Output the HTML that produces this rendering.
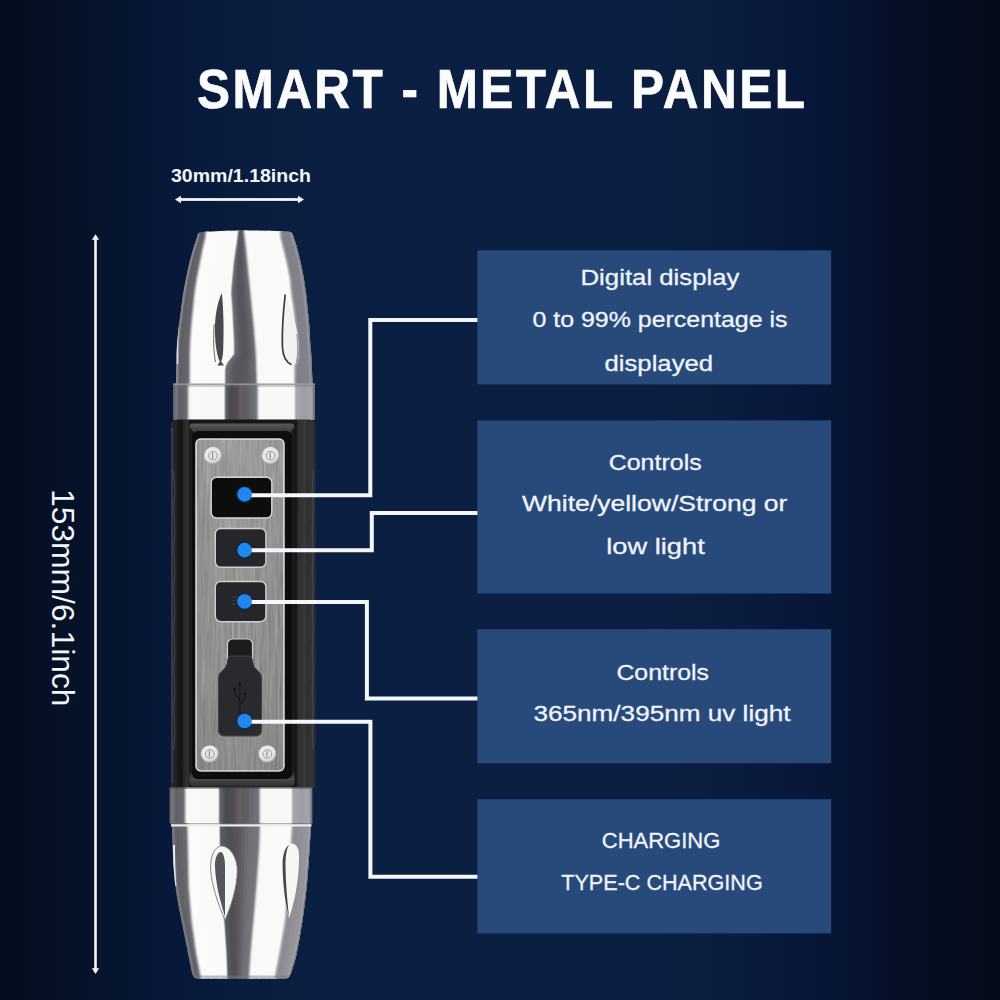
<!DOCTYPE html>
<html><head><meta charset="utf-8">
<style>
html,body{margin:0;padding:0;width:1000px;height:1000px;overflow:hidden;background:#0a1a3e;}
svg{display:block;position:absolute;left:0;top:0;}
text{font-family:"Liberation Sans",sans-serif;fill:#f2f5fa;}
</style></head><body>
<svg width="1000" height="1000" viewBox="0 0 1000 1000">
<defs>
<linearGradient id="bg" x1="0" y1="0" x2="1000" y2="0" gradientUnits="userSpaceOnUse">
<stop offset="0" stop-color="#040d1e"/>
<stop offset="0.03" stop-color="#050f22"/>
<stop offset="0.13" stop-color="#06152f"/>
<stop offset="0.17" stop-color="#07183a"/>
<stop offset="0.23" stop-color="#091c3c"/>
<stop offset="0.32" stop-color="#0b1f42"/>
<stop offset="0.65" stop-color="#0b1f42"/>
<stop offset="0.73" stop-color="#0a1d3e"/>
<stop offset="0.80" stop-color="#08173a"/>
<stop offset="0.86" stop-color="#061330"/>
<stop offset="0.90" stop-color="#050f24"/>
<stop offset="0.97" stop-color="#050d1e"/>
<stop offset="1" stop-color="#040b1a"/>
</linearGradient>
<linearGradient id="gL" x1="0" y1="0" x2="1" y2="0">
<stop offset="0" stop-color="#3c3c3c"/>
<stop offset="0.2" stop-color="#6a6a6a"/>
<stop offset="0.6" stop-color="#7c7c7c"/>
<stop offset="0.9" stop-color="#8e8e8e"/>
<stop offset="1" stop-color="#c8c8c8"/>
</linearGradient>
<linearGradient id="gS" x1="0" y1="0" x2="1" y2="0">
<stop offset="0" stop-color="#a0a0a0"/>
<stop offset="0.12" stop-color="#6c6c6c"/>
<stop offset="0.5" stop-color="#7a7474"/>
<stop offset="0.85" stop-color="#626262"/>
<stop offset="1" stop-color="#9a9a9a"/>
</linearGradient>
<linearGradient id="gS2" x1="0" y1="0" x2="1" y2="0">
<stop offset="0" stop-color="#9a9a9a"/>
<stop offset="0.1" stop-color="#555555"/>
<stop offset="0.5" stop-color="#7d7070"/>
<stop offset="0.85" stop-color="#646464"/>
<stop offset="1" stop-color="#a8a8a8"/>
</linearGradient>
<linearGradient id="gR" x1="0" y1="0" x2="1" y2="0">
<stop offset="0" stop-color="#d8d8d8"/>
<stop offset="0.25" stop-color="#a8a8a8"/>
<stop offset="0.7" stop-color="#8e8e8e"/>
<stop offset="0.9" stop-color="#a0a0a0"/>
<stop offset="1" stop-color="#5a5a5a"/>
</linearGradient>
<linearGradient id="panelV" x1="0" y1="0" x2="0" y2="1">
<stop offset="0" stop-color="#a9a9ab"/>
<stop offset="0.45" stop-color="#9b9b9d"/>
<stop offset="1" stop-color="#8c8c8e"/>
</linearGradient>
<linearGradient id="brushed" x1="0" y1="0" x2="1" y2="0">
<stop offset="0" stop-color="#7e7e7e"/>
<stop offset="0.35" stop-color="#9e9e9e"/>
<stop offset="0.65" stop-color="#969696"/>
<stop offset="1" stop-color="#808080"/>
</linearGradient>
<linearGradient id="rub" x1="171" y1="0" x2="315.5" y2="0" gradientUnits="userSpaceOnUse">
<stop offset="0" stop-color="#2a2c30"/>
<stop offset="0.03" stop-color="#232323"/>
<stop offset="0.06" stop-color="#151515"/>
<stop offset="0.08" stop-color="#1a1a1a"/>
<stop offset="0.10" stop-color="#2e2e2e"/>
<stop offset="0.12" stop-color="#303030"/>
<stop offset="0.13" stop-color="#141414"/>
<stop offset="0.87" stop-color="#141414"/>
<stop offset="0.875" stop-color="#2a2a2a"/>
<stop offset="0.93" stop-color="#3a3a3a"/>
<stop offset="0.94" stop-color="#2e2e2e"/>
<stop offset="0.98" stop-color="#333"/>
<stop offset="1" stop-color="#2a2c30"/>
</linearGradient>
<linearGradient id="chamT" x1="0" y1="0" x2="0" y2="1">
<stop offset="0" stop-color="#5a5a5a"/>
<stop offset="1" stop-color="#2a2a2a"/>
</linearGradient>
<linearGradient id="chamB" x1="0" y1="0" x2="0" y2="1">
<stop offset="0" stop-color="#1a1a1a"/>
<stop offset="0.55" stop-color="#4a4a4c"/>
<stop offset="1" stop-color="#2e2e30"/>
</linearGradient>
<filter id="brushF" x="0" y="0" width="1" height="1" color-interpolation-filters="sRGB">
<feTurbulence type="fractalNoise" baseFrequency="0.5 0.02" numOctaves="3" seed="7" result="n"/>
<feColorMatrix in="n" type="matrix" values="0.6 0.6 0.6 0 -0.4  0.6 0.6 0.6 0 -0.4  0.6 0.6 0.6 0 -0.4  0 0 0 0 1"/>
</filter>
<clipPath id="panelClip"><rect x="195.5" y="438.5" width="89" height="333" rx="5"/></clipPath>
<filter id="soft" x="-5%" y="-2%" width="110%" height="104%"><feGaussianBlur stdDeviation="0.45"/></filter>
<clipPath id="headClip"><path d="M197.2,236.4 C197.6,233.4 199.2,232.2 202,231.9 Q246,229.4 288.5,231.5 C291.2,231.7 293,233.4 293.4,236.4 C293.9,238.0 295.4,241.7 296.6,246.0 C297.8,250.3 299.4,256.7 300.6,262.0 C301.8,267.3 302.9,272.7 303.8,278.0 C304.7,283.3 305.5,288.7 306.2,294.0 C306.9,299.3 307.3,304.7 307.8,310.0 C308.3,315.3 309.0,320.7 309.4,326.0 C309.8,331.3 309.8,336.7 310.2,342.0 C310.6,347.3 311.1,351.0 311.5,358.0 C311.9,365.0 312.4,379.7 312.6,384.0 L176,384 C176.1,379.7 176.2,365.0 176.4,358.0 C176.6,351.0 176.8,347.3 177.2,342.0 C177.6,336.7 178.2,331.3 178.8,326.0 C179.4,320.7 180.2,315.3 180.9,310.0 C181.6,304.7 182.2,299.3 183.1,294.0 C183.9,288.7 184.9,283.3 186.0,278.0 C187.1,272.7 188.2,267.3 189.5,262.0 C190.8,256.7 192.7,250.3 194.0,246.0 C195.3,241.7 196.7,238.0 197.2,236.4 Z"/></clipPath>
<linearGradient id="gLh" x1="0" y1="0" x2="1" y2="0">
<stop offset="0" stop-color="#6a6a70"/>
<stop offset="0.42" stop-color="#8e8e94"/>
<stop offset="0.55" stop-color="#6c6c72"/>
<stop offset="0.85" stop-color="#76767c"/>
<stop offset="1" stop-color="#c4c4c6"/>
</linearGradient>
<linearGradient id="gRh" x1="0" y1="0" x2="1" y2="0">
<stop offset="0" stop-color="#c8c8ca"/>
<stop offset="0.2" stop-color="#8a8a90"/>
<stop offset="0.45" stop-color="#74747a"/>
<stop offset="0.62" stop-color="#a6a6ac"/>
<stop offset="0.75" stop-color="#6e6e76"/>
<stop offset="1" stop-color="#5a5a62"/>
</linearGradient>
<radialGradient id="scr" cx="0.45" cy="0.4" r="0.6">
<stop offset="0" stop-color="#f6f6f6"/>
<stop offset="0.75" stop-color="#e2e2e2"/>
<stop offset="1" stop-color="#9c9c9c"/>
</radialGradient>
</defs>

<rect x="0" y="0" width="1000" height="1000" fill="url(#bg)"/>

<text transform="scale(0.9,1)" x="218.9" y="108.3" font-size="55" font-weight="bold" textLength="675.5" lengthAdjust="spacing" style="fill:#fcfcfd;stroke:#fcfcfd;stroke-width:0.7">SMART - METAL PANEL</text>

<text x="171" y="181.8" font-size="18" font-weight="bold" textLength="140" lengthAdjust="spacingAndGlyphs">30mm/1.18inch</text>
<rect x="180" y="198.1" width="119" height="2.8" fill="#f2f4f8"/>
<polygon points="175,199.5 181,195.7 181,203.3" fill="#f2f4f8"/>
<polygon points="304,199.5 298,195.7 298,203.3" fill="#f2f4f8"/>

<rect x="94.2" y="239" width="2.6" height="730" fill="#f2f4f8"/>
<polygon points="95.5,234.2 91.8,239.8 99.2,239.8" fill="#f2f4f8"/>
<polygon points="95.5,974 91.8,968.3 99.2,968.3" fill="#f2f4f8"/>
<text transform="translate(51.8,489) rotate(90)" x="0" y="0" font-size="31.5" textLength="217.5" lengthAdjust="spacingAndGlyphs">153mm/6.1inch</text>

<g filter="url(#soft)">
<g clip-path="url(#headClip)">
<path d="M187.2,226.0 L187.2,230.0 L187.2,234.0 L186.7,238.0 L185.3,242.0 L184.0,246.0 L182.9,250.0 L181.8,254.0 L180.6,258.0 L179.5,262.0 L178.6,266.0 L177.8,270.0 L176.9,274.0 L176.0,278.0 L175.3,282.0 L174.6,286.0 L173.8,290.0 L173.1,294.0 L172.6,298.0 L172.0,302.0 L171.4,306.0 L170.9,310.0 L170.4,314.0 L169.9,318.0 L169.3,322.0 L168.8,326.0 L168.4,330.0 L168.0,334.0 L167.6,338.0 L167.2,342.0 L167.0,346.0 L166.8,350.0 L166.6,354.0 L166.4,358.0 L166.3,362.0 L166.3,366.0 L166.2,370.0 L166.2,374.0 L166.1,378.0 L166.1,382.0 L166.0,386.0 L170.6,386.0 L170.7,382.0 L170.7,378.0 L170.8,374.0 L170.9,370.0 L170.9,366.0 L171.0,362.0 L171.0,358.0 L171.2,354.0 L171.4,350.0 L171.6,346.0 L171.8,342.0 L172.2,338.0 L172.6,334.0 L173.0,330.0 L173.4,326.0 L174.0,322.0 L174.5,318.0 L175.0,314.0 L175.5,310.0 L176.1,306.0 L176.6,302.0 L177.2,298.0 L177.7,294.0 L178.5,290.0 L179.2,286.0 L179.9,282.0 L180.6,278.0 L181.5,274.0 L182.4,270.0 L183.3,266.0 L184.1,262.0 L185.3,258.0 L186.4,254.0 L187.5,250.0 L188.6,246.0 L190.0,242.0 L191.3,238.0 L191.8,234.0 L191.8,230.0 L191.8,226.0Z" fill="#7a7a80"/><path d="M190.5,226.0 L190.5,230.0 L190.5,234.0 L190.0,238.0 L188.7,242.0 L187.3,246.0 L186.2,250.0 L185.1,254.0 L184.0,258.0 L182.8,262.0 L182.0,266.0 L181.1,270.0 L180.2,274.0 L179.3,278.0 L178.6,282.0 L177.9,286.0 L177.2,290.0 L176.4,294.0 L175.9,298.0 L175.3,302.0 L174.8,306.0 L174.2,310.0 L173.7,314.0 L173.2,318.0 L172.7,322.0 L172.1,326.0 L171.7,330.0 L171.3,334.0 L170.9,338.0 L170.5,342.0 L170.3,346.0 L170.1,350.0 L169.9,354.0 L169.7,358.0 L169.7,362.0 L169.6,366.0 L169.6,370.0 L169.5,374.0 L169.4,378.0 L169.4,382.0 L169.3,386.0 L174.0,386.0 L174.0,382.0 L174.1,378.0 L174.1,374.0 L174.2,370.0 L174.3,366.0 L174.3,362.0 L174.4,358.0 L174.6,354.0 L174.8,350.0 L175.0,346.0 L175.2,342.0 L175.6,338.0 L176.0,334.0 L176.4,330.0 L176.8,326.0 L177.3,322.0 L177.8,318.0 L178.3,314.0 L178.9,310.0 L179.4,306.0 L180.0,302.0 L180.5,298.0 L181.1,294.0 L181.8,290.0 L182.5,286.0 L183.2,282.0 L184.0,278.0 L184.8,274.0 L185.7,270.0 L186.6,266.0 L187.5,262.0 L188.6,258.0 L189.7,254.0 L190.8,250.0 L192.0,246.0 L193.3,242.0 L194.6,238.0 L195.2,234.0 L195.2,230.0 L195.2,226.0Z" fill="#7b7b81"/><path d="M193.9,226.0 L193.9,230.0 L193.9,234.0 L193.3,238.0 L192.0,242.0 L190.7,246.0 L189.5,250.0 L188.4,254.0 L187.3,258.0 L186.2,262.0 L185.3,266.0 L184.4,270.0 L183.5,274.0 L182.7,278.0 L181.9,282.0 L181.2,286.0 L180.5,290.0 L179.8,294.0 L179.2,298.0 L178.7,302.0 L178.1,306.0 L177.6,310.0 L177.0,314.0 L176.5,318.0 L176.0,322.0 L175.5,326.0 L175.1,330.0 L174.7,334.0 L174.3,338.0 L173.9,342.0 L173.7,346.0 L173.5,350.0 L173.3,354.0 L173.1,358.0 L173.0,362.0 L173.0,366.0 L172.9,370.0 L172.8,374.0 L172.8,378.0 L172.7,382.0 L172.7,386.0 L177.3,386.0 L177.4,382.0 L177.4,378.0 L177.5,374.0 L177.5,370.0 L177.6,366.0 L177.6,362.0 L177.7,358.0 L177.9,354.0 L178.1,350.0 L178.3,346.0 L178.5,342.0 L178.9,338.0 L179.3,334.0 L179.7,330.0 L180.1,326.0 L180.6,322.0 L181.2,318.0 L181.7,314.0 L182.2,310.0 L182.8,306.0 L183.3,302.0 L183.9,298.0 L184.4,294.0 L185.1,290.0 L185.9,286.0 L186.6,282.0 L187.3,278.0 L188.2,274.0 L189.1,270.0 L189.9,266.0 L190.8,262.0 L191.9,258.0 L193.1,254.0 L194.2,250.0 L195.3,246.0 L196.6,242.0 L198.0,238.0 L198.5,234.0 L198.5,230.0 L198.5,226.0Z" fill="#7c7c82"/><path d="M197.2,226.0 L197.2,230.0 L197.2,234.0 L196.7,238.0 L195.3,242.0 L194.0,246.0 L192.9,250.0 L191.8,254.0 L190.6,258.0 L189.5,262.0 L188.6,266.0 L187.8,270.0 L186.9,274.0 L186.0,278.0 L185.3,282.0 L184.6,286.0 L183.8,290.0 L183.1,294.0 L182.6,298.0 L182.0,302.0 L181.4,306.0 L180.9,310.0 L180.4,314.0 L179.9,318.0 L179.3,322.0 L178.8,326.0 L178.4,330.0 L178.0,334.0 L177.6,338.0 L177.2,342.0 L177.0,346.0 L176.8,350.0 L176.6,354.0 L176.4,358.0 L176.3,362.0 L176.3,366.0 L176.2,370.0 L176.2,374.0 L176.1,378.0 L176.1,382.0 L176.0,386.0 L177.7,386.0 L177.8,382.0 L177.8,378.0 L177.9,374.0 L177.9,370.0 L178.0,366.0 L178.0,362.0 L178.1,358.0 L178.3,354.0 L178.5,350.0 L178.7,346.0 L178.9,342.0 L179.3,338.0 L179.7,334.0 L180.1,330.0 L180.5,326.0 L181.0,322.0 L181.6,318.0 L182.1,314.0 L182.6,310.0 L183.2,306.0 L183.7,302.0 L184.3,298.0 L184.8,294.0 L185.5,290.0 L186.3,286.0 L187.0,282.0 L187.7,278.0 L188.6,274.0 L189.5,270.0 L190.3,266.0 L191.2,262.0 L192.3,258.0 L193.5,254.0 L194.6,250.0 L195.7,246.0 L197.0,242.0 L198.4,238.0 L198.9,234.0 L198.9,230.0 L198.9,226.0Z" fill="#7f7f85"/><path d="M197.6,226.0 L197.6,230.0 L197.6,234.0 L197.1,238.0 L195.7,242.0 L194.4,246.0 L193.3,250.0 L192.2,254.0 L191.0,258.0 L189.9,262.0 L189.0,266.0 L188.2,270.0 L187.3,274.0 L186.4,278.0 L185.7,282.0 L185.0,286.0 L184.2,290.0 L183.5,294.0 L183.0,298.0 L182.4,302.0 L181.8,306.0 L181.3,310.0 L180.8,314.0 L180.3,318.0 L179.7,322.0 L179.2,326.0 L178.8,330.0 L178.4,334.0 L178.0,338.0 L177.6,342.0 L177.4,346.0 L177.2,350.0 L177.0,354.0 L176.8,358.0 L176.7,362.0 L176.7,366.0 L176.6,370.0 L176.6,374.0 L176.5,378.0 L176.5,382.0 L176.4,386.0 L178.1,386.0 L178.2,382.0 L178.2,378.0 L178.3,374.0 L178.3,370.0 L178.4,366.0 L178.4,362.0 L178.5,358.0 L178.7,354.0 L178.9,350.0 L179.1,346.0 L179.3,342.0 L179.7,338.0 L180.1,334.0 L180.5,330.0 L180.9,326.0 L181.4,322.0 L182.0,318.0 L182.5,314.0 L183.0,310.0 L183.5,306.0 L184.1,302.0 L184.7,298.0 L185.2,294.0 L185.9,290.0 L186.7,286.0 L187.4,282.0 L188.1,278.0 L189.0,274.0 L189.8,270.0 L190.7,266.0 L191.6,262.0 L192.7,258.0 L193.8,254.0 L195.0,250.0 L196.1,246.0 L197.4,242.0 L198.8,238.0 L199.3,234.0 L199.3,230.0 L199.3,226.0Z" fill="#84848a"/><path d="M198.0,226.0 L198.0,230.0 L198.0,234.0 L197.5,238.0 L196.1,242.0 L194.8,246.0 L193.7,250.0 L192.5,254.0 L191.4,258.0 L190.3,262.0 L189.4,266.0 L188.5,270.0 L187.7,274.0 L186.8,278.0 L186.1,282.0 L185.3,286.0 L184.6,290.0 L183.9,294.0 L183.3,298.0 L182.8,302.0 L182.2,306.0 L181.7,310.0 L181.2,314.0 L180.7,318.0 L180.1,322.0 L179.6,326.0 L179.2,330.0 L178.8,334.0 L178.4,338.0 L178.0,342.0 L177.8,346.0 L177.6,350.0 L177.4,354.0 L177.2,358.0 L177.1,362.0 L177.1,366.0 L177.0,370.0 L177.0,374.0 L176.9,378.0 L176.9,382.0 L176.8,386.0 L178.5,386.0 L178.6,382.0 L178.6,378.0 L178.7,374.0 L178.7,370.0 L178.8,366.0 L178.8,362.0 L178.9,358.0 L179.1,354.0 L179.3,350.0 L179.5,346.0 L179.7,342.0 L180.1,338.0 L180.5,334.0 L180.9,330.0 L181.3,326.0 L181.8,322.0 L182.4,318.0 L182.9,314.0 L183.4,310.0 L183.9,306.0 L184.5,302.0 L185.1,298.0 L185.6,294.0 L186.3,290.0 L187.1,286.0 L187.8,282.0 L188.5,278.0 L189.4,274.0 L190.2,270.0 L191.1,266.0 L192.0,262.0 L193.1,258.0 L194.2,254.0 L195.4,250.0 L196.5,246.0 L197.8,242.0 L199.2,238.0 L199.7,234.0 L199.7,230.0 L199.7,226.0Z" fill="#89898f"/><path d="M198.4,226.0 L198.4,230.0 L198.4,234.0 L197.9,238.0 L196.5,242.0 L195.2,246.0 L194.1,250.0 L192.9,254.0 L191.8,258.0 L190.7,262.0 L189.8,266.0 L188.9,270.0 L188.1,274.0 L187.2,278.0 L186.5,282.0 L185.8,286.0 L185.0,290.0 L184.3,294.0 L183.8,298.0 L183.2,302.0 L182.6,306.0 L182.1,310.0 L181.6,314.0 L181.1,318.0 L180.5,322.0 L180.0,326.0 L179.6,330.0 L179.2,334.0 L178.8,338.0 L178.4,342.0 L178.2,346.0 L178.0,350.0 L177.8,354.0 L177.6,358.0 L177.5,362.0 L177.5,366.0 L177.4,370.0 L177.4,374.0 L177.3,378.0 L177.3,382.0 L177.2,386.0 L179.1,386.0 L179.2,382.0 L179.2,378.0 L179.3,374.0 L179.3,370.0 L179.4,366.0 L179.4,362.0 L179.5,358.0 L179.7,354.0 L179.9,350.0 L180.1,346.0 L180.3,342.0 L180.7,338.0 L181.1,334.0 L181.5,330.0 L181.9,326.0 L182.4,322.0 L183.0,318.0 L183.5,314.0 L184.0,310.0 L184.5,306.0 L185.1,302.0 L185.7,298.0 L186.2,294.0 L186.9,290.0 L187.7,286.0 L188.4,282.0 L189.1,278.0 L190.0,274.0 L190.8,270.0 L191.7,266.0 L192.6,262.0 L193.7,258.0 L194.8,254.0 L196.0,250.0 L197.1,246.0 L198.4,242.0 L199.8,238.0 L200.3,234.0 L200.3,230.0 L200.3,226.0Z" fill="#84848a"/><path d="M199.0,226.0 L199.0,230.0 L199.0,234.0 L198.5,238.0 L197.1,242.0 L195.8,246.0 L194.7,250.0 L193.5,254.0 L192.4,258.0 L191.3,262.0 L190.4,266.0 L189.5,270.0 L188.7,274.0 L187.8,278.0 L187.1,282.0 L186.3,286.0 L185.6,290.0 L184.9,294.0 L184.3,298.0 L183.8,302.0 L183.2,306.0 L182.7,310.0 L182.2,314.0 L181.7,318.0 L181.1,322.0 L180.6,326.0 L180.2,330.0 L179.8,334.0 L179.4,338.0 L179.0,342.0 L178.8,346.0 L178.6,350.0 L178.4,354.0 L178.2,358.0 L178.1,362.0 L178.1,366.0 L178.0,370.0 L178.0,374.0 L177.9,378.0 L177.9,382.0 L177.8,386.0 L179.7,386.0 L179.8,382.0 L179.8,378.0 L179.9,374.0 L179.9,370.0 L180.0,366.0 L180.0,362.0 L180.1,358.0 L180.3,354.0 L180.5,350.0 L180.7,346.0 L180.9,342.0 L181.3,338.0 L181.7,334.0 L182.1,330.0 L182.5,326.0 L183.0,322.0 L183.6,318.0 L184.1,314.0 L184.6,310.0 L185.2,306.0 L185.7,302.0 L186.3,298.0 L186.8,294.0 L187.5,290.0 L188.3,286.0 L189.0,282.0 L189.7,278.0 L190.6,274.0 L191.5,270.0 L192.3,266.0 L193.2,262.0 L194.3,258.0 L195.5,254.0 L196.6,250.0 L197.7,246.0 L199.0,242.0 L200.4,238.0 L200.9,234.0 L200.9,230.0 L200.9,226.0Z" fill="#75757b"/><path d="M199.6,226.0 L199.6,230.0 L199.6,234.0 L199.1,238.0 L197.7,242.0 L196.4,246.0 L195.3,250.0 L194.2,254.0 L193.0,258.0 L191.9,262.0 L191.0,266.0 L190.2,270.0 L189.3,274.0 L188.4,278.0 L187.7,282.0 L187.0,286.0 L186.2,290.0 L185.5,294.0 L185.0,298.0 L184.4,302.0 L183.8,306.0 L183.3,310.0 L182.8,314.0 L182.3,318.0 L181.7,322.0 L181.2,326.0 L180.8,330.0 L180.4,334.0 L180.0,338.0 L179.6,342.0 L179.4,346.0 L179.2,350.0 L179.0,354.0 L178.8,358.0 L178.7,362.0 L178.7,366.0 L178.6,370.0 L178.6,374.0 L178.5,378.0 L178.5,382.0 L178.4,386.0 L180.3,386.0 L180.4,382.0 L180.4,378.0 L180.5,374.0 L180.5,370.0 L180.6,366.0 L180.6,362.0 L180.7,358.0 L180.9,354.0 L181.1,350.0 L181.3,346.0 L181.5,342.0 L181.9,338.0 L182.3,334.0 L182.7,330.0 L183.1,326.0 L183.6,322.0 L184.2,318.0 L184.7,314.0 L185.2,310.0 L185.8,306.0 L186.3,302.0 L186.9,298.0 L187.4,294.0 L188.1,290.0 L188.9,286.0 L189.6,282.0 L190.3,278.0 L191.2,274.0 L192.1,270.0 L192.9,266.0 L193.8,262.0 L194.9,258.0 L196.1,254.0 L197.2,250.0 L198.3,246.0 L199.6,242.0 L201.0,238.0 L201.5,234.0 L201.5,230.0 L201.5,226.0Z" fill="#66666c"/><path d="M200.2,226.0 L200.2,230.0 L200.2,234.0 L199.7,238.0 L198.3,242.0 L197.0,246.0 L195.9,250.0 L194.8,254.0 L193.6,258.0 L192.5,262.0 L191.6,266.0 L190.8,270.0 L189.9,274.0 L189.0,278.0 L188.3,282.0 L187.6,286.0 L186.8,290.0 L186.1,294.0 L185.6,298.0 L185.0,302.0 L184.4,306.0 L183.9,310.0 L183.4,314.0 L182.9,318.0 L182.3,322.0 L181.8,326.0 L181.4,330.0 L181.0,334.0 L180.6,338.0 L180.2,342.0 L180.0,346.0 L179.8,350.0 L179.6,354.0 L179.4,358.0 L179.3,362.0 L179.3,366.0 L179.2,370.0 L179.2,374.0 L179.1,378.0 L179.1,382.0 L179.0,386.0 L183.3,386.0 L183.3,382.0 L183.4,378.0 L183.4,374.0 L183.5,370.0 L183.5,366.0 L183.5,362.0 L183.6,358.0 L183.7,354.0 L183.9,350.0 L184.1,346.0 L184.3,342.0 L184.6,338.0 L185.0,334.0 L185.3,330.0 L185.7,326.0 L186.2,322.0 L186.7,318.0 L187.2,314.0 L187.6,310.0 L188.1,306.0 L188.6,302.0 L189.1,298.0 L189.6,294.0 L190.3,290.0 L191.0,286.0 L191.7,282.0 L192.4,278.0 L193.2,274.0 L194.1,270.0 L194.9,266.0 L195.8,262.0 L196.8,258.0 L197.8,254.0 L198.8,250.0 L199.8,246.0 L201.1,242.0 L202.3,238.0 L202.8,234.0 L202.8,230.0 L202.8,226.0Z" fill="#5f5f65"/><path d="M201.5,226.0 L201.5,230.0 L201.5,234.0 L201.0,238.0 L199.8,242.0 L198.5,246.0 L197.5,250.0 L196.5,254.0 L195.5,258.0 L194.5,262.0 L193.6,266.0 L192.8,270.0 L191.9,274.0 L191.1,278.0 L190.4,282.0 L189.7,286.0 L189.0,290.0 L188.3,294.0 L187.8,298.0 L187.3,302.0 L186.8,306.0 L186.3,310.0 L185.8,314.0 L185.4,318.0 L184.9,322.0 L184.4,326.0 L184.0,330.0 L183.7,334.0 L183.3,338.0 L183.0,342.0 L182.8,346.0 L182.6,350.0 L182.4,354.0 L182.3,358.0 L182.2,362.0 L182.2,366.0 L182.2,370.0 L182.1,374.0 L182.1,378.0 L182.0,382.0 L182.0,386.0 L186.3,386.0 L186.3,382.0 L186.3,378.0 L186.4,374.0 L186.4,370.0 L186.4,366.0 L186.4,362.0 L186.4,358.0 L186.6,354.0 L186.7,350.0 L186.9,346.0 L187.0,342.0 L187.4,338.0 L187.7,334.0 L188.0,330.0 L188.3,326.0 L188.7,322.0 L189.2,318.0 L189.6,314.0 L190.1,310.0 L190.5,306.0 L191.0,302.0 L191.4,298.0 L191.9,294.0 L192.5,290.0 L193.2,286.0 L193.8,282.0 L194.4,278.0 L195.3,274.0 L196.1,270.0 L196.9,266.0 L197.7,262.0 L198.6,258.0 L199.6,254.0 L200.5,250.0 L201.4,246.0 L202.5,242.0 L203.6,238.0 L204.0,234.0 L204.0,230.0 L204.0,226.0Z" fill="#626268"/><path d="M202.7,226.0 L202.7,230.0 L202.7,234.0 L202.3,238.0 L201.2,242.0 L200.1,246.0 L199.2,250.0 L198.2,254.0 L197.3,258.0 L196.4,262.0 L195.6,266.0 L194.8,270.0 L194.0,274.0 L193.1,278.0 L192.5,282.0 L191.8,286.0 L191.2,290.0 L190.6,294.0 L190.1,298.0 L189.7,302.0 L189.2,306.0 L188.8,310.0 L188.3,314.0 L187.9,318.0 L187.4,322.0 L187.0,326.0 L186.7,330.0 L186.4,334.0 L186.1,338.0 L185.7,342.0 L185.6,346.0 L185.4,350.0 L185.3,354.0 L185.1,358.0 L185.1,362.0 L185.1,366.0 L185.1,370.0 L185.1,374.0 L185.0,378.0 L185.0,382.0 L185.0,386.0 L189.3,386.0 L189.3,382.0 L189.3,378.0 L189.3,374.0 L189.3,370.0 L189.3,366.0 L189.3,362.0 L189.3,358.0 L189.4,354.0 L189.6,350.0 L189.7,346.0 L189.8,342.0 L190.1,338.0 L190.4,334.0 L190.6,330.0 L190.9,326.0 L191.3,322.0 L191.7,318.0 L192.1,314.0 L192.5,310.0 L192.9,306.0 L193.3,302.0 L193.7,298.0 L194.1,294.0 L194.7,290.0 L195.3,286.0 L195.9,282.0 L196.5,278.0 L197.3,274.0 L198.1,270.0 L198.9,266.0 L199.7,262.0 L200.5,258.0 L201.3,254.0 L202.1,250.0 L202.9,246.0 L203.9,242.0 L204.9,238.0 L205.3,234.0 L205.3,230.0 L205.3,226.0Z" fill="#65656b"/><path d="M204.0,226.0 L204.0,230.0 L204.0,234.0 L203.6,238.0 L202.6,242.0 L201.6,246.0 L200.8,250.0 L200.0,254.0 L199.2,258.0 L198.4,262.0 L197.6,266.0 L196.8,270.0 L196.0,274.0 L195.2,278.0 L194.6,282.0 L194.0,286.0 L193.4,290.0 L192.8,294.0 L192.4,298.0 L192.0,302.0 L191.6,306.0 L191.2,310.0 L190.8,314.0 L190.4,318.0 L190.0,322.0 L189.6,326.0 L189.3,330.0 L189.1,334.0 L188.8,338.0 L188.5,342.0 L188.4,346.0 L188.2,350.0 L188.1,354.0 L188.0,358.0 L188.0,362.0 L188.0,366.0 L188.0,370.0 L188.0,374.0 L188.0,378.0 L188.0,382.0 L188.0,386.0 L190.0,386.0 L190.0,382.0 L190.0,378.0 L190.0,374.0 L190.0,370.0 L190.0,366.0 L190.0,362.0 L190.0,358.0 L190.1,354.0 L190.2,350.0 L190.3,346.0 L190.5,342.0 L190.7,338.0 L191.0,334.0 L191.3,330.0 L191.6,326.0 L192.0,322.0 L192.4,318.0 L192.8,314.0 L193.2,310.0 L193.6,306.0 L194.0,302.0 L194.4,298.0 L194.8,294.0 L195.4,290.0 L196.0,286.0 L196.6,282.0 L197.2,278.0 L198.0,274.0 L198.8,270.0 L199.6,266.0 L200.4,262.0 L201.2,258.0 L202.0,254.0 L202.8,250.0 L203.6,246.0 L204.6,242.0 L205.6,238.0 L206.0,234.0 L206.0,230.0 L206.0,226.0Z" fill="#76767b"/><path d="M204.7,226.0 L204.7,230.0 L204.7,234.0 L204.3,238.0 L203.3,242.0 L202.3,246.0 L201.5,250.0 L200.7,254.0 L199.9,258.0 L199.1,262.0 L198.3,266.0 L197.5,270.0 L196.7,274.0 L195.9,278.0 L195.3,282.0 L194.7,286.0 L194.1,290.0 L193.5,294.0 L193.1,298.0 L192.7,302.0 L192.3,306.0 L191.9,310.0 L191.5,314.0 L191.1,318.0 L190.7,322.0 L190.3,326.0 L190.0,330.0 L189.7,334.0 L189.4,338.0 L189.2,342.0 L189.0,346.0 L188.9,350.0 L188.8,354.0 L188.7,358.0 L188.7,362.0 L188.7,366.0 L188.7,370.0 L188.7,374.0 L188.7,378.0 L188.7,382.0 L188.7,386.0 L190.6,386.0 L190.6,382.0 L190.6,378.0 L190.6,374.0 L190.6,370.0 L190.6,366.0 L190.6,362.0 L190.6,358.0 L190.8,354.0 L190.9,350.0 L191.0,346.0 L191.1,342.0 L191.4,338.0 L191.7,334.0 L192.0,330.0 L192.2,326.0 L192.6,322.0 L193.0,318.0 L193.4,314.0 L193.8,310.0 L194.2,306.0 L194.6,302.0 L195.0,298.0 L195.4,294.0 L196.0,290.0 L196.6,286.0 L197.2,282.0 L197.8,278.0 L198.6,274.0 L199.4,270.0 L200.2,266.0 L201.0,262.0 L201.8,258.0 L202.6,254.0 L203.4,250.0 L204.2,246.0 L205.2,242.0 L206.2,238.0 L206.6,234.0 L206.6,230.0 L206.6,226.0Z" fill="#95959a"/><path d="M205.3,226.0 L205.3,230.0 L205.3,234.0 L204.9,238.0 L203.9,242.0 L202.9,246.0 L202.1,250.0 L201.3,254.0 L200.5,258.0 L199.7,262.0 L198.9,266.0 L198.1,270.0 L197.3,274.0 L196.5,278.0 L195.9,282.0 L195.3,286.0 L194.7,290.0 L194.1,294.0 L193.7,298.0 L193.3,302.0 L192.9,306.0 L192.5,310.0 L192.1,314.0 L191.7,318.0 L191.3,322.0 L190.9,326.0 L190.7,330.0 L190.4,334.0 L190.1,338.0 L189.8,342.0 L189.7,346.0 L189.6,350.0 L189.5,354.0 L189.3,358.0 L189.3,362.0 L189.3,366.0 L189.3,370.0 L189.3,374.0 L189.3,378.0 L189.3,382.0 L189.3,386.0 L191.3,386.0 L191.3,382.0 L191.3,378.0 L191.3,374.0 L191.3,370.0 L191.3,366.0 L191.3,362.0 L191.3,358.0 L191.4,354.0 L191.6,350.0 L191.7,346.0 L191.8,342.0 L192.1,338.0 L192.4,334.0 L192.6,330.0 L192.9,326.0 L193.3,322.0 L193.7,318.0 L194.1,314.0 L194.5,310.0 L194.9,306.0 L195.3,302.0 L195.7,298.0 L196.1,294.0 L196.7,290.0 L197.3,286.0 L197.9,282.0 L198.5,278.0 L199.3,274.0 L200.1,270.0 L200.9,266.0 L201.7,262.0 L202.5,258.0 L203.3,254.0 L204.1,250.0 L204.9,246.0 L205.9,242.0 L206.9,238.0 L207.3,234.0 L207.3,230.0 L207.3,226.0Z" fill="#b4b4b9"/><path d="M206.0,226.0 L206.0,230.0 L206.0,234.0 L205.6,238.0 L204.6,242.0 L203.6,246.0 L202.8,250.0 L202.0,254.0 L201.2,258.0 L200.4,262.0 L199.6,266.0 L198.8,270.0 L198.0,274.0 L197.2,278.0 L196.6,282.0 L196.0,286.0 L195.4,290.0 L194.8,294.0 L194.4,298.0 L194.0,302.0 L193.6,306.0 L193.2,310.0 L192.8,314.0 L192.4,318.0 L192.0,322.0 L191.6,326.0 L191.3,330.0 L191.1,334.0 L190.8,338.0 L190.5,342.0 L190.4,346.0 L190.2,350.0 L190.1,354.0 L190.0,358.0 L190.0,362.0 L190.0,366.0 L190.0,370.0 L190.0,374.0 L190.0,378.0 L190.0,382.0 L190.0,386.0 L191.8,386.0 L191.8,382.0 L191.8,378.0 L191.8,374.0 L191.8,370.0 L191.8,366.0 L191.8,362.0 L191.8,358.0 L191.9,354.0 L192.1,350.0 L192.2,346.0 L192.3,342.0 L192.6,338.0 L192.9,334.0 L193.1,330.0 L193.4,326.0 L193.8,322.0 L194.2,318.0 L194.6,314.0 L195.0,310.0 L195.4,306.0 L195.8,302.0 L196.2,298.0 L196.6,294.0 L197.2,290.0 L197.8,286.0 L198.4,282.0 L199.0,278.0 L199.8,274.0 L200.6,270.0 L201.4,266.0 L202.2,262.0 L203.0,258.0 L203.8,254.0 L204.6,250.0 L205.4,246.0 L206.4,242.0 L207.4,238.0 L207.8,234.0 L207.8,230.0 L207.8,226.0Z" fill="#cdcdd0"/><path d="M206.5,226.0 L206.5,230.0 L206.5,234.0 L206.1,238.0 L205.1,242.0 L204.1,246.0 L203.3,250.0 L202.5,254.0 L201.7,258.0 L200.9,262.0 L200.1,266.0 L199.3,270.0 L198.5,274.0 L197.7,278.0 L197.1,282.0 L196.5,286.0 L195.9,290.0 L195.3,294.0 L194.9,298.0 L194.5,302.0 L194.1,306.0 L193.7,310.0 L193.3,314.0 L192.9,318.0 L192.5,322.0 L192.1,326.0 L191.8,330.0 L191.6,334.0 L191.3,338.0 L191.0,342.0 L190.9,346.0 L190.8,350.0 L190.6,354.0 L190.5,358.0 L190.5,362.0 L190.5,366.0 L190.5,370.0 L190.5,374.0 L190.5,378.0 L190.5,382.0 L190.5,386.0 L192.3,386.0 L192.3,382.0 L192.3,378.0 L192.3,374.0 L192.3,370.0 L192.3,366.0 L192.3,362.0 L192.3,358.0 L192.4,354.0 L192.6,350.0 L192.7,346.0 L192.8,342.0 L193.1,338.0 L193.4,334.0 L193.6,330.0 L193.9,326.0 L194.3,322.0 L194.7,318.0 L195.1,314.0 L195.5,310.0 L195.9,306.0 L196.3,302.0 L196.7,298.0 L197.1,294.0 L197.7,290.0 L198.3,286.0 L198.9,282.0 L199.5,278.0 L200.3,274.0 L201.1,270.0 L201.9,266.0 L202.7,262.0 L203.5,258.0 L204.3,254.0 L205.1,250.0 L205.9,246.0 L206.9,242.0 L207.9,238.0 L208.3,234.0 L208.3,230.0 L208.3,226.0Z" fill="#e0e0e2"/><path d="M207.0,226.0 L207.0,230.0 L207.0,234.0 L206.6,238.0 L205.6,242.0 L204.6,246.0 L203.8,250.0 L203.0,254.0 L202.2,258.0 L201.4,262.0 L200.6,266.0 L199.8,270.0 L199.0,274.0 L198.2,278.0 L197.6,282.0 L197.0,286.0 L196.4,290.0 L195.8,294.0 L195.4,298.0 L195.0,302.0 L194.6,306.0 L194.2,310.0 L193.8,314.0 L193.4,318.0 L193.0,322.0 L192.6,326.0 L192.3,330.0 L192.1,334.0 L191.8,338.0 L191.5,342.0 L191.4,346.0 L191.2,350.0 L191.1,354.0 L191.0,358.0 L191.0,362.0 L191.0,366.0 L191.0,370.0 L191.0,374.0 L191.0,378.0 L191.0,382.0 L191.0,386.0 L192.8,386.0 L192.8,382.0 L192.8,378.0 L192.8,374.0 L192.8,370.0 L192.8,366.0 L192.8,362.0 L192.8,358.0 L192.9,354.0 L193.1,350.0 L193.2,346.0 L193.3,342.0 L193.6,338.0 L193.9,334.0 L194.1,330.0 L194.4,326.0 L194.8,322.0 L195.2,318.0 L195.6,314.0 L196.0,310.0 L196.4,306.0 L196.8,302.0 L197.2,298.0 L197.6,294.0 L198.2,290.0 L198.8,286.0 L199.4,282.0 L200.0,278.0 L200.8,274.0 L201.6,270.0 L202.4,266.0 L203.2,262.0 L204.0,258.0 L204.8,254.0 L205.6,250.0 L206.4,246.0 L207.4,242.0 L208.4,238.0 L208.8,234.0 L208.8,230.0 L208.8,226.0Z" fill="#f2f2f2"/><path d="M207.5,226.0 L207.5,230.0 L207.5,234.0 L207.1,238.0 L206.1,242.0 L205.1,246.0 L204.3,250.0 L203.5,254.0 L202.7,258.0 L201.9,262.0 L201.1,266.0 L200.3,270.0 L199.5,274.0 L198.7,278.0 L198.1,282.0 L197.5,286.0 L196.9,290.0 L196.3,294.0 L195.9,298.0 L195.5,302.0 L195.1,306.0 L194.7,310.0 L194.3,314.0 L193.9,318.0 L193.5,322.0 L193.1,326.0 L192.8,330.0 L192.6,334.0 L192.3,338.0 L192.0,342.0 L191.9,346.0 L191.8,350.0 L191.6,354.0 L191.5,358.0 L191.5,362.0 L191.5,366.0 L191.5,370.0 L191.5,374.0 L191.5,378.0 L191.5,382.0 L191.5,386.0 L203.7,386.0 L203.7,382.0 L203.7,378.0 L203.7,374.0 L203.7,370.0 L204.0,366.0 L204.7,362.0 L205.7,358.0 L206.8,354.0 L206.9,350.0 L207.0,346.0 L207.0,342.0 L207.2,338.0 L207.3,334.0 L207.4,330.0 L207.5,326.0 L207.7,322.0 L207.9,318.0 L208.1,314.0 L208.3,310.0 L208.5,306.0 L208.6,302.0 L208.8,298.0 L209.0,294.0 L209.4,290.0 L209.9,286.0 L210.4,282.0 L210.9,278.0 L211.6,274.0 L212.3,270.0 L212.9,266.0 L213.6,262.0 L214.3,258.0 L215.0,254.0 L215.7,250.0 L216.5,246.0 L217.3,242.0 L218.2,238.0 L218.6,234.0 L218.7,230.0 L218.7,226.0Z" fill="#fbfbfb"/><path d="M217.4,226.0 L217.4,230.0 L217.3,234.0 L216.9,238.0 L216.0,242.0 L215.2,246.0 L214.4,250.0 L213.7,254.0 L213.0,258.0 L212.3,262.0 L211.6,266.0 L211.0,270.0 L210.3,274.0 L209.6,278.0 L209.1,282.0 L208.6,286.0 L208.1,290.0 L207.7,294.0 L207.5,298.0 L207.3,302.0 L207.2,306.0 L207.0,310.0 L206.8,314.0 L206.6,318.0 L206.4,322.0 L206.2,326.0 L206.1,330.0 L206.0,334.0 L205.9,338.0 L205.7,342.0 L205.7,346.0 L205.6,350.0 L205.5,354.0 L204.4,358.0 L203.4,362.0 L202.7,366.0 L202.4,370.0 L202.4,374.0 L202.4,378.0 L202.4,382.0 L202.4,386.0 L214.7,386.0 L214.7,382.0 L214.7,378.0 L214.7,374.0 L214.7,370.0 L215.1,366.0 L216.5,362.0 L218.7,358.0 L220.6,354.0 L220.7,350.0 L220.7,346.0 L220.8,342.0 L220.7,338.0 L220.7,334.0 L220.7,330.0 L220.6,326.0 L220.6,322.0 L220.6,318.0 L220.6,314.0 L220.6,310.0 L220.6,306.0 L220.5,302.0 L220.4,298.0 L220.3,294.0 L220.6,290.0 L221.0,286.0 L221.4,282.0 L221.9,278.0 L222.4,274.0 L222.9,270.0 L223.4,266.0 L224.0,262.0 L224.6,258.0 L225.2,254.0 L225.9,250.0 L226.6,246.0 L227.3,242.0 L227.9,238.0 L228.4,234.0 L228.7,230.0 L228.7,226.0Z" fill="#fafafa"/><path d="M227.4,226.0 L227.4,230.0 L227.1,234.0 L226.6,238.0 L226.0,242.0 L225.3,246.0 L224.6,250.0 L223.9,254.0 L223.3,258.0 L222.7,262.0 L222.1,266.0 L221.6,270.0 L221.1,274.0 L220.6,278.0 L220.1,282.0 L219.7,286.0 L219.3,290.0 L219.0,294.0 L219.1,298.0 L219.2,302.0 L219.3,306.0 L219.3,310.0 L219.3,314.0 L219.3,318.0 L219.3,322.0 L219.3,326.0 L219.4,330.0 L219.4,334.0 L219.4,338.0 L219.5,342.0 L219.4,346.0 L219.4,350.0 L219.3,354.0 L217.4,358.0 L215.2,362.0 L213.8,366.0 L213.4,370.0 L213.4,374.0 L213.4,378.0 L213.4,382.0 L213.4,386.0 L225.6,386.0 L225.6,382.0 L225.6,378.0 L225.6,374.0 L225.6,370.0 L226.3,366.0 L228.4,362.0 L231.6,358.0 L234.5,354.0 L234.5,350.0 L234.5,346.0 L234.5,342.0 L234.3,338.0 L234.1,334.0 L233.9,330.0 L233.7,326.0 L233.5,322.0 L233.3,318.0 L233.1,314.0 L232.9,310.0 L232.7,306.0 L232.3,302.0 L232.0,298.0 L231.7,294.0 L231.8,290.0 L232.1,286.0 L232.5,282.0 L232.8,278.0 L233.2,274.0 L233.6,270.0 L233.9,266.0 L234.3,262.0 L234.9,258.0 L235.4,254.0 L236.0,250.0 L236.6,246.0 L237.2,242.0 L237.7,238.0 L238.2,234.0 L238.6,230.0 L238.6,226.0Z" fill="#f9f9f9"/><path d="M237.3,226.0 L237.3,230.0 L236.9,234.0 L236.4,238.0 L235.9,242.0 L235.3,246.0 L234.7,250.0 L234.1,254.0 L233.6,258.0 L233.0,262.0 L232.6,266.0 L232.3,270.0 L231.9,274.0 L231.5,278.0 L231.2,282.0 L230.8,286.0 L230.5,290.0 L230.4,294.0 L230.7,298.0 L231.0,302.0 L231.4,306.0 L231.6,310.0 L231.8,314.0 L232.0,318.0 L232.2,322.0 L232.4,326.0 L232.6,330.0 L232.8,334.0 L233.0,338.0 L233.2,342.0 L233.2,346.0 L233.2,350.0 L233.2,354.0 L230.3,358.0 L227.1,362.0 L225.0,366.0 L224.3,370.0 L224.3,374.0 L224.3,378.0 L224.3,382.0 L224.3,386.0 L226.2,386.0 L226.2,382.0 L226.2,378.0 L226.2,374.0 L226.2,370.0 L226.9,366.0 L229.0,362.0 L232.2,358.0 L235.1,354.0 L235.1,350.0 L235.1,346.0 L235.1,342.0 L234.9,338.0 L234.7,334.0 L234.5,330.0 L234.3,326.0 L234.1,322.0 L233.9,318.0 L233.7,314.0 L233.5,310.0 L233.3,306.0 L232.9,302.0 L232.6,298.0 L232.3,294.0 L232.4,290.0 L232.7,286.0 L233.1,282.0 L233.4,278.0 L233.8,274.0 L234.2,270.0 L234.5,266.0 L234.9,262.0 L235.5,258.0 L236.0,254.0 L236.6,250.0 L237.2,246.0 L237.8,242.0 L238.3,238.0 L238.8,234.0 L239.2,230.0 L239.2,226.0Z" fill="#e2e2e3"/><path d="M237.9,226.0 L237.9,230.0 L237.5,234.0 L237.0,238.0 L236.5,242.0 L235.9,246.0 L235.3,250.0 L234.7,254.0 L234.2,258.0 L233.6,262.0 L233.2,266.0 L232.9,270.0 L232.5,274.0 L232.1,278.0 L231.8,282.0 L231.4,286.0 L231.1,290.0 L231.0,294.0 L231.3,298.0 L231.6,302.0 L232.0,306.0 L232.2,310.0 L232.4,314.0 L232.6,318.0 L232.8,322.0 L233.0,326.0 L233.2,330.0 L233.4,334.0 L233.6,338.0 L233.8,342.0 L233.8,346.0 L233.8,350.0 L233.8,354.0 L230.9,358.0 L227.7,362.0 L225.6,366.0 L224.9,370.0 L224.9,374.0 L224.9,378.0 L224.9,382.0 L224.9,386.0 L226.8,386.0 L226.8,382.0 L226.8,378.0 L226.8,374.0 L226.8,370.0 L227.5,366.0 L229.6,362.0 L232.8,358.0 L235.7,354.0 L235.7,350.0 L235.7,346.0 L235.7,342.0 L235.5,338.0 L235.3,334.0 L235.1,330.0 L234.9,326.0 L234.7,322.0 L234.5,318.0 L234.3,314.0 L234.1,310.0 L233.9,306.0 L233.5,302.0 L233.2,298.0 L232.9,294.0 L233.0,290.0 L233.3,286.0 L233.7,282.0 L234.0,278.0 L234.4,274.0 L234.8,270.0 L235.1,266.0 L235.5,262.0 L236.1,258.0 L236.6,254.0 L237.2,250.0 L237.8,246.0 L238.4,242.0 L238.9,238.0 L239.4,234.0 L239.8,230.0 L239.8,226.0Z" fill="#b4b4b6"/><path d="M238.5,226.0 L238.5,230.0 L238.1,234.0 L237.6,238.0 L237.1,242.0 L236.5,246.0 L235.9,250.0 L235.3,254.0 L234.8,258.0 L234.2,262.0 L233.8,266.0 L233.5,270.0 L233.1,274.0 L232.7,278.0 L232.4,282.0 L232.0,286.0 L231.7,290.0 L231.6,294.0 L231.9,298.0 L232.2,302.0 L232.6,306.0 L232.8,310.0 L233.0,314.0 L233.2,318.0 L233.4,322.0 L233.6,326.0 L233.8,330.0 L234.0,334.0 L234.2,338.0 L234.4,342.0 L234.4,346.0 L234.4,350.0 L234.4,354.0 L231.5,358.0 L228.3,362.0 L226.2,366.0 L225.5,370.0 L225.5,374.0 L225.5,378.0 L225.5,382.0 L225.5,386.0 L227.4,386.0 L227.4,382.0 L227.4,378.0 L227.4,374.0 L227.4,370.0 L228.1,366.0 L230.2,362.0 L233.4,358.0 L236.3,354.0 L236.3,350.0 L236.3,346.0 L236.3,342.0 L236.1,338.0 L235.9,334.0 L235.7,330.0 L235.5,326.0 L235.3,322.0 L235.1,318.0 L234.9,314.0 L234.7,310.0 L234.5,306.0 L234.1,302.0 L233.8,298.0 L233.5,294.0 L233.6,290.0 L233.9,286.0 L234.3,282.0 L234.6,278.0 L235.0,274.0 L235.4,270.0 L235.7,266.0 L236.1,262.0 L236.7,258.0 L237.2,254.0 L237.8,250.0 L238.4,246.0 L239.0,242.0 L239.5,238.0 L240.0,234.0 L240.4,230.0 L240.4,226.0Z" fill="#85858a"/><path d="M239.1,226.0 L239.1,230.0 L238.7,234.0 L238.2,238.0 L237.7,242.0 L237.1,246.0 L236.5,250.0 L235.9,254.0 L235.4,258.0 L234.8,262.0 L234.4,266.0 L234.1,270.0 L233.7,274.0 L233.3,278.0 L233.0,282.0 L232.6,286.0 L232.3,290.0 L232.2,294.0 L232.5,298.0 L232.8,302.0 L233.2,306.0 L233.4,310.0 L233.6,314.0 L233.8,318.0 L234.0,322.0 L234.2,326.0 L234.4,330.0 L234.6,334.0 L234.8,338.0 L235.0,342.0 L235.0,346.0 L235.0,350.0 L235.0,354.0 L232.1,358.0 L228.9,362.0 L226.8,366.0 L226.1,370.0 L226.1,374.0 L226.1,378.0 L226.1,382.0 L226.1,386.0 L230.3,386.0 L230.3,382.0 L230.3,378.0 L230.3,374.0 L230.2,370.0 L230.9,366.0 L232.7,362.0 L235.6,358.0 L238.2,354.0 L238.2,350.0 L238.1,346.0 L238.1,342.0 L237.9,338.0 L237.7,334.0 L237.5,330.0 L237.3,326.0 L237.1,322.0 L236.9,318.0 L236.6,314.0 L236.4,310.0 L236.1,306.0 L235.8,302.0 L235.5,298.0 L235.1,294.0 L235.2,290.0 L235.5,286.0 L235.7,282.0 L236.0,278.0 L236.3,274.0 L236.6,270.0 L236.9,266.0 L237.2,262.0 L237.6,258.0 L238.1,254.0 L238.6,250.0 L239.1,246.0 L239.6,242.0 L240.0,238.0 L240.4,234.0 L240.7,230.0 L240.7,226.0Z" fill="#6a6a70"/><path d="M239.4,226.0 L239.4,230.0 L239.1,234.0 L238.7,238.0 L238.3,242.0 L237.8,246.0 L237.3,250.0 L236.8,254.0 L236.3,258.0 L235.9,262.0 L235.6,266.0 L235.3,270.0 L235.0,274.0 L234.7,278.0 L234.4,282.0 L234.2,286.0 L233.9,290.0 L233.8,294.0 L234.2,298.0 L234.5,302.0 L234.8,306.0 L235.1,310.0 L235.3,314.0 L235.6,318.0 L235.8,322.0 L236.0,326.0 L236.2,330.0 L236.4,334.0 L236.6,338.0 L236.8,342.0 L236.8,346.0 L236.9,350.0 L236.9,354.0 L234.3,358.0 L231.4,362.0 L229.6,366.0 L228.9,370.0 L229.0,374.0 L229.0,378.0 L229.0,382.0 L229.0,386.0 L233.2,386.0 L233.2,382.0 L233.1,378.0 L233.1,374.0 L233.1,370.0 L233.6,366.0 L235.3,362.0 L237.8,358.0 L240.1,354.0 L240.0,350.0 L240.0,346.0 L239.9,342.0 L239.7,338.0 L239.5,334.0 L239.3,330.0 L239.1,326.0 L238.8,322.0 L238.6,318.0 L238.3,314.0 L238.1,310.0 L237.8,306.0 L237.5,302.0 L237.1,298.0 L236.8,294.0 L236.8,290.0 L237.0,286.0 L237.2,282.0 L237.3,278.0 L237.6,274.0 L237.8,270.0 L238.0,266.0 L238.3,262.0 L238.6,258.0 L239.0,254.0 L239.4,250.0 L239.8,246.0 L240.1,242.0 L240.5,238.0 L240.8,234.0 L241.0,230.0 L241.0,226.0Z" fill="#626268"/><path d="M239.7,226.0 L239.7,230.0 L239.5,234.0 L239.2,238.0 L238.8,242.0 L238.5,246.0 L238.1,250.0 L237.7,254.0 L237.3,258.0 L237.0,262.0 L236.7,266.0 L236.5,270.0 L236.3,274.0 L236.0,278.0 L235.9,282.0 L235.7,286.0 L235.5,290.0 L235.5,294.0 L235.8,298.0 L236.2,302.0 L236.5,306.0 L236.8,310.0 L237.0,314.0 L237.3,318.0 L237.5,322.0 L237.8,326.0 L238.0,330.0 L238.2,334.0 L238.4,338.0 L238.6,342.0 L238.7,346.0 L238.7,350.0 L238.8,354.0 L236.5,358.0 L234.0,362.0 L232.3,366.0 L231.8,370.0 L231.8,374.0 L231.8,378.0 L231.9,382.0 L231.9,386.0 L236.1,386.0 L236.0,382.0 L236.0,378.0 L236.0,374.0 L235.9,370.0 L236.4,366.0 L237.8,362.0 L240.1,358.0 L242.0,354.0 L241.9,350.0 L241.8,346.0 L241.8,342.0 L241.5,338.0 L241.3,334.0 L241.1,330.0 L240.8,326.0 L240.6,322.0 L240.3,318.0 L240.1,314.0 L239.8,310.0 L239.5,306.0 L239.1,302.0 L238.8,298.0 L238.4,294.0 L238.4,290.0 L238.5,286.0 L238.6,282.0 L238.7,278.0 L238.9,274.0 L239.0,270.0 L239.2,266.0 L239.3,262.0 L239.6,258.0 L239.9,254.0 L240.2,250.0 L240.5,246.0 L240.7,242.0 L240.9,238.0 L241.2,234.0 L241.3,230.0 L241.3,226.0Z" fill="#5a5a60"/><path d="M240.0,226.0 L240.0,230.0 L239.9,234.0 L239.6,238.0 L239.4,242.0 L239.2,246.0 L238.9,250.0 L238.6,254.0 L238.3,258.0 L238.0,262.0 L237.9,266.0 L237.7,270.0 L237.6,274.0 L237.4,278.0 L237.3,282.0 L237.2,286.0 L237.1,290.0 L237.1,294.0 L237.5,298.0 L237.8,302.0 L238.2,306.0 L238.5,310.0 L238.8,314.0 L239.0,318.0 L239.3,322.0 L239.5,326.0 L239.8,330.0 L240.0,334.0 L240.2,338.0 L240.5,342.0 L240.5,346.0 L240.6,350.0 L240.7,354.0 L238.8,358.0 L236.5,362.0 L235.1,366.0 L234.6,370.0 L234.7,374.0 L234.7,378.0 L234.7,382.0 L234.8,386.0 L239.2,386.0 L239.2,382.0 L239.1,378.0 L239.1,374.0 L239.1,370.0 L239.4,366.0 L240.7,362.0 L242.5,358.0 L244.2,354.0 L244.1,350.0 L243.9,346.0 L243.8,342.0 L243.6,338.0 L243.4,334.0 L243.1,330.0 L242.9,326.0 L242.6,322.0 L242.3,318.0 L242.0,314.0 L241.7,310.0 L241.4,306.0 L241.0,302.0 L240.7,298.0 L240.3,294.0 L240.3,290.0 L240.3,286.0 L240.3,282.0 L240.4,278.0 L240.4,274.0 L240.5,270.0 L240.6,266.0 L240.7,262.0 L240.8,258.0 L241.0,254.0 L241.2,250.0 L241.4,246.0 L241.6,242.0 L241.7,238.0 L241.8,234.0 L241.9,230.0 L241.9,226.0Z" fill="#56565c"/><path d="M240.6,226.0 L240.6,230.0 L240.5,234.0 L240.4,238.0 L240.3,242.0 L240.1,246.0 L239.9,250.0 L239.7,254.0 L239.5,258.0 L239.4,262.0 L239.3,266.0 L239.2,270.0 L239.1,274.0 L239.1,278.0 L239.0,282.0 L239.0,286.0 L239.0,290.0 L239.0,294.0 L239.4,298.0 L239.7,302.0 L240.1,306.0 L240.4,310.0 L240.7,314.0 L241.0,318.0 L241.3,322.0 L241.6,326.0 L241.8,330.0 L242.1,334.0 L242.3,338.0 L242.5,342.0 L242.6,346.0 L242.8,350.0 L242.9,354.0 L241.2,358.0 L239.4,362.0 L238.1,366.0 L237.8,370.0 L237.8,374.0 L237.8,378.0 L237.9,382.0 L237.9,386.0 L242.4,386.0 L242.3,382.0 L242.3,378.0 L242.2,374.0 L242.2,370.0 L242.5,366.0 L243.5,362.0 L245.0,358.0 L246.3,354.0 L246.2,350.0 L246.1,346.0 L245.9,342.0 L245.7,338.0 L245.4,334.0 L245.2,330.0 L244.9,326.0 L244.6,322.0 L244.3,318.0 L244.0,314.0 L243.7,310.0 L243.3,306.0 L243.0,302.0 L242.6,298.0 L242.3,294.0 L242.1,290.0 L242.1,286.0 L242.1,282.0 L242.0,278.0 L242.0,274.0 L242.0,270.0 L242.0,266.0 L242.0,262.0 L242.1,258.0 L242.2,254.0 L242.3,250.0 L242.4,246.0 L242.4,242.0 L242.4,238.0 L242.4,234.0 L242.5,230.0 L242.5,226.0Z" fill="#56565c"/><path d="M241.2,226.0 L241.2,230.0 L241.1,234.0 L241.1,238.0 L241.1,242.0 L241.1,246.0 L241.0,250.0 L240.9,254.0 L240.8,258.0 L240.7,262.0 L240.7,266.0 L240.7,270.0 L240.7,274.0 L240.7,278.0 L240.8,282.0 L240.8,286.0 L240.8,290.0 L241.0,294.0 L241.3,298.0 L241.7,302.0 L242.0,306.0 L242.4,310.0 L242.7,314.0 L243.0,318.0 L243.3,322.0 L243.6,326.0 L243.9,330.0 L244.1,334.0 L244.4,338.0 L244.6,342.0 L244.8,346.0 L244.9,350.0 L245.0,354.0 L243.7,358.0 L242.2,362.0 L241.2,366.0 L240.9,370.0 L240.9,374.0 L241.0,378.0 L241.0,382.0 L241.1,386.0 L245.6,386.0 L245.5,382.0 L245.4,378.0 L245.4,374.0 L245.3,370.0 L245.5,366.0 L246.3,362.0 L247.5,358.0 L248.5,354.0 L248.3,350.0 L248.2,346.0 L248.0,342.0 L247.7,338.0 L247.5,334.0 L247.2,330.0 L246.9,326.0 L246.6,322.0 L246.3,318.0 L246.0,314.0 L245.6,310.0 L245.3,306.0 L244.9,302.0 L244.5,298.0 L244.2,294.0 L244.0,290.0 L243.9,286.0 L243.8,282.0 L243.7,278.0 L243.6,274.0 L243.5,270.0 L243.4,266.0 L243.3,262.0 L243.3,258.0 L243.3,254.0 L243.3,250.0 L243.3,246.0 L243.3,242.0 L243.2,238.0 L243.1,234.0 L243.0,230.0 L243.0,226.0Z" fill="#56565b"/><path d="M241.7,226.0 L241.7,230.0 L241.8,234.0 L241.9,238.0 L242.0,242.0 L242.0,246.0 L242.0,250.0 L242.0,254.0 L242.0,258.0 L242.0,262.0 L242.1,266.0 L242.2,270.0 L242.3,274.0 L242.4,278.0 L242.5,282.0 L242.6,286.0 L242.7,290.0 L242.9,294.0 L243.2,298.0 L243.6,302.0 L244.0,306.0 L244.3,310.0 L244.7,314.0 L245.0,318.0 L245.3,322.0 L245.6,326.0 L245.9,330.0 L246.2,334.0 L246.4,338.0 L246.7,342.0 L246.9,346.0 L247.0,350.0 L247.2,354.0 L246.2,358.0 L245.0,362.0 L244.2,366.0 L244.0,370.0 L244.1,374.0 L244.1,378.0 L244.2,382.0 L244.3,386.0 L249.3,386.0 L249.2,382.0 L249.1,378.0 L249.0,374.0 L248.9,370.0 L249.0,366.0 L249.5,362.0 L250.3,358.0 L250.9,354.0 L250.7,350.0 L250.5,346.0 L250.3,342.0 L250.0,338.0 L249.7,334.0 L249.4,330.0 L249.1,326.0 L248.8,322.0 L248.4,318.0 L248.1,314.0 L247.7,310.0 L247.3,306.0 L247.0,302.0 L246.6,298.0 L246.2,294.0 L246.0,290.0 L245.8,286.0 L245.6,282.0 L245.4,278.0 L245.2,274.0 L245.0,270.0 L244.8,266.0 L244.6,262.0 L244.5,258.0 L244.3,254.0 L244.2,250.0 L244.1,246.0 L243.9,242.0 L243.7,238.0 L243.4,234.0 L243.3,230.0 L243.3,226.0Z" fill="#5a5a5f"/><path d="M242.0,226.0 L242.0,230.0 L242.1,234.0 L242.4,238.0 L242.6,242.0 L242.8,246.0 L242.9,250.0 L243.0,254.0 L243.2,258.0 L243.3,262.0 L243.5,266.0 L243.7,270.0 L243.9,274.0 L244.1,278.0 L244.3,282.0 L244.5,286.0 L244.7,290.0 L244.9,294.0 L245.3,298.0 L245.7,302.0 L246.0,306.0 L246.4,310.0 L246.8,314.0 L247.1,318.0 L247.5,322.0 L247.8,326.0 L248.1,330.0 L248.4,334.0 L248.7,338.0 L249.0,342.0 L249.2,346.0 L249.4,350.0 L249.6,354.0 L249.0,358.0 L248.2,362.0 L247.7,366.0 L247.6,370.0 L247.7,374.0 L247.8,378.0 L247.9,382.0 L248.0,386.0 L253.0,386.0 L252.9,382.0 L252.8,378.0 L252.7,374.0 L252.6,370.0 L252.6,366.0 L252.8,362.0 L253.1,358.0 L253.3,354.0 L253.0,350.0 L252.8,346.0 L252.6,342.0 L252.3,338.0 L252.0,334.0 L251.7,330.0 L251.4,326.0 L251.0,322.0 L250.6,318.0 L250.2,314.0 L249.8,310.0 L249.4,306.0 L249.0,302.0 L248.7,298.0 L248.3,294.0 L247.9,290.0 L247.6,286.0 L247.3,282.0 L247.0,278.0 L246.8,274.0 L246.5,270.0 L246.2,266.0 L245.9,262.0 L245.6,258.0 L245.3,254.0 L245.1,250.0 L244.8,246.0 L244.5,242.0 L244.1,238.0 L243.8,234.0 L243.5,230.0 L243.5,226.0Z" fill="#616166"/><path d="M242.2,226.0 L242.2,230.0 L242.5,234.0 L242.8,238.0 L243.2,242.0 L243.5,246.0 L243.8,250.0 L244.0,254.0 L244.3,258.0 L244.6,262.0 L244.9,266.0 L245.2,270.0 L245.5,274.0 L245.7,278.0 L246.0,282.0 L246.3,286.0 L246.6,290.0 L247.0,294.0 L247.4,298.0 L247.7,302.0 L248.1,306.0 L248.5,310.0 L248.9,314.0 L249.3,318.0 L249.7,322.0 L250.1,326.0 L250.4,330.0 L250.7,334.0 L251.0,338.0 L251.3,342.0 L251.5,346.0 L251.7,350.0 L252.0,354.0 L251.8,358.0 L251.5,362.0 L251.3,366.0 L251.3,370.0 L251.4,374.0 L251.5,378.0 L251.6,382.0 L251.7,386.0 L256.7,386.0 L256.6,382.0 L256.5,378.0 L256.4,374.0 L256.2,370.0 L256.1,366.0 L256.0,362.0 L255.9,358.0 L255.7,354.0 L255.4,350.0 L255.1,346.0 L254.8,342.0 L254.5,338.0 L254.2,334.0 L253.9,330.0 L253.6,326.0 L253.2,322.0 L252.7,318.0 L252.3,314.0 L251.9,310.0 L251.5,306.0 L251.1,302.0 L250.7,298.0 L250.3,294.0 L249.9,290.0 L249.5,286.0 L249.1,282.0 L248.7,278.0 L248.3,274.0 L247.9,270.0 L247.6,266.0 L247.2,262.0 L246.8,258.0 L246.4,254.0 L246.0,250.0 L245.6,246.0 L245.1,242.0 L244.6,238.0 L244.1,234.0 L243.8,230.0 L243.8,226.0Z" fill="#68686e"/><path d="M242.5,226.0 L242.5,230.0 L242.8,234.0 L243.3,238.0 L243.8,242.0 L244.3,246.0 L244.7,250.0 L245.1,254.0 L245.5,258.0 L245.9,262.0 L246.3,266.0 L246.6,270.0 L247.0,274.0 L247.4,278.0 L247.8,282.0 L248.2,286.0 L248.6,290.0 L249.0,294.0 L249.4,298.0 L249.8,302.0 L250.2,306.0 L250.6,310.0 L251.0,314.0 L251.4,318.0 L251.9,322.0 L252.3,326.0 L252.6,330.0 L252.9,334.0 L253.2,338.0 L253.5,342.0 L253.8,346.0 L254.1,350.0 L254.4,354.0 L254.6,358.0 L254.7,362.0 L254.8,366.0 L254.9,370.0 L255.1,374.0 L255.2,378.0 L255.3,382.0 L255.4,386.0 L257.4,386.0 L257.3,382.0 L257.1,378.0 L257.0,374.0 L256.9,370.0 L256.8,366.0 L256.7,362.0 L256.6,358.0 L256.3,354.0 L256.1,350.0 L255.8,346.0 L255.5,342.0 L255.2,338.0 L254.9,334.0 L254.6,330.0 L254.2,326.0 L253.8,322.0 L253.4,318.0 L253.0,314.0 L252.6,310.0 L252.2,306.0 L251.8,302.0 L251.4,298.0 L251.0,294.0 L250.6,290.0 L250.2,286.0 L249.8,282.0 L249.4,278.0 L249.0,274.0 L248.6,270.0 L248.2,266.0 L247.8,262.0 L247.4,258.0 L247.0,254.0 L246.6,250.0 L246.2,246.0 L245.8,242.0 L245.3,238.0 L244.8,234.0 L244.5,230.0 L244.5,226.0Z" fill="#7d7d82"/><path d="M243.2,226.0 L243.2,230.0 L243.5,234.0 L244.0,238.0 L244.5,242.0 L244.9,246.0 L245.3,250.0 L245.7,254.0 L246.1,258.0 L246.5,262.0 L246.9,266.0 L247.3,270.0 L247.7,274.0 L248.1,278.0 L248.5,282.0 L248.9,286.0 L249.3,290.0 L249.7,294.0 L250.1,298.0 L250.5,302.0 L250.9,306.0 L251.3,310.0 L251.7,314.0 L252.1,318.0 L252.5,322.0 L252.9,326.0 L253.3,330.0 L253.6,334.0 L253.9,338.0 L254.2,342.0 L254.5,346.0 L254.8,350.0 L255.0,354.0 L255.3,358.0 L255.4,362.0 L255.5,366.0 L255.6,370.0 L255.7,374.0 L255.8,378.0 L256.0,382.0 L256.1,386.0 L258.0,386.0 L257.9,382.0 L257.8,378.0 L257.7,374.0 L257.6,370.0 L257.5,366.0 L257.4,362.0 L257.2,358.0 L257.0,354.0 L256.7,350.0 L256.4,346.0 L256.2,342.0 L255.9,338.0 L255.5,334.0 L255.2,330.0 L254.9,326.0 L254.5,322.0 L254.1,318.0 L253.7,314.0 L253.2,310.0 L252.8,306.0 L252.4,302.0 L252.0,298.0 L251.7,294.0 L251.3,290.0 L250.9,286.0 L250.5,282.0 L250.1,278.0 L249.7,274.0 L249.3,270.0 L248.9,266.0 L248.5,262.0 L248.1,258.0 L247.7,254.0 L247.3,250.0 L246.9,246.0 L246.5,242.0 L246.0,238.0 L245.5,234.0 L245.1,230.0 L245.1,226.0Z" fill="#9f9fa3"/><path d="M243.8,226.0 L243.8,230.0 L244.2,234.0 L244.7,238.0 L245.2,242.0 L245.6,246.0 L246.0,250.0 L246.4,254.0 L246.8,258.0 L247.2,262.0 L247.6,266.0 L248.0,270.0 L248.4,274.0 L248.8,278.0 L249.2,282.0 L249.6,286.0 L250.0,290.0 L250.4,294.0 L250.7,298.0 L251.1,302.0 L251.5,306.0 L251.9,310.0 L252.4,314.0 L252.8,318.0 L253.2,322.0 L253.6,326.0 L253.9,330.0 L254.2,334.0 L254.6,338.0 L254.9,342.0 L255.1,346.0 L255.4,350.0 L255.7,354.0 L255.9,358.0 L256.1,362.0 L256.2,366.0 L256.3,370.0 L256.4,374.0 L256.5,378.0 L256.6,382.0 L256.7,386.0 L258.7,386.0 L258.6,382.0 L258.5,378.0 L258.4,374.0 L258.2,370.0 L258.1,366.0 L258.0,362.0 L257.9,358.0 L257.7,354.0 L257.4,350.0 L257.1,346.0 L256.8,342.0 L256.5,338.0 L256.2,334.0 L255.9,330.0 L255.6,326.0 L255.2,322.0 L254.7,318.0 L254.3,314.0 L253.9,310.0 L253.5,306.0 L253.1,302.0 L252.7,298.0 L252.3,294.0 L251.9,290.0 L251.5,286.0 L251.1,282.0 L250.7,278.0 L250.3,274.0 L249.9,270.0 L249.6,266.0 L249.2,262.0 L248.8,258.0 L248.4,254.0 L248.0,250.0 L247.6,246.0 L247.1,242.0 L246.6,238.0 L246.1,234.0 L245.8,230.0 L245.8,226.0Z" fill="#c1c1c4"/><path d="M244.5,226.0 L244.5,230.0 L244.8,234.0 L245.3,238.0 L245.8,242.0 L246.3,246.0 L246.7,250.0 L247.1,254.0 L247.5,258.0 L247.9,262.0 L248.3,266.0 L248.6,270.0 L249.0,274.0 L249.4,278.0 L249.8,282.0 L250.2,286.0 L250.6,290.0 L251.0,294.0 L251.4,298.0 L251.8,302.0 L252.2,306.0 L252.6,310.0 L253.0,314.0 L253.4,318.0 L253.9,322.0 L254.3,326.0 L254.6,330.0 L254.9,334.0 L255.2,338.0 L255.5,342.0 L255.8,346.0 L256.1,350.0 L256.4,354.0 L256.6,358.0 L256.7,362.0 L256.8,366.0 L256.9,370.0 L257.1,374.0 L257.2,378.0 L257.3,382.0 L257.4,386.0 L259.2,386.0 L259.1,382.0 L259.0,378.0 L258.9,374.0 L258.7,370.0 L258.6,366.0 L258.5,362.0 L258.4,358.0 L258.2,354.0 L257.9,350.0 L257.6,346.0 L257.3,342.0 L257.0,338.0 L256.7,334.0 L256.4,330.0 L256.1,326.0 L255.7,322.0 L255.2,318.0 L254.8,314.0 L254.4,310.0 L254.0,306.0 L253.6,302.0 L253.2,298.0 L252.8,294.0 L252.4,290.0 L252.0,286.0 L251.6,282.0 L251.2,278.0 L250.8,274.0 L250.4,270.0 L250.1,266.0 L249.7,262.0 L249.3,258.0 L248.9,254.0 L248.5,250.0 L248.1,246.0 L247.6,242.0 L247.1,238.0 L246.6,234.0 L246.3,230.0 L246.3,226.0Z" fill="#d8d8da"/><path d="M245.0,226.0 L245.0,230.0 L245.3,234.0 L245.8,238.0 L246.3,242.0 L246.8,246.0 L247.2,250.0 L247.6,254.0 L248.0,258.0 L248.4,262.0 L248.8,266.0 L249.1,270.0 L249.5,274.0 L249.9,278.0 L250.3,282.0 L250.7,286.0 L251.1,290.0 L251.5,294.0 L251.9,298.0 L252.3,302.0 L252.7,306.0 L253.1,310.0 L253.5,314.0 L253.9,318.0 L254.4,322.0 L254.8,326.0 L255.1,330.0 L255.4,334.0 L255.7,338.0 L256.0,342.0 L256.3,346.0 L256.6,350.0 L256.9,354.0 L257.1,358.0 L257.2,362.0 L257.3,366.0 L257.4,370.0 L257.6,374.0 L257.7,378.0 L257.8,382.0 L257.9,386.0 L259.7,386.0 L259.6,382.0 L259.5,378.0 L259.4,374.0 L259.2,370.0 L259.1,366.0 L259.0,362.0 L258.9,358.0 L258.7,354.0 L258.4,350.0 L258.1,346.0 L257.8,342.0 L257.5,338.0 L257.2,334.0 L256.9,330.0 L256.6,326.0 L256.2,322.0 L255.7,318.0 L255.3,314.0 L254.9,310.0 L254.5,306.0 L254.1,302.0 L253.7,298.0 L253.3,294.0 L252.9,290.0 L252.5,286.0 L252.1,282.0 L251.7,278.0 L251.3,274.0 L250.9,270.0 L250.6,266.0 L250.2,262.0 L249.8,258.0 L249.4,254.0 L249.0,250.0 L248.6,246.0 L248.1,242.0 L247.6,238.0 L247.1,234.0 L246.8,230.0 L246.8,226.0Z" fill="#e6e6e6"/><path d="M245.5,226.0 L245.5,230.0 L245.8,234.0 L246.3,238.0 L246.8,242.0 L247.3,246.0 L247.7,250.0 L248.1,254.0 L248.5,258.0 L248.9,262.0 L249.3,266.0 L249.6,270.0 L250.0,274.0 L250.4,278.0 L250.8,282.0 L251.2,286.0 L251.6,290.0 L252.0,294.0 L252.4,298.0 L252.8,302.0 L253.2,306.0 L253.6,310.0 L254.0,314.0 L254.4,318.0 L254.9,322.0 L255.3,326.0 L255.6,330.0 L255.9,334.0 L256.2,338.0 L256.5,342.0 L256.8,346.0 L257.1,350.0 L257.4,354.0 L257.6,358.0 L257.7,362.0 L257.8,366.0 L257.9,370.0 L258.1,374.0 L258.2,378.0 L258.3,382.0 L258.4,386.0 L260.2,386.0 L260.1,382.0 L260.0,378.0 L259.9,374.0 L259.7,370.0 L259.6,366.0 L259.5,362.0 L259.4,358.0 L259.2,354.0 L258.9,350.0 L258.6,346.0 L258.3,342.0 L258.0,338.0 L257.7,334.0 L257.4,330.0 L257.1,326.0 L256.7,322.0 L256.2,318.0 L255.8,314.0 L255.4,310.0 L255.0,306.0 L254.6,302.0 L254.2,298.0 L253.8,294.0 L253.4,290.0 L253.0,286.0 L252.6,282.0 L252.2,278.0 L251.8,274.0 L251.4,270.0 L251.1,266.0 L250.7,262.0 L250.3,258.0 L249.9,254.0 L249.5,250.0 L249.1,246.0 L248.6,242.0 L248.1,238.0 L247.6,234.0 L247.3,230.0 L247.3,226.0Z" fill="#f2f2f3"/><path d="M246.0,226.0 L246.0,230.0 L246.3,234.0 L246.8,238.0 L247.3,242.0 L247.8,246.0 L248.2,250.0 L248.6,254.0 L249.0,258.0 L249.4,262.0 L249.8,266.0 L250.1,270.0 L250.5,274.0 L250.9,278.0 L251.3,282.0 L251.7,286.0 L252.1,290.0 L252.5,294.0 L252.9,298.0 L253.3,302.0 L253.7,306.0 L254.1,310.0 L254.5,314.0 L254.9,318.0 L255.4,322.0 L255.8,326.0 L256.1,330.0 L256.4,334.0 L256.7,338.0 L257.0,342.0 L257.3,346.0 L257.6,350.0 L257.9,354.0 L258.1,358.0 L258.2,362.0 L258.3,366.0 L258.4,370.0 L258.6,374.0 L258.7,378.0 L258.8,382.0 L258.9,386.0 L271.6,386.0 L271.6,382.0 L271.5,378.0 L271.4,374.0 L271.3,370.0 L271.3,366.0 L271.7,362.0 L272.2,358.0 L271.9,354.0 L271.7,350.0 L271.4,346.0 L271.2,342.0 L270.9,338.0 L270.5,334.0 L270.2,330.0 L269.8,326.0 L269.4,322.0 L269.0,318.0 L268.6,314.0 L268.2,310.0 L267.7,306.0 L267.2,302.0 L266.8,298.0 L266.3,294.0 L265.9,290.0 L265.5,286.0 L265.1,282.0 L264.7,278.0 L264.2,274.0 L263.7,270.0 L263.1,266.0 L262.6,262.0 L262.0,258.0 L261.4,254.0 L260.8,250.0 L260.2,246.0 L259.6,242.0 L258.9,238.0 L258.5,234.0 L258.2,230.0 L258.2,226.0Z" fill="#f9f9f9"/><path d="M256.9,226.0 L256.9,230.0 L257.2,234.0 L257.6,238.0 L258.3,242.0 L258.9,246.0 L259.5,250.0 L260.1,254.0 L260.7,258.0 L261.3,262.0 L261.8,266.0 L262.4,270.0 L262.9,274.0 L263.4,278.0 L263.8,282.0 L264.2,286.0 L264.6,290.0 L265.0,294.0 L265.5,298.0 L265.9,302.0 L266.4,306.0 L266.9,310.0 L267.3,314.0 L267.7,318.0 L268.1,322.0 L268.5,326.0 L268.9,330.0 L269.2,334.0 L269.6,338.0 L269.9,342.0 L270.1,346.0 L270.4,350.0 L270.6,354.0 L270.9,358.0 L270.4,362.0 L270.0,366.0 L270.0,370.0 L270.1,374.0 L270.2,378.0 L270.3,382.0 L270.3,386.0 L283.1,386.0 L283.0,382.0 L283.0,378.0 L283.0,374.0 L282.9,370.0 L282.9,366.0 L283.9,362.0 L284.9,358.0 L284.7,354.0 L284.5,350.0 L284.3,346.0 L284.0,342.0 L283.7,338.0 L283.3,334.0 L282.9,330.0 L282.6,326.0 L282.2,322.0 L281.7,318.0 L281.3,314.0 L280.9,310.0 L280.4,306.0 L279.9,302.0 L279.3,298.0 L278.8,294.0 L278.4,290.0 L278.0,286.0 L277.6,282.0 L277.2,278.0 L276.5,274.0 L275.9,270.0 L275.2,266.0 L274.6,262.0 L273.8,258.0 L273.0,254.0 L272.2,250.0 L271.4,246.0 L270.5,242.0 L269.7,238.0 L269.3,234.0 L269.2,230.0 L269.2,226.0Z" fill="#fafafa"/><path d="M267.9,226.0 L267.9,230.0 L268.0,234.0 L268.4,238.0 L269.2,242.0 L270.1,246.0 L270.9,250.0 L271.7,254.0 L272.5,258.0 L273.3,262.0 L273.9,266.0 L274.6,270.0 L275.2,274.0 L275.9,278.0 L276.3,282.0 L276.7,286.0 L277.1,290.0 L277.5,294.0 L278.0,298.0 L278.6,302.0 L279.1,306.0 L279.6,310.0 L280.0,314.0 L280.4,318.0 L280.9,322.0 L281.3,326.0 L281.6,330.0 L282.0,334.0 L282.4,338.0 L282.7,342.0 L283.0,346.0 L283.2,350.0 L283.4,354.0 L283.6,358.0 L282.6,362.0 L281.6,366.0 L281.6,370.0 L281.7,374.0 L281.7,378.0 L281.7,382.0 L281.8,386.0 L294.5,386.0 L294.5,382.0 L294.5,378.0 L294.5,374.0 L294.5,370.0 L294.5,366.0 L296.1,362.0 L297.7,358.0 L297.5,354.0 L297.3,350.0 L297.1,346.0 L296.9,342.0 L296.5,338.0 L296.1,334.0 L295.7,330.0 L295.3,326.0 L294.9,322.0 L294.5,318.0 L294.1,314.0 L293.7,310.0 L293.1,306.0 L292.5,302.0 L291.9,298.0 L291.3,294.0 L290.9,290.0 L290.5,286.0 L290.1,282.0 L289.7,278.0 L288.9,274.0 L288.1,270.0 L287.3,266.0 L286.5,262.0 L285.5,258.0 L284.5,254.0 L283.5,250.0 L282.5,246.0 L281.5,242.0 L280.5,238.0 L280.1,234.0 L280.1,230.0 L280.1,226.0Z" fill="#fafafa"/><path d="M278.8,226.0 L278.8,230.0 L278.8,234.0 L279.2,238.0 L280.2,242.0 L281.2,246.0 L282.2,250.0 L283.2,254.0 L284.2,258.0 L285.2,262.0 L286.0,266.0 L286.8,270.0 L287.6,274.0 L288.4,278.0 L288.8,282.0 L289.2,286.0 L289.6,290.0 L290.0,294.0 L290.6,298.0 L291.2,302.0 L291.8,306.0 L292.4,310.0 L292.8,314.0 L293.2,318.0 L293.6,322.0 L294.0,326.0 L294.4,330.0 L294.8,334.0 L295.2,338.0 L295.6,342.0 L295.8,346.0 L296.0,350.0 L296.2,354.0 L296.4,358.0 L294.8,362.0 L293.2,366.0 L293.2,370.0 L293.2,374.0 L293.2,378.0 L293.2,382.0 L293.2,386.0 L295.2,386.0 L295.2,382.0 L295.2,378.0 L295.2,374.0 L295.2,370.0 L295.2,366.0 L296.8,362.0 L298.4,358.0 L298.2,354.0 L298.0,350.0 L297.8,346.0 L297.6,342.0 L297.2,338.0 L296.8,334.0 L296.4,330.0 L296.0,326.0 L295.6,322.0 L295.2,318.0 L294.8,314.0 L294.4,310.0 L293.8,306.0 L293.2,302.0 L292.6,298.0 L292.0,294.0 L291.6,290.0 L291.2,286.0 L290.8,282.0 L290.4,278.0 L289.6,274.0 L288.8,270.0 L288.0,266.0 L287.2,262.0 L286.2,258.0 L285.2,254.0 L284.2,250.0 L283.2,246.0 L282.2,242.0 L281.2,238.0 L280.8,234.0 L280.8,230.0 L280.8,226.0Z" fill="#ececed"/><path d="M279.5,226.0 L279.5,230.0 L279.5,234.0 L279.9,238.0 L280.9,242.0 L281.9,246.0 L282.9,250.0 L283.9,254.0 L284.9,258.0 L285.9,262.0 L286.7,266.0 L287.5,270.0 L288.3,274.0 L289.1,278.0 L289.5,282.0 L289.9,286.0 L290.3,290.0 L290.7,294.0 L291.3,298.0 L291.9,302.0 L292.5,306.0 L293.1,310.0 L293.5,314.0 L293.9,318.0 L294.3,322.0 L294.7,326.0 L295.1,330.0 L295.5,334.0 L295.9,338.0 L296.3,342.0 L296.5,346.0 L296.7,350.0 L296.9,354.0 L297.1,358.0 L295.5,362.0 L293.9,366.0 L293.9,370.0 L293.9,374.0 L293.9,378.0 L293.9,382.0 L293.9,386.0 L295.8,386.0 L295.8,382.0 L295.8,378.0 L295.8,374.0 L295.8,370.0 L295.8,366.0 L297.4,362.0 L299.0,358.0 L298.8,354.0 L298.6,350.0 L298.4,346.0 L298.2,342.0 L297.8,338.0 L297.4,334.0 L297.0,330.0 L296.6,326.0 L296.2,322.0 L295.8,318.0 L295.4,314.0 L295.0,310.0 L294.4,306.0 L293.8,302.0 L293.2,298.0 L292.6,294.0 L292.2,290.0 L291.8,286.0 L291.4,282.0 L291.0,278.0 L290.2,274.0 L289.4,270.0 L288.6,266.0 L287.8,262.0 L286.8,258.0 L285.8,254.0 L284.8,250.0 L283.8,246.0 L282.8,242.0 L281.8,238.0 L281.4,234.0 L281.4,230.0 L281.4,226.0Z" fill="#d0d0d2"/><path d="M280.1,226.0 L280.1,230.0 L280.1,234.0 L280.5,238.0 L281.5,242.0 L282.5,246.0 L283.5,250.0 L284.5,254.0 L285.5,258.0 L286.5,262.0 L287.3,266.0 L288.1,270.0 L288.9,274.0 L289.7,278.0 L290.1,282.0 L290.5,286.0 L290.9,290.0 L291.3,294.0 L291.9,298.0 L292.5,302.0 L293.1,306.0 L293.7,310.0 L294.1,314.0 L294.5,318.0 L294.9,322.0 L295.3,326.0 L295.7,330.0 L296.1,334.0 L296.5,338.0 L296.9,342.0 L297.1,346.0 L297.3,350.0 L297.5,354.0 L297.7,358.0 L296.1,362.0 L294.5,366.0 L294.5,370.0 L294.5,374.0 L294.5,378.0 L294.5,382.0 L294.5,386.0 L296.5,386.0 L296.5,382.0 L296.5,378.0 L296.5,374.0 L296.5,370.0 L296.5,366.0 L298.1,362.0 L299.7,358.0 L299.5,354.0 L299.3,350.0 L299.1,346.0 L298.9,342.0 L298.5,338.0 L298.1,334.0 L297.7,330.0 L297.3,326.0 L296.9,322.0 L296.5,318.0 L296.1,314.0 L295.7,310.0 L295.1,306.0 L294.5,302.0 L293.9,298.0 L293.3,294.0 L292.9,290.0 L292.5,286.0 L292.1,282.0 L291.7,278.0 L290.9,274.0 L290.1,270.0 L289.3,266.0 L288.5,262.0 L287.5,258.0 L286.5,254.0 L285.5,250.0 L284.5,246.0 L283.5,242.0 L282.5,238.0 L282.1,234.0 L282.1,230.0 L282.1,226.0Z" fill="#b4b4b7"/><path d="M280.8,226.0 L280.8,230.0 L280.8,234.0 L281.2,238.0 L282.2,242.0 L283.2,246.0 L284.2,250.0 L285.2,254.0 L286.2,258.0 L287.2,262.0 L288.0,266.0 L288.8,270.0 L289.6,274.0 L290.4,278.0 L290.8,282.0 L291.2,286.0 L291.6,290.0 L292.0,294.0 L292.6,298.0 L293.2,302.0 L293.8,306.0 L294.4,310.0 L294.8,314.0 L295.2,318.0 L295.6,322.0 L296.0,326.0 L296.4,330.0 L296.8,334.0 L297.2,338.0 L297.6,342.0 L297.8,346.0 L298.0,350.0 L298.2,354.0 L298.4,358.0 L296.8,362.0 L295.2,366.0 L295.2,370.0 L295.2,374.0 L295.2,378.0 L295.2,382.0 L295.2,386.0 L297.2,386.0 L297.2,382.0 L297.2,378.0 L297.2,374.0 L297.2,370.0 L297.2,366.0 L298.8,362.0 L300.4,358.0 L300.2,354.0 L300.0,350.0 L299.8,346.0 L299.6,342.0 L299.2,338.0 L298.8,334.0 L298.4,330.0 L298.0,326.0 L297.6,322.0 L297.2,318.0 L296.8,314.0 L296.4,310.0 L295.8,306.0 L295.2,302.0 L294.6,298.0 L294.0,294.0 L293.6,290.0 L293.2,286.0 L292.8,282.0 L292.4,278.0 L291.6,274.0 L290.8,270.0 L290.0,266.0 L289.2,262.0 L288.2,258.0 L287.2,254.0 L286.2,250.0 L285.2,246.0 L284.2,242.0 L283.2,238.0 L282.8,234.0 L282.8,230.0 L282.8,226.0Z" fill="#a0a0a4"/><path d="M281.5,226.0 L281.5,230.0 L281.5,234.0 L281.9,238.0 L282.9,242.0 L283.9,246.0 L284.9,250.0 L285.9,254.0 L286.9,258.0 L287.9,262.0 L288.7,266.0 L289.5,270.0 L290.3,274.0 L291.1,278.0 L291.5,282.0 L291.9,286.0 L292.3,290.0 L292.7,294.0 L293.3,298.0 L293.9,302.0 L294.5,306.0 L295.1,310.0 L295.5,314.0 L295.9,318.0 L296.3,322.0 L296.7,326.0 L297.1,330.0 L297.5,334.0 L297.9,338.0 L298.3,342.0 L298.5,346.0 L298.7,350.0 L298.9,354.0 L299.1,358.0 L297.5,362.0 L295.9,366.0 L295.9,370.0 L295.9,374.0 L295.9,378.0 L295.9,382.0 L295.9,386.0 L297.8,386.0 L297.8,382.0 L297.8,378.0 L297.8,374.0 L297.8,370.0 L297.8,366.0 L299.4,362.0 L301.0,358.0 L300.8,354.0 L300.6,350.0 L300.4,346.0 L300.2,342.0 L299.8,338.0 L299.4,334.0 L299.0,330.0 L298.6,326.0 L298.2,322.0 L297.8,318.0 L297.4,314.0 L297.0,310.0 L296.4,306.0 L295.8,302.0 L295.2,298.0 L294.6,294.0 L294.2,290.0 L293.8,286.0 L293.4,282.0 L293.0,278.0 L292.2,274.0 L291.4,270.0 L290.6,266.0 L289.8,262.0 L288.8,258.0 L287.8,254.0 L286.8,250.0 L285.8,246.0 L284.8,242.0 L283.8,238.0 L283.4,234.0 L283.4,230.0 L283.4,226.0Z" fill="#939398"/><path d="M282.1,226.0 L282.1,230.0 L282.1,234.0 L282.5,238.0 L283.5,242.0 L284.5,246.0 L285.5,250.0 L286.5,254.0 L287.5,258.0 L288.5,262.0 L289.3,266.0 L290.1,270.0 L290.9,274.0 L291.7,278.0 L292.1,282.0 L292.5,286.0 L292.9,290.0 L293.3,294.0 L293.9,298.0 L294.5,302.0 L295.1,306.0 L295.7,310.0 L296.1,314.0 L296.5,318.0 L296.9,322.0 L297.3,326.0 L297.7,330.0 L298.1,334.0 L298.5,338.0 L298.9,342.0 L299.1,346.0 L299.3,350.0 L299.5,354.0 L299.7,358.0 L298.1,362.0 L296.5,366.0 L296.5,370.0 L296.5,374.0 L296.5,378.0 L296.5,382.0 L296.5,386.0 L298.5,386.0 L298.5,382.0 L298.5,378.0 L298.5,374.0 L298.5,370.0 L298.5,366.0 L300.1,362.0 L301.7,358.0 L301.5,354.0 L301.3,350.0 L301.1,346.0 L300.9,342.0 L300.5,338.0 L300.1,334.0 L299.7,330.0 L299.3,326.0 L298.9,322.0 L298.5,318.0 L298.1,314.0 L297.7,310.0 L297.1,306.0 L296.5,302.0 L295.9,298.0 L295.3,294.0 L294.9,290.0 L294.5,286.0 L294.1,282.0 L293.7,278.0 L292.9,274.0 L292.1,270.0 L291.3,266.0 L290.5,262.0 L289.5,258.0 L288.5,254.0 L287.5,250.0 L286.5,246.0 L285.5,242.0 L284.5,238.0 L284.1,234.0 L284.1,230.0 L284.1,226.0Z" fill="#86868c"/><path d="M282.8,226.0 L282.8,230.0 L282.8,234.0 L283.2,238.0 L284.2,242.0 L285.2,246.0 L286.2,250.0 L287.2,254.0 L288.2,258.0 L289.2,262.0 L290.0,266.0 L290.8,270.0 L291.6,274.0 L292.4,278.0 L292.8,282.0 L293.2,286.0 L293.6,290.0 L294.0,294.0 L294.6,298.0 L295.2,302.0 L295.8,306.0 L296.4,310.0 L296.8,314.0 L297.2,318.0 L297.6,322.0 L298.0,326.0 L298.4,330.0 L298.8,334.0 L299.2,338.0 L299.6,342.0 L299.8,346.0 L300.0,350.0 L300.2,354.0 L300.4,358.0 L298.8,362.0 L297.2,366.0 L297.2,370.0 L297.2,374.0 L297.2,378.0 L297.2,382.0 L297.2,386.0 L302.5,386.0 L302.4,382.0 L302.4,378.0 L302.3,374.0 L302.3,370.0 L302.2,366.0 L303.2,362.0 L304.2,358.0 L304.0,354.0 L303.8,350.0 L303.5,346.0 L303.3,342.0 L302.9,338.0 L302.6,334.0 L302.3,330.0 L301.9,326.0 L301.5,322.0 L301.1,318.0 L300.7,314.0 L300.3,310.0 L299.8,306.0 L299.3,302.0 L298.7,298.0 L298.2,294.0 L297.7,290.0 L297.3,286.0 L296.8,282.0 L296.3,278.0 L295.5,274.0 L294.7,270.0 L293.9,266.0 L293.1,262.0 L292.1,258.0 L291.1,254.0 L290.1,250.0 L289.1,246.0 L288.0,242.0 L286.9,238.0 L286.5,234.0 L286.5,230.0 L286.5,226.0Z" fill="#808086"/><path d="M285.2,226.0 L285.2,230.0 L285.2,234.0 L285.6,238.0 L286.7,242.0 L287.8,246.0 L288.8,250.0 L289.8,254.0 L290.8,258.0 L291.8,262.0 L292.6,266.0 L293.4,270.0 L294.2,274.0 L295.0,278.0 L295.5,282.0 L296.0,286.0 L296.4,290.0 L296.9,294.0 L297.4,298.0 L298.0,302.0 L298.5,306.0 L299.0,310.0 L299.4,314.0 L299.8,318.0 L300.2,322.0 L300.6,326.0 L301.0,330.0 L301.3,334.0 L301.6,338.0 L302.0,342.0 L302.2,346.0 L302.4,350.0 L302.7,354.0 L302.9,358.0 L301.9,362.0 L300.9,366.0 L301.0,370.0 L301.0,374.0 L301.1,378.0 L301.1,382.0 L301.2,386.0 L306.4,386.0 L306.3,382.0 L306.2,378.0 L306.1,374.0 L306.0,370.0 L305.9,366.0 L306.3,362.0 L306.8,358.0 L306.5,354.0 L306.2,350.0 L305.9,346.0 L305.6,342.0 L305.4,338.0 L305.1,334.0 L304.8,330.0 L304.6,326.0 L304.2,322.0 L303.8,318.0 L303.4,314.0 L303.0,310.0 L302.5,306.0 L302.0,302.0 L301.6,298.0 L301.1,294.0 L300.6,290.0 L300.0,286.0 L299.5,282.0 L299.0,278.0 L298.2,274.0 L297.4,270.0 L296.6,266.0 L295.8,262.0 L294.8,258.0 L293.8,254.0 L292.8,250.0 L291.8,246.0 L290.5,242.0 L289.3,238.0 L288.8,234.0 L288.8,230.0 L288.8,226.0Z" fill="#818187"/><path d="M287.5,226.0 L287.5,230.0 L287.5,234.0 L288.0,238.0 L289.2,242.0 L290.5,246.0 L291.5,250.0 L292.5,254.0 L293.5,258.0 L294.5,262.0 L295.3,266.0 L296.1,270.0 L296.9,274.0 L297.7,278.0 L298.2,282.0 L298.7,286.0 L299.3,290.0 L299.8,294.0 L300.3,298.0 L300.7,302.0 L301.2,306.0 L301.7,310.0 L302.1,314.0 L302.5,318.0 L302.9,322.0 L303.3,326.0 L303.5,330.0 L303.8,334.0 L304.1,338.0 L304.3,342.0 L304.6,346.0 L304.9,350.0 L305.2,354.0 L305.5,358.0 L305.0,362.0 L304.6,366.0 L304.7,370.0 L304.8,374.0 L304.9,378.0 L305.0,382.0 L305.1,386.0 L310.4,386.0 L310.2,382.0 L310.1,378.0 L309.9,374.0 L309.8,370.0 L309.6,366.0 L309.5,362.0 L309.3,358.0 L309.0,354.0 L308.7,350.0 L308.3,346.0 L308.0,342.0 L307.8,338.0 L307.6,334.0 L307.4,330.0 L307.2,326.0 L306.8,322.0 L306.4,318.0 L306.0,314.0 L305.6,310.0 L305.2,306.0 L304.8,302.0 L304.4,298.0 L304.0,294.0 L303.4,290.0 L302.8,286.0 L302.2,282.0 L301.6,278.0 L300.8,274.0 L300.0,270.0 L299.2,266.0 L298.4,262.0 L297.4,258.0 L296.4,254.0 L295.4,250.0 L294.4,246.0 L293.1,242.0 L291.7,238.0 L291.2,234.0 L291.2,230.0 L291.2,226.0Z" fill="#828288"/><path d="M289.9,226.0 L289.9,230.0 L289.9,234.0 L290.4,238.0 L291.8,242.0 L293.1,246.0 L294.1,250.0 L295.1,254.0 L296.1,258.0 L297.1,262.0 L297.9,266.0 L298.7,270.0 L299.5,274.0 L300.3,278.0 L300.9,282.0 L301.5,286.0 L302.1,290.0 L302.7,294.0 L303.1,298.0 L303.5,302.0 L303.9,306.0 L304.3,310.0 L304.7,314.0 L305.1,318.0 L305.5,322.0 L305.9,326.0 L306.1,330.0 L306.3,334.0 L306.5,338.0 L306.7,342.0 L307.0,346.0 L307.4,350.0 L307.7,354.0 L308.0,358.0 L308.2,362.0 L308.3,366.0 L308.5,370.0 L308.6,374.0 L308.8,378.0 L308.9,382.0 L309.1,386.0 L311.0,386.0 L310.8,382.0 L310.7,378.0 L310.5,374.0 L310.3,370.0 L310.2,366.0 L310.0,362.0 L309.9,358.0 L309.5,354.0 L309.2,350.0 L308.9,346.0 L308.6,342.0 L308.4,338.0 L308.2,334.0 L308.0,330.0 L307.8,326.0 L307.4,322.0 L307.0,318.0 L306.6,314.0 L306.2,310.0 L305.8,306.0 L305.4,302.0 L305.0,298.0 L304.6,294.0 L304.0,290.0 L303.4,286.0 L302.8,282.0 L302.2,278.0 L301.4,274.0 L300.6,270.0 L299.8,266.0 L299.0,262.0 L298.0,258.0 L297.0,254.0 L296.0,250.0 L295.0,246.0 L293.6,242.0 L292.3,238.0 L291.8,234.0 L291.8,230.0 L291.8,226.0Z" fill="#86868c"/><path d="M290.5,226.0 L290.5,230.0 L290.5,234.0 L291.0,238.0 L292.3,242.0 L293.7,246.0 L294.7,250.0 L295.7,254.0 L296.7,258.0 L297.7,262.0 L298.5,266.0 L299.3,270.0 L300.1,274.0 L300.9,278.0 L301.5,282.0 L302.1,286.0 L302.7,290.0 L303.3,294.0 L303.7,298.0 L304.1,302.0 L304.5,306.0 L304.9,310.0 L305.3,314.0 L305.7,318.0 L306.1,322.0 L306.5,326.0 L306.7,330.0 L306.9,334.0 L307.1,338.0 L307.3,342.0 L307.6,346.0 L307.9,350.0 L308.2,354.0 L308.6,358.0 L308.7,362.0 L308.9,366.0 L309.0,370.0 L309.2,374.0 L309.4,378.0 L309.5,382.0 L309.7,386.0 L311.5,386.0 L311.4,382.0 L311.2,378.0 L311.1,374.0 L310.9,370.0 L310.7,366.0 L310.6,362.0 L310.4,358.0 L310.1,354.0 L309.8,350.0 L309.5,346.0 L309.1,342.0 L308.9,338.0 L308.7,334.0 L308.5,330.0 L308.3,326.0 L307.9,322.0 L307.5,318.0 L307.1,314.0 L306.7,310.0 L306.3,306.0 L305.9,302.0 L305.5,298.0 L305.1,294.0 L304.5,290.0 L303.9,286.0 L303.3,282.0 L302.7,278.0 L301.9,274.0 L301.1,270.0 L300.3,266.0 L299.5,262.0 L298.5,258.0 L297.5,254.0 L296.5,250.0 L295.5,246.0 L294.2,242.0 L292.9,238.0 L292.3,234.0 L292.3,230.0 L292.3,226.0Z" fill="#8f8f95"/><path d="M291.0,226.0 L291.0,230.0 L291.0,234.0 L291.6,238.0 L292.9,242.0 L294.2,246.0 L295.2,250.0 L296.2,254.0 L297.2,258.0 L298.2,262.0 L299.0,266.0 L299.8,270.0 L300.6,274.0 L301.4,278.0 L302.0,282.0 L302.6,286.0 L303.2,290.0 L303.8,294.0 L304.2,298.0 L304.6,302.0 L305.0,306.0 L305.4,310.0 L305.8,314.0 L306.2,318.0 L306.6,322.0 L307.0,326.0 L307.2,330.0 L307.4,334.0 L307.6,338.0 L307.8,342.0 L308.2,346.0 L308.5,350.0 L308.8,354.0 L309.1,358.0 L309.3,362.0 L309.4,366.0 L309.6,370.0 L309.8,374.0 L309.9,378.0 L310.1,382.0 L310.2,386.0 L312.1,386.0 L311.9,382.0 L311.8,378.0 L311.6,374.0 L311.5,370.0 L311.3,366.0 L311.2,362.0 L311.0,358.0 L310.7,354.0 L310.4,350.0 L310.0,346.0 L309.7,342.0 L309.5,338.0 L309.3,334.0 L309.1,330.0 L308.9,326.0 L308.5,322.0 L308.1,318.0 L307.7,314.0 L307.3,310.0 L306.9,306.0 L306.5,302.0 L306.1,298.0 L305.7,294.0 L305.1,290.0 L304.5,286.0 L303.9,282.0 L303.3,278.0 L302.5,274.0 L301.7,270.0 L300.9,266.0 L300.1,262.0 L299.1,258.0 L298.1,254.0 L297.1,250.0 L296.1,246.0 L294.8,242.0 L293.4,238.0 L292.9,234.0 L292.9,230.0 L292.9,226.0Z" fill="#98989e"/><path d="M291.6,226.0 L291.6,230.0 L291.6,234.0 L292.1,238.0 L293.5,242.0 L294.8,246.0 L295.8,250.0 L296.8,254.0 L297.8,258.0 L298.8,262.0 L299.6,266.0 L300.4,270.0 L301.2,274.0 L302.0,278.0 L302.6,282.0 L303.2,286.0 L303.8,290.0 L304.4,294.0 L304.8,298.0 L305.2,302.0 L305.6,306.0 L306.0,310.0 L306.4,314.0 L306.8,318.0 L307.2,322.0 L307.6,326.0 L307.8,330.0 L308.0,334.0 L308.2,338.0 L308.4,342.0 L308.7,346.0 L309.1,350.0 L309.4,354.0 L309.7,358.0 L309.9,362.0 L310.0,366.0 L310.2,370.0 L310.3,374.0 L310.5,378.0 L310.6,382.0 L310.8,386.0 L312.6,386.0 L312.4,382.0 L312.3,378.0 L312.1,374.0 L312.0,370.0 L311.8,366.0 L311.7,362.0 L311.5,358.0 L311.2,354.0 L310.9,350.0 L310.5,346.0 L310.2,342.0 L310.0,338.0 L309.8,334.0 L309.6,330.0 L309.4,326.0 L309.0,322.0 L308.6,318.0 L308.2,314.0 L307.8,310.0 L307.4,306.0 L307.0,302.0 L306.6,298.0 L306.2,294.0 L305.6,290.0 L305.0,286.0 L304.4,282.0 L303.8,278.0 L303.0,274.0 L302.2,270.0 L301.4,266.0 L300.6,262.0 L299.6,258.0 L298.6,254.0 L297.6,250.0 L296.6,246.0 L295.3,242.0 L293.9,238.0 L293.4,234.0 L293.4,230.0 L293.4,226.0Z" fill="#96969c"/><path d="M292.1,226.0 L292.1,230.0 L292.1,234.0 L292.6,238.0 L294.0,242.0 L295.3,246.0 L296.3,250.0 L297.3,254.0 L298.3,258.0 L299.3,262.0 L300.1,266.0 L300.9,270.0 L301.7,274.0 L302.5,278.0 L303.1,282.0 L303.7,286.0 L304.3,290.0 L304.9,294.0 L305.3,298.0 L305.7,302.0 L306.1,306.0 L306.5,310.0 L306.9,314.0 L307.3,318.0 L307.7,322.0 L308.1,326.0 L308.3,330.0 L308.5,334.0 L308.7,338.0 L308.9,342.0 L309.2,346.0 L309.6,350.0 L309.9,354.0 L310.2,358.0 L310.4,362.0 L310.5,366.0 L310.7,370.0 L310.8,374.0 L311.0,378.0 L311.1,382.0 L311.3,386.0 L313.1,386.0 L312.9,382.0 L312.8,378.0 L312.6,374.0 L312.5,370.0 L312.3,366.0 L312.2,362.0 L312.0,358.0 L311.7,354.0 L311.4,350.0 L311.0,346.0 L310.7,342.0 L310.5,338.0 L310.3,334.0 L310.1,330.0 L309.9,326.0 L309.5,322.0 L309.1,318.0 L308.7,314.0 L308.3,310.0 L307.9,306.0 L307.5,302.0 L307.1,298.0 L306.7,294.0 L306.1,290.0 L305.5,286.0 L304.9,282.0 L304.3,278.0 L303.5,274.0 L302.7,270.0 L301.9,266.0 L301.1,262.0 L300.1,258.0 L299.1,254.0 L298.1,250.0 L297.1,246.0 L295.8,242.0 L294.4,238.0 L293.9,234.0 L293.9,230.0 L293.9,226.0Z" fill="#89898f"/><path d="M292.6,226.0 L292.6,230.0 L292.6,234.0 L293.1,238.0 L294.5,242.0 L295.8,246.0 L296.8,250.0 L297.8,254.0 L298.8,258.0 L299.8,262.0 L300.6,266.0 L301.4,270.0 L302.2,274.0 L303.0,278.0 L303.6,282.0 L304.2,286.0 L304.8,290.0 L305.4,294.0 L305.8,298.0 L306.2,302.0 L306.6,306.0 L307.0,310.0 L307.4,314.0 L307.8,318.0 L308.2,322.0 L308.6,326.0 L308.8,330.0 L309.0,334.0 L309.2,338.0 L309.4,342.0 L309.7,346.0 L310.1,350.0 L310.4,354.0 L310.7,358.0 L310.9,362.0 L311.0,366.0 L311.2,370.0 L311.3,374.0 L311.5,378.0 L311.6,382.0 L311.8,386.0 L313.6,386.0 L313.4,382.0 L313.3,378.0 L313.1,374.0 L313.0,370.0 L312.8,366.0 L312.7,362.0 L312.5,358.0 L312.2,354.0 L311.9,350.0 L311.5,346.0 L311.2,342.0 L311.0,338.0 L310.8,334.0 L310.6,330.0 L310.4,326.0 L310.0,322.0 L309.6,318.0 L309.2,314.0 L308.8,310.0 L308.4,306.0 L308.0,302.0 L307.6,298.0 L307.2,294.0 L306.6,290.0 L306.0,286.0 L305.4,282.0 L304.8,278.0 L304.0,274.0 L303.2,270.0 L302.4,266.0 L301.6,262.0 L300.6,258.0 L299.6,254.0 L298.6,250.0 L297.6,246.0 L296.3,242.0 L294.9,238.0 L294.4,234.0 L294.4,230.0 L294.4,226.0Z" fill="#7c7c82"/><path d="M293.1,226.0 L293.1,230.0 L293.1,234.0 L293.6,238.0 L295.0,242.0 L296.3,246.0 L297.3,250.0 L298.3,254.0 L299.3,258.0 L300.3,262.0 L301.1,266.0 L301.9,270.0 L302.7,274.0 L303.5,278.0 L304.1,282.0 L304.7,286.0 L305.3,290.0 L305.9,294.0 L306.3,298.0 L306.7,302.0 L307.1,306.0 L307.5,310.0 L307.9,314.0 L308.3,318.0 L308.7,322.0 L309.1,326.0 L309.3,330.0 L309.5,334.0 L309.7,338.0 L309.9,342.0 L310.2,346.0 L310.6,350.0 L310.9,354.0 L311.2,358.0 L311.4,362.0 L311.5,366.0 L311.7,370.0 L311.8,374.0 L312.0,378.0 L312.1,382.0 L312.3,386.0 L317.0,386.0 L316.9,382.0 L316.7,378.0 L316.6,374.0 L316.4,370.0 L316.2,366.0 L316.1,362.0 L315.9,358.0 L315.6,354.0 L315.3,350.0 L315.0,346.0 L314.6,342.0 L314.4,338.0 L314.2,334.0 L314.0,330.0 L313.8,326.0 L313.4,322.0 L313.0,318.0 L312.6,314.0 L312.2,310.0 L311.8,306.0 L311.4,302.0 L311.0,298.0 L310.6,294.0 L310.0,290.0 L309.4,286.0 L308.8,282.0 L308.2,278.0 L307.4,274.0 L306.6,270.0 L305.8,266.0 L305.0,262.0 L304.0,258.0 L303.0,254.0 L302.0,250.0 L301.0,246.0 L299.7,242.0 L298.4,238.0 L297.8,234.0 L297.8,230.0 L297.8,226.0Z" fill="#74747a"/><path d="M296.5,226.0 L296.5,230.0 L296.5,234.0 L297.1,238.0 L298.4,242.0 L299.7,246.0 L300.7,250.0 L301.7,254.0 L302.7,258.0 L303.7,262.0 L304.5,266.0 L305.3,270.0 L306.1,274.0 L306.9,278.0 L307.5,282.0 L308.1,286.0 L308.7,290.0 L309.3,294.0 L309.7,298.0 L310.1,302.0 L310.5,306.0 L310.9,310.0 L311.3,314.0 L311.7,318.0 L312.1,322.0 L312.5,326.0 L312.7,330.0 L312.9,334.0 L313.1,338.0 L313.3,342.0 L313.7,346.0 L314.0,350.0 L314.3,354.0 L314.6,358.0 L314.8,362.0 L314.9,366.0 L315.1,370.0 L315.3,374.0 L315.4,378.0 L315.6,382.0 L315.7,386.0 L320.5,386.0 L320.3,382.0 L320.2,378.0 L320.0,374.0 L319.8,370.0 L319.7,366.0 L319.5,362.0 L319.4,358.0 L319.0,354.0 L318.7,350.0 L318.4,346.0 L318.1,342.0 L317.9,338.0 L317.7,334.0 L317.5,330.0 L317.3,326.0 L316.9,322.0 L316.5,318.0 L316.1,314.0 L315.7,310.0 L315.3,306.0 L314.9,302.0 L314.5,298.0 L314.1,294.0 L313.5,290.0 L312.9,286.0 L312.3,282.0 L311.7,278.0 L310.9,274.0 L310.1,270.0 L309.3,266.0 L308.5,262.0 L307.5,258.0 L306.5,254.0 L305.5,250.0 L304.5,246.0 L303.1,242.0 L301.8,238.0 L301.3,234.0 L301.3,230.0 L301.3,226.0Z" fill="#707076"/><path d="M300.0,226.0 L300.0,230.0 L300.0,234.0 L300.5,238.0 L301.8,242.0 L303.2,246.0 L304.2,250.0 L305.2,254.0 L306.2,258.0 L307.2,262.0 L308.0,266.0 L308.8,270.0 L309.6,274.0 L310.4,278.0 L311.0,282.0 L311.6,286.0 L312.2,290.0 L312.8,294.0 L313.2,298.0 L313.6,302.0 L314.0,306.0 L314.4,310.0 L314.8,314.0 L315.2,318.0 L315.6,322.0 L316.0,326.0 L316.2,330.0 L316.4,334.0 L316.6,338.0 L316.8,342.0 L317.1,346.0 L317.4,350.0 L317.7,354.0 L318.1,358.0 L318.2,362.0 L318.4,366.0 L318.5,370.0 L318.7,374.0 L318.9,378.0 L319.0,382.0 L319.2,386.0 L323.9,386.0 L323.7,382.0 L323.6,378.0 L323.4,374.0 L323.3,370.0 L323.1,366.0 L323.0,362.0 L322.8,358.0 L322.5,354.0 L322.2,350.0 L321.8,346.0 L321.5,342.0 L321.3,338.0 L321.1,334.0 L320.9,330.0 L320.7,326.0 L320.3,322.0 L319.9,318.0 L319.5,314.0 L319.1,310.0 L318.7,306.0 L318.3,302.0 L317.9,298.0 L317.5,294.0 L316.9,290.0 L316.3,286.0 L315.7,282.0 L315.1,278.0 L314.3,274.0 L313.5,270.0 L312.7,266.0 L311.9,262.0 L310.9,258.0 L309.9,254.0 L308.9,250.0 L307.9,246.0 L306.6,242.0 L305.2,238.0 L304.7,234.0 L304.7,230.0 L304.7,226.0Z" fill="#6c6c72"/>
<path d="M176.6,322 C176.2,335 176.2,350 176.6,364 L178.4,364 C178,350 178.2,335 178.8,322 Z" fill="#e8e8ec" opacity="0.85"/>
</g>
<path d="M221.8,293 C223.5,306 224,330 223.2,350 C222.8,357 222,360 221.2,361.5 L224,365.5 L217.5,365.5 L219.8,361.5 C216.5,355 214.5,340 215,325 C215.6,311 218.5,300 221.8,293 Z" fill="#48484e"/>
<path d="M214.2,324 C213.2,338 213.6,352 215.5,362" stroke="#55555b" stroke-width="0.9" fill="none"/>
<path d="M285.2,294.5 C290,304 296.5,322 298.3,340 C299,352 297.5,361 293.5,364.8 C288,364 283,358 282.4,347 C282,334 283,314 285.2,294.5 Z" fill="#f2f2f4"/>
<path d="M296.8,334 C298.2,346 298,356 296.5,361" stroke="#8a8a90" stroke-width="1" fill="none"/>
<path d="M285.2,294.5 C283,314 282,334 282.4,347 C283,357 286.5,362.5 291.5,364.6" stroke="#3a3a40" stroke-width="1.7" fill="none"/>
<clipPath id="c1clip"><rect x="173.3" y="383.5" width="141.4" height="36.5"/></clipPath>
<g clip-path="url(#c1clip)"><path d="M172.3,383.5 L172.3,420.0 L174.1,420.0 L174.1,383.5Z" fill="#5f5f65"/><path d="M172.8,383.5 L172.8,420.0 L174.6,420.0 L174.6,383.5Z" fill="#616167"/><path d="M173.3,383.5 L173.3,420.0 L175.1,420.0 L175.1,383.5Z" fill="#636369"/><path d="M173.8,383.5 L173.8,420.0 L175.9,420.0 L175.9,383.5Z" fill="#68686e"/><path d="M174.6,383.5 L174.6,420.0 L176.8,420.0 L176.8,383.5Z" fill="#6f6f75"/><path d="M175.5,383.5 L175.5,420.0 L177.6,420.0 L177.6,383.5Z" fill="#76767c"/><path d="M176.3,383.5 L176.3,420.0 L178.6,420.0 L178.6,383.5Z" fill="#75757b"/><path d="M177.3,383.5 L177.3,420.0 L179.6,420.0 L179.6,383.5Z" fill="#6c6c72"/><path d="M178.3,383.5 L178.3,420.0 L180.6,420.0 L180.6,383.5Z" fill="#636369"/><path d="M179.3,383.5 L179.3,420.0 L183.0,420.0 L183.0,383.5Z" fill="#606066"/><path d="M181.7,383.5 L181.7,420.0 L185.4,420.0 L185.4,383.5Z" fill="#64646a"/><path d="M184.1,383.5 L184.1,420.0 L187.8,420.0 L187.8,383.5Z" fill="#68686e"/><path d="M186.5,383.5 L186.5,420.0 L188.5,420.0 L188.5,383.5Z" fill="#79797f"/><path d="M187.2,383.5 L187.2,420.0 L189.1,420.0 L189.1,383.5Z" fill="#98989d"/><path d="M187.8,383.5 L187.8,420.0 L189.8,420.0 L189.8,383.5Z" fill="#b7b7bb"/><path d="M188.5,383.5 L188.5,420.0 L190.3,420.0 L190.3,383.5Z" fill="#cfcfd2"/><path d="M189.0,383.5 L189.0,420.0 L190.8,420.0 L190.8,383.5Z" fill="#e0e0e2"/><path d="M189.5,383.5 L189.5,420.0 L191.3,420.0 L191.3,383.5Z" fill="#f1f1f2"/><path d="M190.0,383.5 L190.0,420.0 L202.6,420.0 L202.6,383.5Z" fill="#f9f9f9"/><path d="M201.3,383.5 L201.3,420.0 L214.0,420.0 L214.0,383.5Z" fill="#f8f8f8"/><path d="M212.7,383.5 L212.7,420.0 L225.3,420.0 L225.3,383.5Z" fill="#f7f7f7"/><path d="M224.0,383.5 L224.0,420.0 L225.9,420.0 L225.9,383.5Z" fill="#dededf"/><path d="M224.6,383.5 L224.6,420.0 L226.5,420.0 L226.5,383.5Z" fill="#aeaeb1"/><path d="M225.2,383.5 L225.2,420.0 L227.1,420.0 L227.1,383.5Z" fill="#7e7e83"/><path d="M225.8,383.5 L225.8,420.0 L228.5,420.0 L228.5,383.5Z" fill="#616167"/><path d="M227.2,383.5 L227.2,420.0 L229.8,420.0 L229.8,383.5Z" fill="#58585e"/><path d="M228.5,383.5 L228.5,420.0 L231.2,420.0 L231.2,383.5Z" fill="#4f4f55"/><path d="M229.9,383.5 L229.9,420.0 L233.4,420.0 L233.4,383.5Z" fill="#4b4a50"/><path d="M232.1,383.5 L232.1,420.0 L235.6,420.0 L235.6,383.5Z" fill="#4c4b51"/><path d="M234.3,383.5 L234.3,420.0 L237.7,420.0 L237.7,383.5Z" fill="#4d4c52"/><path d="M236.4,383.5 L236.4,420.0 L239.4,420.0 L239.4,383.5Z" fill="#534f54"/><path d="M238.1,383.5 L238.1,420.0 L241.0,420.0 L241.0,383.5Z" fill="#5d5558"/><path d="M239.7,383.5 L239.7,420.0 L242.7,420.0 L242.7,383.5Z" fill="#675b5c"/><path d="M241.3,383.5 L241.3,420.0 L244.0,420.0 L244.0,383.5Z" fill="#695d5e"/><path d="M242.7,383.5 L242.7,420.0 L245.3,420.0 L245.3,383.5Z" fill="#635c5f"/><path d="M244.0,383.5 L244.0,420.0 L246.6,420.0 L246.6,383.5Z" fill="#5d5b60"/><path d="M245.3,383.5 L245.3,420.0 L250.2,420.0 L250.2,383.5Z" fill="#5e5e65"/><path d="M248.9,383.5 L248.9,420.0 L253.9,420.0 L253.9,383.5Z" fill="#67676e"/><path d="M252.6,383.5 L252.6,420.0 L257.5,420.0 L257.5,383.5Z" fill="#707077"/><path d="M256.2,383.5 L256.2,420.0 L258.2,420.0 L258.2,383.5Z" fill="#83838b"/><path d="M256.9,383.5 L256.9,420.0 L258.8,420.0 L258.8,383.5Z" fill="#a2a2a8"/><path d="M257.5,383.5 L257.5,420.0 L259.5,420.0 L259.5,383.5Z" fill="#c1c1c5"/><path d="M258.2,383.5 L258.2,420.0 L260.0,420.0 L260.0,383.5Z" fill="#d7d7da"/><path d="M258.7,383.5 L258.7,420.0 L260.5,420.0 L260.5,383.5Z" fill="#e4e4e6"/><path d="M259.2,383.5 L259.2,420.0 L261.0,420.0 L261.0,383.5Z" fill="#f1f1f2"/><path d="M259.7,383.5 L259.7,420.0 L295.3,420.0 L295.3,383.5Z" fill="#f8f8f8"/><path d="M294.0,383.5 L294.0,420.0 L296.0,420.0 L296.0,383.5Z" fill="#ebebec"/><path d="M294.7,383.5 L294.7,420.0 L296.6,420.0 L296.6,383.5Z" fill="#d0d0d3"/><path d="M295.3,383.5 L295.3,420.0 L297.3,420.0 L297.3,383.5Z" fill="#b5b5ba"/><path d="M296.0,383.5 L296.0,420.0 L299.9,420.0 L299.9,383.5Z" fill="#a6a6ac"/><path d="M298.6,383.5 L298.6,420.0 L302.5,420.0 L302.5,383.5Z" fill="#a2a2a8"/><path d="M301.2,383.5 L301.2,420.0 L305.2,420.0 L305.2,383.5Z" fill="#9e9ea4"/><path d="M303.9,383.5 L303.9,420.0 L307.8,420.0 L307.8,383.5Z" fill="#9d9da3"/><path d="M306.5,383.5 L306.5,420.0 L310.4,420.0 L310.4,383.5Z" fill="#a0a0a6"/><path d="M309.1,383.5 L309.1,420.0 L313.0,420.0 L313.0,383.5Z" fill="#a3a3a9"/><path d="M311.7,383.5 L311.7,420.0 L313.8,420.0 L313.8,383.5Z" fill="#9b9ba1"/><path d="M312.5,383.5 L312.5,420.0 L314.7,420.0 L314.7,383.5Z" fill="#89898f"/><path d="M313.4,383.5 L313.4,420.0 L315.5,420.0 L315.5,383.5Z" fill="#77777d"/><path d="M314.2,383.5 L314.2,420.0 L318.0,420.0 L318.0,383.5Z" fill="#6e6e74"/></g>
<rect x="173.3" y="383.5" width="141.4" height="1.4" fill="#9a9aa0"/>
<rect x="173.3" y="384.9" width="141.4" height="2" fill="#777" opacity="0.35"/>
<path d="M171,427 Q171,420 177,419.5 L310,419.5 Q315.5,420 315.5,427 L315.5,787.3 L171,787.3 Z" fill="url(#rub)"/>
<rect x="171" y="428" width="1.8" height="355" fill="#3a4456" opacity="0.8"/>
<path d="M173.5,470 Q176,490 173.8,510 Q176,530 173.8,550 Q176,570 173.8,590 Q176,610 173.8,630 Q176,650 173.8,670 Q176,690 173.8,710 Q176,730 173.8,750" stroke="#4a4f58" stroke-width="0.8" fill="none"/>
<path d="M313.5,470 Q311,490 313.2,510 Q311,530 313.2,550 Q311,570 313.2,590 Q311,610 313.2,630 Q311,650 313.2,670 Q311,690 313.2,710 Q311,730 313.2,750" stroke="#4a4f58" stroke-width="0.8" fill="none"/>
<rect x="189.5" y="423.5" width="105" height="362" rx="7" fill="#1e1e1e"/>
<path d="M193,423.5 L291,423.5 Q294.5,423.5 294.5,427 L288,436 L197,436 L189.5,427 Q189.5,423.5 193,423.5 Z" fill="url(#chamT)"/>
<path d="M189.5,774 L196,770 L288,770 L294.5,774 L294.5,782 Q294.5,786.5 290,786.5 L194,786.5 Q189.5,786.5 189.5,782 Z" fill="url(#chamB)"/>
<rect x="192" y="431" width="100" height="348" rx="6" fill="#0c0c0c"/>
<rect x="195.5" y="438.5" width="89" height="333" rx="5" fill="url(#panelV)"/>
<rect x="195.5" y="438.5" width="89" height="333" rx="5" fill="url(#brushed)" opacity="0.3"/>
<rect x="195.5" y="438.5" width="89" height="333" rx="5" fill="#888" filter="url(#brushF)" opacity="0.2" clip-path="url(#panelClip)"/>
<rect x="196.1" y="439.1" width="87.8" height="331.8" rx="4.6" fill="none" stroke="#e2e2e2" stroke-width="1.3"/>
<circle cx="213" cy="455.6" r="8.8" fill="url(#scr)"/><circle cx="213" cy="455.6" r="4.4" fill="#e4e4e4" stroke="#9c9c9c" stroke-width="1"/><path d="M212.6,452.40000000000003 L212.6,458.8" stroke="#8a8a8a" stroke-width="1.1"/><circle cx="270.6" cy="455.6" r="8.8" fill="url(#scr)"/><circle cx="270.6" cy="455.6" r="4.4" fill="#e4e4e4" stroke="#9c9c9c" stroke-width="1"/><path d="M270.20000000000005,452.40000000000003 L270.20000000000005,458.8" stroke="#8a8a8a" stroke-width="1.1"/><circle cx="209.8" cy="754" r="8.8" fill="url(#scr)"/><circle cx="209.8" cy="754" r="4.4" fill="#e4e4e4" stroke="#9c9c9c" stroke-width="1"/><path d="M209.4,750.8 L209.4,757.2" stroke="#8a8a8a" stroke-width="1.1"/><circle cx="267.4" cy="754" r="8.8" fill="url(#scr)"/><circle cx="267.4" cy="754" r="4.4" fill="#e4e4e4" stroke="#9c9c9c" stroke-width="1"/><path d="M267.0,750.8 L267.0,757.2" stroke="#8a8a8a" stroke-width="1.1"/>
<rect x="211.2" y="477.2" width="60.6" height="40.8" rx="5.5" fill="#0e0e10" stroke="#d6d6d6" stroke-width="1.4"/>
<rect x="215.3" y="528.5" width="50.6" height="38.8" rx="5.5" fill="#28282a" stroke="#cfcfcf" stroke-width="1.4"/>
<rect x="215.3" y="581.5" width="50.6" height="40.2" rx="5.5" fill="#28282a" stroke="#cfcfcf" stroke-width="1.4"/>
<path d="M232,597 L240,597 M232,600.5 L240,600.5 M232,604 L240,604" stroke="#3a3a3e" stroke-width="1"/>
<rect x="227.5" y="639" width="25" height="24" rx="5" fill="#1e1e1e" stroke="#cccccc" stroke-width="1.2"/>
<path d="M231,656 L249,656 Q251.5,656 252,659 L253,664 Q254,668 258,671 Q261.5,673.5 261.5,678 L261.5,730 Q261.5,736 255.5,736 L224.5,736 Q218.5,736 218.5,730 L218.5,678 Q218.5,673.5 222,671 Q226,668 227,664 L228,659 Q228.5,656 231,656 Z" fill="#2c2c2e" stroke="#404042" stroke-width="1"/>
<path d="M239.8,683 L239.8,714 M239.8,699 Q234.5,695 234.5,690 M239.8,704 Q245,700 245,695" stroke="#141416" stroke-width="1.1" fill="none"/>
<path d="M237.8,685 L239.8,681 L241.8,685 Z" fill="#141416"/>
<circle cx="234.5" cy="689" r="1.3" fill="#141416"/><rect x="243.8" y="693" width="2.4" height="2.4" fill="#141416"/>
<clipPath id="c2clip"><rect x="169.7" y="787" width="142.5" height="36.5"/></clipPath>
<g clip-path="url(#c2clip)"><path d="M168.7,787.0 L168.7,823.5 L170.5,823.5 L170.5,787.0Z" fill="#5f5f65"/><path d="M169.2,787.0 L169.2,823.5 L171.0,823.5 L171.0,787.0Z" fill="#616167"/><path d="M169.7,787.0 L169.7,823.5 L171.5,823.5 L171.5,787.0Z" fill="#636369"/><path d="M170.2,787.0 L170.2,823.5 L172.3,823.5 L172.3,787.0Z" fill="#68686e"/><path d="M171.0,787.0 L171.0,823.5 L173.2,823.5 L173.2,787.0Z" fill="#6f6f75"/><path d="M171.9,787.0 L171.9,823.5 L174.0,823.5 L174.0,787.0Z" fill="#76767c"/><path d="M172.7,787.0 L172.7,823.5 L175.0,823.5 L175.0,787.0Z" fill="#75757b"/><path d="M173.7,787.0 L173.7,823.5 L176.0,823.5 L176.0,787.0Z" fill="#6c6c72"/><path d="M174.7,787.0 L174.7,823.5 L177.0,823.5 L177.0,787.0Z" fill="#636369"/><path d="M175.7,787.0 L175.7,823.5 L179.6,823.5 L179.6,787.0Z" fill="#606066"/><path d="M178.3,787.0 L178.3,823.5 L182.2,823.5 L182.2,787.0Z" fill="#64646a"/><path d="M180.9,787.0 L180.9,823.5 L184.8,823.5 L184.8,787.0Z" fill="#68686e"/><path d="M183.5,787.0 L183.5,823.5 L185.5,823.5 L185.5,787.0Z" fill="#79797f"/><path d="M184.2,787.0 L184.2,823.5 L186.1,823.5 L186.1,787.0Z" fill="#98989d"/><path d="M184.8,787.0 L184.8,823.5 L186.8,823.5 L186.8,787.0Z" fill="#b7b7bb"/><path d="M185.5,787.0 L185.5,823.5 L187.3,823.5 L187.3,787.0Z" fill="#cfcfd2"/><path d="M186.0,787.0 L186.0,823.5 L187.8,823.5 L187.8,787.0Z" fill="#e0e0e2"/><path d="M186.5,787.0 L186.5,823.5 L188.3,823.5 L188.3,787.0Z" fill="#f1f1f2"/><path d="M187.0,787.0 L187.0,823.5 L198.7,823.5 L198.7,787.0Z" fill="#f9f9f9"/><path d="M197.4,787.0 L197.4,823.5 L209.1,823.5 L209.1,787.0Z" fill="#f8f8f8"/><path d="M207.8,787.0 L207.8,823.5 L219.5,823.5 L219.5,787.0Z" fill="#f7f7f7"/><path d="M218.2,787.0 L218.2,823.5 L220.1,823.5 L220.1,787.0Z" fill="#dededf"/><path d="M218.8,787.0 L218.8,823.5 L220.7,823.5 L220.7,787.0Z" fill="#aeaeb1"/><path d="M219.4,787.0 L219.4,823.5 L221.3,823.5 L221.3,787.0Z" fill="#7e7e83"/><path d="M220.0,787.0 L220.0,823.5 L223.1,823.5 L223.1,787.0Z" fill="#616167"/><path d="M221.8,787.0 L221.8,823.5 L224.8,823.5 L224.8,787.0Z" fill="#58585e"/><path d="M223.5,787.0 L223.5,823.5 L226.6,823.5 L226.6,787.0Z" fill="#4f4f55"/><path d="M225.3,787.0 L225.3,823.5 L229.3,823.5 L229.3,787.0Z" fill="#4b4a50"/><path d="M228.0,787.0 L228.0,823.5 L232.0,823.5 L232.0,787.0Z" fill="#4c4b51"/><path d="M230.7,787.0 L230.7,823.5 L234.7,823.5 L234.7,787.0Z" fill="#4d4c52"/><path d="M233.4,787.0 L233.4,823.5 L236.7,823.5 L236.7,787.0Z" fill="#534f54"/><path d="M235.4,787.0 L235.4,823.5 L238.7,823.5 L238.7,787.0Z" fill="#5d5558"/><path d="M237.4,787.0 L237.4,823.5 L240.8,823.5 L240.8,787.0Z" fill="#675b5c"/><path d="M239.4,787.0 L239.4,823.5 L242.4,823.5 L242.4,787.0Z" fill="#695d5e"/><path d="M241.1,787.0 L241.1,823.5 L244.0,823.5 L244.0,787.0Z" fill="#635c5f"/><path d="M242.7,787.0 L242.7,823.5 L245.6,823.5 L245.6,787.0Z" fill="#5d5b60"/><path d="M244.3,787.0 L244.3,823.5 L250.2,823.5 L250.2,787.0Z" fill="#5e5e65"/><path d="M248.9,787.0 L248.9,823.5 L254.9,823.5 L254.9,787.0Z" fill="#67676e"/><path d="M253.6,787.0 L253.6,823.5 L259.5,823.5 L259.5,787.0Z" fill="#707077"/><path d="M258.2,787.0 L258.2,823.5 L260.2,823.5 L260.2,787.0Z" fill="#83838b"/><path d="M258.9,787.0 L258.9,823.5 L260.8,823.5 L260.8,787.0Z" fill="#a2a2a8"/><path d="M259.5,787.0 L259.5,823.5 L261.5,823.5 L261.5,787.0Z" fill="#c1c1c5"/><path d="M260.2,787.0 L260.2,823.5 L262.0,823.5 L262.0,787.0Z" fill="#d7d7da"/><path d="M260.7,787.0 L260.7,823.5 L262.5,823.5 L262.5,787.0Z" fill="#e4e4e6"/><path d="M261.2,787.0 L261.2,823.5 L263.0,823.5 L263.0,787.0Z" fill="#f1f1f2"/><path d="M261.7,787.0 L261.7,823.5 L292.3,823.5 L292.3,787.0Z" fill="#f8f8f8"/><path d="M291.0,787.0 L291.0,823.5 L293.0,823.5 L293.0,787.0Z" fill="#ebebec"/><path d="M291.7,787.0 L291.7,823.5 L293.6,823.5 L293.6,787.0Z" fill="#d0d0d3"/><path d="M292.3,787.0 L292.3,823.5 L294.3,823.5 L294.3,787.0Z" fill="#b5b5ba"/><path d="M293.0,787.0 L293.0,823.5 L297.0,823.5 L297.0,787.0Z" fill="#a6a6ac"/><path d="M295.7,787.0 L295.7,823.5 L299.7,823.5 L299.7,787.0Z" fill="#a2a2a8"/><path d="M298.4,787.0 L298.4,823.5 L302.4,823.5 L302.4,787.0Z" fill="#9e9ea4"/><path d="M301.1,787.0 L301.1,823.5 L305.1,823.5 L305.1,787.0Z" fill="#9d9da3"/><path d="M303.8,787.0 L303.8,823.5 L307.8,823.5 L307.8,787.0Z" fill="#a0a0a6"/><path d="M306.5,787.0 L306.5,823.5 L310.5,823.5 L310.5,787.0Z" fill="#a3a3a9"/><path d="M309.2,787.0 L309.2,823.5 L311.3,823.5 L311.3,787.0Z" fill="#9b9ba1"/><path d="M310.0,787.0 L310.0,823.5 L312.2,823.5 L312.2,787.0Z" fill="#89898f"/><path d="M310.9,787.0 L310.9,823.5 L313.0,823.5 L313.0,787.0Z" fill="#77777d"/><path d="M311.7,787.0 L311.7,823.5 L315.5,823.5 L315.5,787.0Z" fill="#6e6e74"/></g>
<rect x="170" y="787" width="141.6" height="1.6" fill="#3a3a3a" opacity="0.7"/>
<clipPath id="tailClip"><path d="M172,823 L311,823 L311,826.5 C310.7,830.8 310.1,842.1 309.4,852.0 C308.7,861.9 307.9,874.7 306.8,886.0 C305.7,897.3 304.3,908.7 302.6,920.0 C300.9,931.3 298.5,945.3 296.6,954.0 C294.8,962.7 292.4,969.0 291.5,972.0 Q289.5,978.7 285,978.7 L198,978.7 Q193,978.5 191.5,971 C190.9,968.2 189.2,959.7 188.1,954.0 C187.0,948.3 185.8,942.7 184.7,937.0 C183.6,931.3 182.4,925.7 181.3,920.0 C180.2,914.3 178.9,908.7 177.9,903.0 C176.9,897.3 176.1,891.7 175.4,886.0 C174.7,880.3 174.2,876.1 173.7,869.0 C173.2,861.9 172.8,850.6 172.5,843.5 C172.2,836.4 172.1,829.3 172.0,826.5 Z"/></clipPath>
<g clip-path="url(#tailClip)">
<path d="M162.0,820.0 L162.0,825.4 L162.1,830.8 L162.3,836.2 L162.4,841.6 L162.7,847.0 L162.9,852.4 L163.2,857.8 L163.4,863.2 L163.7,868.6 L164.2,874.0 L164.7,879.4 L165.3,884.8 L166.0,890.2 L166.8,895.6 L167.6,901.0 L168.6,906.4 L169.7,911.8 L170.7,917.2 L171.8,922.6 L172.9,928.0 L174.0,933.4 L175.1,938.8 L176.1,944.2 L177.2,949.6 L178.3,955.0 L179.4,960.4 L180.5,965.8 L181.5,971.2 L182.4,976.6 L183.2,982.0 L187.8,982.0 L187.0,976.6 L186.2,971.2 L185.1,965.8 L184.0,960.4 L182.9,955.0 L181.9,949.6 L180.8,944.2 L179.7,938.8 L178.6,933.4 L177.5,928.0 L176.5,922.6 L175.4,917.2 L174.3,911.8 L173.2,906.4 L172.2,901.0 L171.4,895.6 L170.7,890.2 L169.9,884.8 L169.4,879.4 L168.8,874.0 L168.3,868.6 L168.1,863.2 L167.8,857.8 L167.6,852.4 L167.3,847.0 L167.1,841.6 L166.9,836.2 L166.8,830.8 L166.6,825.4 L166.6,820.0Z" fill="#6b6b71"/><path d="M165.3,820.0 L165.3,825.4 L165.5,830.8 L165.6,836.2 L165.8,841.6 L166.0,847.0 L166.3,852.4 L166.5,857.8 L166.8,863.2 L167.0,868.6 L167.5,874.0 L168.1,879.4 L168.6,884.8 L169.4,890.2 L170.1,895.6 L170.9,901.0 L171.9,906.4 L173.0,911.8 L174.1,917.2 L175.2,922.6 L176.2,928.0 L177.3,933.4 L178.4,938.8 L179.5,944.2 L180.6,949.6 L181.6,955.0 L182.7,960.4 L183.8,965.8 L184.9,971.2 L185.7,976.6 L186.5,982.0 L191.2,982.0 L190.3,976.6 L189.5,971.2 L188.4,965.8 L187.3,960.4 L186.3,955.0 L185.2,949.6 L184.1,944.2 L183.0,938.8 L181.9,933.4 L180.9,928.0 L179.8,922.6 L178.7,917.2 L177.6,911.8 L176.5,906.4 L175.6,901.0 L174.8,895.6 L174.0,890.2 L173.2,884.8 L172.7,879.4 L172.2,874.0 L171.6,868.6 L171.4,863.2 L171.1,857.8 L170.9,852.4 L170.6,847.0 L170.4,841.6 L170.3,836.2 L170.1,830.8 L170.0,825.4 L170.0,820.0Z" fill="#6c6c72"/><path d="M168.7,820.0 L168.7,825.4 L168.8,830.8 L169.0,836.2 L169.1,841.6 L169.3,847.0 L169.6,852.4 L169.8,857.8 L170.1,863.2 L170.3,868.6 L170.9,874.0 L171.4,879.4 L171.9,884.8 L172.7,890.2 L173.5,895.6 L174.3,901.0 L175.2,906.4 L176.3,911.8 L177.4,917.2 L178.5,922.6 L179.6,928.0 L180.6,933.4 L181.7,938.8 L182.8,944.2 L183.9,949.6 L185.0,955.0 L186.0,960.4 L187.1,965.8 L188.2,971.2 L189.0,976.6 L189.9,982.0 L194.5,982.0 L193.7,976.6 L192.8,971.2 L191.8,965.8 L190.7,960.4 L189.6,955.0 L188.5,949.6 L187.4,944.2 L186.4,938.8 L185.3,933.4 L184.2,928.0 L183.1,922.6 L182.0,917.2 L181.0,911.8 L179.9,906.4 L178.9,901.0 L178.1,895.6 L177.3,890.2 L176.6,884.8 L176.0,879.4 L175.5,874.0 L175.0,868.6 L174.7,863.2 L174.5,857.8 L174.2,852.4 L174.0,847.0 L173.7,841.6 L173.6,836.2 L173.4,830.8 L173.3,825.4 L173.3,820.0Z" fill="#6d6d73"/><path d="M172.0,820.0 L172.0,825.4 L172.1,830.8 L172.3,836.2 L172.4,841.6 L172.7,847.0 L172.9,852.4 L173.2,857.8 L173.4,863.2 L173.7,868.6 L174.2,874.0 L174.7,879.4 L175.3,884.8 L176.0,890.2 L176.8,895.6 L177.6,901.0 L178.6,906.4 L179.7,911.8 L180.7,917.2 L181.8,922.6 L182.9,928.0 L184.0,933.4 L185.1,938.8 L186.1,944.2 L187.2,949.6 L188.3,955.0 L189.4,960.4 L190.5,965.8 L191.5,971.2 L192.4,976.6 L193.2,982.0 L195.0,982.0 L194.2,976.6 L193.3,971.2 L192.3,965.8 L191.2,960.4 L190.1,955.0 L189.0,949.6 L187.9,944.2 L186.9,938.8 L185.8,933.4 L184.7,928.0 L183.6,922.6 L182.5,917.2 L181.5,911.8 L180.4,906.4 L179.4,901.0 L178.6,895.6 L177.8,890.2 L177.1,884.8 L176.5,879.4 L176.0,874.0 L175.5,868.6 L175.2,863.2 L175.0,857.8 L174.7,852.4 L174.5,847.0 L174.2,841.6 L174.1,836.2 L173.9,830.8 L173.8,825.4 L173.8,820.0Z" fill="#707076"/><path d="M172.5,820.0 L172.5,825.4 L172.6,830.8 L172.8,836.2 L172.9,841.6 L173.2,847.0 L173.4,852.4 L173.7,857.8 L173.9,863.2 L174.2,868.6 L174.7,874.0 L175.2,879.4 L175.8,884.8 L176.5,890.2 L177.3,895.6 L178.1,901.0 L179.1,906.4 L180.2,911.8 L181.2,917.2 L182.3,922.6 L183.4,928.0 L184.5,933.4 L185.6,938.8 L186.6,944.2 L187.7,949.6 L188.8,955.0 L189.9,960.4 L191.0,965.8 L192.0,971.2 L192.9,976.6 L193.7,982.0 L195.5,982.0 L194.7,976.6 L193.8,971.2 L192.8,965.8 L191.7,960.4 L190.6,955.0 L189.5,949.6 L188.4,944.2 L187.4,938.8 L186.3,933.4 L185.2,928.0 L184.1,922.6 L183.0,917.2 L182.0,911.8 L180.9,906.4 L179.9,901.0 L179.1,895.6 L178.3,890.2 L177.6,884.8 L177.0,879.4 L176.5,874.0 L176.0,868.6 L175.7,863.2 L175.5,857.8 L175.2,852.4 L175.0,847.0 L174.7,841.6 L174.6,836.2 L174.4,830.8 L174.3,825.4 L174.3,820.0Z" fill="#75757b"/><path d="M173.0,820.0 L173.0,825.4 L173.1,830.8 L173.3,836.2 L173.4,841.6 L173.7,847.0 L173.9,852.4 L174.2,857.8 L174.4,863.2 L174.7,868.6 L175.2,874.0 L175.7,879.4 L176.3,884.8 L177.0,890.2 L177.8,895.6 L178.6,901.0 L179.6,906.4 L180.7,911.8 L181.7,917.2 L182.8,922.6 L183.9,928.0 L185.0,933.4 L186.1,938.8 L187.1,944.2 L188.2,949.6 L189.3,955.0 L190.4,960.4 L191.5,965.8 L192.5,971.2 L193.4,976.6 L194.2,982.0 L196.0,982.0 L195.2,976.6 L194.3,971.2 L193.3,965.8 L192.2,960.4 L191.1,955.0 L190.0,949.6 L188.9,944.2 L187.9,938.8 L186.8,933.4 L185.7,928.0 L184.6,922.6 L183.5,917.2 L182.5,911.8 L181.4,906.4 L180.4,901.0 L179.6,895.6 L178.8,890.2 L178.1,884.8 L177.5,879.4 L177.0,874.0 L176.5,868.6 L176.2,863.2 L176.0,857.8 L175.7,852.4 L175.5,847.0 L175.2,841.6 L175.1,836.2 L174.9,830.8 L174.8,825.4 L174.8,820.0Z" fill="#7a7a80"/><path d="M173.5,820.0 L173.5,825.4 L173.6,830.8 L173.8,836.2 L173.9,841.6 L174.2,847.0 L174.4,852.4 L174.7,857.8 L174.9,863.2 L175.2,868.6 L175.7,874.0 L176.2,879.4 L176.8,884.8 L177.5,890.2 L178.3,895.6 L179.1,901.0 L180.1,906.4 L181.2,911.8 L182.2,917.2 L183.3,922.6 L184.4,928.0 L185.5,933.4 L186.6,938.8 L187.6,944.2 L188.7,949.6 L189.8,955.0 L190.9,960.4 L192.0,965.8 L193.0,971.2 L193.9,976.6 L194.7,982.0 L196.7,982.0 L195.8,976.6 L195.0,971.2 L193.9,965.8 L192.8,960.4 L191.8,955.0 L190.7,949.6 L189.6,944.2 L188.5,938.8 L187.4,933.4 L186.4,928.0 L185.3,922.6 L184.2,917.2 L183.1,911.8 L182.0,906.4 L181.1,901.0 L180.3,895.6 L179.5,890.2 L178.7,884.8 L178.2,879.4 L177.7,874.0 L177.1,868.6 L176.9,863.2 L176.6,857.8 L176.4,852.4 L176.1,847.0 L175.9,841.6 L175.8,836.2 L175.6,830.8 L175.5,825.4 L175.5,820.0Z" fill="#77777d"/><path d="M174.2,820.0 L174.2,825.4 L174.3,830.8 L174.5,836.2 L174.6,841.6 L174.8,847.0 L175.1,852.4 L175.3,857.8 L175.6,863.2 L175.8,868.6 L176.4,874.0 L176.9,879.4 L177.4,884.8 L178.2,890.2 L179.0,895.6 L179.8,901.0 L180.7,906.4 L181.8,911.8 L182.9,917.2 L184.0,922.6 L185.1,928.0 L186.1,933.4 L187.2,938.8 L188.3,944.2 L189.4,949.6 L190.5,955.0 L191.5,960.4 L192.6,965.8 L193.7,971.2 L194.5,976.6 L195.4,982.0 L197.3,982.0 L196.5,976.6 L195.7,971.2 L194.6,965.8 L193.5,960.4 L192.4,955.0 L191.4,949.6 L190.3,944.2 L189.2,938.8 L188.1,933.4 L187.0,928.0 L186.0,922.6 L184.9,917.2 L183.8,911.8 L182.7,906.4 L181.7,901.0 L180.9,895.6 L180.2,890.2 L179.4,884.8 L178.9,879.4 L178.3,874.0 L177.8,868.6 L177.6,863.2 L177.3,857.8 L177.1,852.4 L176.8,847.0 L176.6,841.6 L176.4,836.2 L176.3,830.8 L176.1,825.4 L176.1,820.0Z" fill="#6d6d73"/><path d="M174.8,820.0 L174.8,825.4 L175.0,830.8 L175.1,836.2 L175.3,841.6 L175.5,847.0 L175.8,852.4 L176.0,857.8 L176.3,863.2 L176.5,868.6 L177.0,874.0 L177.6,879.4 L178.1,884.8 L178.9,890.2 L179.6,895.6 L180.4,901.0 L181.4,906.4 L182.5,911.8 L183.6,917.2 L184.7,922.6 L185.7,928.0 L186.8,933.4 L187.9,938.8 L189.0,944.2 L190.1,949.6 L191.1,955.0 L192.2,960.4 L193.3,965.8 L194.4,971.2 L195.2,976.6 L196.0,982.0 L198.0,982.0 L197.2,976.6 L196.3,971.2 L195.3,965.8 L194.2,960.4 L193.1,955.0 L192.0,949.6 L190.9,944.2 L189.9,938.8 L188.8,933.4 L187.7,928.0 L186.6,922.6 L185.5,917.2 L184.5,911.8 L183.4,906.4 L182.4,901.0 L181.6,895.6 L180.8,890.2 L180.1,884.8 L179.5,879.4 L179.0,874.0 L178.5,868.6 L178.2,863.2 L178.0,857.8 L177.7,852.4 L177.5,847.0 L177.2,841.6 L177.1,836.2 L176.9,830.8 L176.8,825.4 L176.8,820.0Z" fill="#636369"/><path d="M175.5,820.0 L175.5,825.4 L175.6,830.8 L175.8,836.2 L175.9,841.6 L176.2,847.0 L176.4,852.4 L176.7,857.8 L176.9,863.2 L177.2,868.6 L177.7,874.0 L178.2,879.4 L178.8,884.8 L179.5,890.2 L180.3,895.6 L181.1,901.0 L182.1,906.4 L183.2,911.8 L184.2,917.2 L185.3,922.6 L186.4,928.0 L187.5,933.4 L188.6,938.8 L189.6,944.2 L190.7,949.6 L191.8,955.0 L192.9,960.4 L194.0,965.8 L195.0,971.2 L195.9,976.6 L196.7,982.0 L198.9,982.0 L198.2,976.6 L197.3,971.2 L196.2,965.8 L195.2,960.4 L194.1,955.0 L193.1,949.6 L192.1,944.2 L191.2,938.8 L190.2,933.4 L189.2,928.0 L188.2,922.6 L187.3,917.2 L186.4,911.8 L185.6,906.4 L184.8,901.0 L184.1,895.6 L183.4,890.2 L182.8,884.8 L182.4,879.4 L182.0,874.0 L181.7,868.6 L181.5,863.2 L181.2,857.8 L181.0,852.4 L180.8,847.0 L180.6,841.6 L180.5,836.2 L180.4,830.8 L180.2,825.4 L180.2,820.0Z" fill="#606066"/><path d="M178.9,820.0 L178.9,825.4 L179.1,830.8 L179.2,836.2 L179.3,841.6 L179.5,847.0 L179.7,852.4 L179.9,857.8 L180.2,863.2 L180.4,868.6 L180.7,874.0 L181.1,879.4 L181.5,884.8 L182.1,890.2 L182.8,895.6 L183.5,901.0 L184.3,906.4 L185.1,911.8 L186.0,917.2 L186.9,922.6 L187.9,928.0 L188.9,933.4 L189.9,938.8 L190.8,944.2 L191.8,949.6 L192.8,955.0 L193.9,960.4 L194.9,965.8 L196.0,971.2 L196.9,976.6 L197.6,982.0 L199.9,982.0 L199.2,976.6 L198.3,971.2 L197.2,965.8 L196.2,960.4 L195.1,955.0 L194.2,949.6 L193.3,944.2 L192.5,938.8 L191.6,933.4 L190.7,928.0 L189.9,922.6 L189.1,917.2 L188.4,911.8 L187.8,906.4 L187.2,901.0 L186.6,895.6 L186.0,890.2 L185.5,884.8 L185.3,879.4 L185.1,874.0 L184.8,868.6 L184.7,863.2 L184.5,857.8 L184.4,852.4 L184.2,847.0 L184.1,841.6 L183.9,836.2 L183.8,830.8 L183.7,825.4 L183.7,820.0Z" fill="#64646a"/><path d="M182.4,820.0 L182.4,825.4 L182.5,830.8 L182.6,836.2 L182.8,841.6 L182.9,847.0 L183.1,852.4 L183.2,857.8 L183.4,863.2 L183.5,868.6 L183.8,874.0 L184.0,879.4 L184.2,884.8 L184.7,890.2 L185.3,895.6 L185.9,901.0 L186.5,906.4 L187.1,911.8 L187.8,917.2 L188.6,922.6 L189.4,928.0 L190.3,933.4 L191.2,938.8 L192.0,944.2 L192.9,949.6 L193.8,955.0 L194.9,960.4 L195.9,965.8 L197.0,971.2 L197.9,976.6 L198.6,982.0 L200.8,982.0 L200.3,976.6 L199.3,971.2 L198.2,965.8 L197.2,960.4 L196.1,955.0 L195.3,949.6 L194.5,944.2 L193.8,938.8 L193.0,933.4 L192.2,928.0 L191.5,922.6 L190.9,917.2 L190.4,911.8 L190.0,906.4 L189.5,901.0 L189.1,895.6 L188.6,890.2 L188.3,884.8 L188.2,879.4 L188.1,874.0 L188.0,868.6 L187.9,863.2 L187.8,857.8 L187.7,852.4 L187.6,847.0 L187.5,841.6 L187.3,836.2 L187.2,830.8 L187.1,825.4 L187.1,820.0Z" fill="#68686e"/><path d="M185.8,820.0 L185.8,825.4 L185.9,830.8 L186.0,836.2 L186.2,841.6 L186.3,847.0 L186.4,852.4 L186.5,857.8 L186.6,863.2 L186.7,868.6 L186.8,874.0 L186.9,879.4 L187.0,884.8 L187.3,890.2 L187.8,895.6 L188.2,901.0 L188.7,906.4 L189.1,911.8 L189.6,917.2 L190.2,922.6 L190.9,928.0 L191.7,933.4 L192.5,938.8 L193.2,944.2 L194.0,949.6 L194.8,955.0 L195.9,960.4 L196.9,965.8 L198.0,971.2 L199.0,976.6 L199.5,982.0 L201.5,982.0 L200.9,976.6 L199.9,971.2 L198.9,965.8 L197.8,960.4 L196.8,955.0 L195.9,949.6 L195.2,944.2 L194.4,938.8 L193.7,933.4 L192.9,928.0 L192.1,922.6 L191.5,917.2 L191.1,911.8 L190.6,906.4 L190.2,901.0 L189.8,895.6 L189.3,890.2 L188.9,884.8 L188.9,879.4 L188.8,874.0 L188.7,868.6 L188.6,863.2 L188.5,857.8 L188.4,852.4 L188.2,847.0 L188.1,841.6 L188.0,836.2 L187.9,830.8 L187.8,825.4 L187.8,820.0Z" fill="#79797f"/><path d="M186.5,820.0 L186.5,825.4 L186.6,830.8 L186.7,836.2 L186.8,841.6 L186.9,847.0 L187.1,852.4 L187.2,857.8 L187.3,863.2 L187.4,868.6 L187.5,874.0 L187.6,879.4 L187.6,884.8 L188.0,890.2 L188.5,895.6 L188.9,901.0 L189.3,906.4 L189.8,911.8 L190.2,917.2 L190.8,922.6 L191.6,928.0 L192.4,933.4 L193.1,938.8 L193.9,944.2 L194.6,949.6 L195.5,955.0 L196.5,960.4 L197.6,965.8 L198.6,971.2 L199.6,976.6 L200.2,982.0 L202.1,982.0 L201.6,976.6 L200.6,971.2 L199.5,965.8 L198.5,960.4 L197.4,955.0 L196.6,949.6 L195.8,944.2 L195.1,938.8 L194.3,933.4 L193.6,928.0 L192.8,922.6 L192.2,917.2 L191.8,911.8 L191.3,906.4 L190.9,901.0 L190.4,895.6 L190.0,890.2 L189.6,884.8 L189.5,879.4 L189.4,874.0 L189.3,868.6 L189.2,863.2 L189.1,857.8 L189.0,852.4 L188.9,847.0 L188.8,841.6 L188.7,836.2 L188.5,830.8 L188.4,825.4 L188.4,820.0Z" fill="#98989d"/><path d="M187.1,820.0 L187.1,825.4 L187.2,830.8 L187.4,836.2 L187.5,841.6 L187.6,847.0 L187.7,852.4 L187.8,857.8 L187.9,863.2 L188.0,868.6 L188.1,874.0 L188.2,879.4 L188.3,884.8 L188.7,890.2 L189.1,895.6 L189.6,901.0 L190.0,906.4 L190.5,911.8 L190.9,917.2 L191.5,922.6 L192.3,928.0 L193.0,933.4 L193.8,938.8 L194.5,944.2 L195.3,949.6 L196.1,955.0 L197.2,960.4 L198.2,965.8 L199.3,971.2 L200.3,976.6 L200.8,982.0 L202.8,982.0 L202.3,976.6 L201.3,971.2 L200.2,965.8 L199.2,960.4 L198.1,955.0 L197.3,949.6 L196.5,944.2 L195.8,938.8 L195.0,933.4 L194.2,928.0 L193.5,922.6 L192.9,917.2 L192.4,911.8 L192.0,906.4 L191.5,901.0 L191.1,895.6 L190.6,890.2 L190.3,884.8 L190.2,879.4 L190.1,874.0 L190.0,868.6 L189.9,863.2 L189.8,857.8 L189.7,852.4 L189.6,847.0 L189.5,841.6 L189.3,836.2 L189.2,830.8 L189.1,825.4 L189.1,820.0Z" fill="#b7b7bb"/><path d="M187.8,820.0 L187.8,825.4 L187.9,830.8 L188.0,836.2 L188.2,841.6 L188.3,847.0 L188.4,852.4 L188.5,857.8 L188.6,863.2 L188.7,868.6 L188.8,874.0 L188.9,879.4 L189.0,884.8 L189.3,890.2 L189.8,895.6 L190.2,901.0 L190.7,906.4 L191.1,911.8 L191.6,917.2 L192.2,922.6 L192.9,928.0 L193.7,933.4 L194.5,938.8 L195.2,944.2 L196.0,949.6 L196.8,955.0 L197.9,960.4 L198.9,965.8 L200.0,971.2 L201.0,976.6 L201.5,982.0 L203.3,982.0 L202.8,976.6 L201.8,971.2 L200.7,965.8 L199.7,960.4 L198.6,955.0 L197.8,949.6 L197.0,944.2 L196.3,938.8 L195.5,933.4 L194.7,928.0 L194.0,922.6 L193.4,917.2 L192.9,911.8 L192.5,906.4 L192.0,901.0 L191.6,895.6 L191.1,890.2 L190.8,884.8 L190.7,879.4 L190.6,874.0 L190.5,868.6 L190.4,863.2 L190.3,857.8 L190.2,852.4 L190.1,847.0 L190.0,841.6 L189.8,836.2 L189.7,830.8 L189.6,825.4 L189.6,820.0Z" fill="#cfcfd2"/><path d="M188.3,820.0 L188.3,825.4 L188.4,830.8 L188.5,836.2 L188.7,841.6 L188.8,847.0 L188.9,852.4 L189.0,857.8 L189.1,863.2 L189.2,868.6 L189.3,874.0 L189.4,879.4 L189.5,884.8 L189.8,890.2 L190.3,895.6 L190.7,901.0 L191.2,906.4 L191.6,911.8 L192.1,917.2 L192.7,922.6 L193.4,928.0 L194.2,933.4 L195.0,938.8 L195.7,944.2 L196.5,949.6 L197.3,955.0 L198.4,960.4 L199.4,965.8 L200.5,971.2 L201.5,976.6 L202.0,982.0 L203.8,982.0 L203.3,976.6 L202.3,971.2 L201.2,965.8 L200.2,960.4 L199.1,955.0 L198.3,949.6 L197.5,944.2 L196.8,938.8 L196.0,933.4 L195.2,928.0 L194.5,922.6 L193.9,917.2 L193.4,911.8 L193.0,906.4 L192.5,901.0 L192.1,895.6 L191.6,890.2 L191.3,884.8 L191.2,879.4 L191.1,874.0 L191.0,868.6 L190.9,863.2 L190.8,857.8 L190.7,852.4 L190.6,847.0 L190.5,841.6 L190.3,836.2 L190.2,830.8 L190.1,825.4 L190.1,820.0Z" fill="#e0e0e2"/><path d="M188.8,820.0 L188.8,825.4 L188.9,830.8 L189.0,836.2 L189.2,841.6 L189.3,847.0 L189.4,852.4 L189.5,857.8 L189.6,863.2 L189.7,868.6 L189.8,874.0 L189.9,879.4 L190.0,884.8 L190.3,890.2 L190.8,895.6 L191.2,901.0 L191.7,906.4 L192.1,911.8 L192.6,917.2 L193.2,922.6 L193.9,928.0 L194.7,933.4 L195.5,938.8 L196.2,944.2 L197.0,949.6 L197.8,955.0 L198.9,960.4 L199.9,965.8 L201.0,971.2 L202.0,976.6 L202.5,982.0 L204.3,982.0 L203.8,976.6 L202.8,971.2 L201.7,965.8 L200.7,960.4 L199.6,955.0 L198.8,949.6 L198.0,944.2 L197.3,938.8 L196.5,933.4 L195.7,928.0 L195.0,922.6 L194.4,917.2 L193.9,911.8 L193.5,906.4 L193.0,901.0 L192.6,895.6 L192.1,890.2 L191.8,884.8 L191.7,879.4 L191.6,874.0 L191.5,868.6 L191.4,863.2 L191.3,857.8 L191.2,852.4 L191.1,847.0 L191.0,841.6 L190.8,836.2 L190.7,830.8 L190.6,825.4 L190.6,820.0Z" fill="#f2f2f3"/><path d="M189.3,820.0 L189.3,825.4 L189.4,830.8 L189.5,836.2 L189.7,841.6 L189.8,847.0 L189.9,852.4 L190.0,857.8 L190.1,863.2 L190.2,868.6 L190.3,874.0 L190.4,879.4 L190.5,884.8 L190.8,890.2 L191.3,895.6 L191.7,901.0 L192.2,906.4 L192.6,911.8 L193.1,917.2 L193.7,922.6 L194.4,928.0 L195.2,933.4 L196.0,938.8 L196.7,944.2 L197.5,949.6 L198.3,955.0 L199.4,960.4 L200.4,965.8 L201.5,971.2 L202.5,976.6 L203.0,982.0 L212.2,982.0 L211.7,976.6 L211.0,971.2 L210.3,965.8 L209.5,960.4 L208.7,955.0 L208.1,949.6 L207.5,944.2 L206.8,938.8 L206.2,933.4 L205.6,928.0 L204.9,922.6 L204.4,917.2 L203.9,911.8 L203.5,906.4 L203.1,901.0 L202.6,895.6 L202.2,890.2 L201.9,884.8 L201.7,879.4 L201.6,874.0 L201.5,868.6 L201.3,863.2 L201.2,857.8 L201.0,852.4 L200.9,847.0 L200.7,841.6 L200.6,836.2 L200.5,830.8 L200.5,825.4 L200.5,820.0Z" fill="#fbfbfb"/><path d="M199.2,820.0 L199.2,825.4 L199.2,830.8 L199.3,836.2 L199.4,841.6 L199.6,847.0 L199.7,852.4 L199.9,857.8 L200.0,863.2 L200.2,868.6 L200.3,874.0 L200.4,879.4 L200.6,884.8 L200.9,890.2 L201.3,895.6 L201.8,901.0 L202.2,906.4 L202.6,911.8 L203.1,917.2 L203.6,922.6 L204.3,928.0 L204.9,933.4 L205.5,938.8 L206.2,944.2 L206.8,949.6 L207.4,955.0 L208.2,960.4 L209.0,965.8 L209.7,971.2 L210.4,976.6 L210.9,982.0 L220.0,982.0 L219.7,976.6 L219.3,971.2 L218.8,965.8 L218.4,960.4 L217.9,955.0 L217.4,949.6 L216.9,944.2 L216.4,938.8 L215.9,933.4 L215.4,928.0 L214.9,922.6 L214.4,917.2 L214.0,911.8 L213.5,906.4 L213.1,901.0 L212.7,895.6 L212.3,890.2 L212.0,884.8 L211.8,879.4 L211.6,874.0 L211.4,868.6 L211.2,863.2 L211.0,857.8 L210.9,852.4 L210.7,847.0 L210.5,841.6 L210.4,836.2 L210.4,830.8 L210.3,825.4 L210.3,820.0Z" fill="#fafafa"/><path d="M209.0,820.0 L209.0,825.4 L209.1,830.8 L209.1,836.2 L209.2,841.6 L209.4,847.0 L209.6,852.4 L209.7,857.8 L209.9,863.2 L210.1,868.6 L210.3,874.0 L210.5,879.4 L210.7,884.8 L211.0,890.2 L211.4,895.6 L211.8,901.0 L212.2,906.4 L212.7,911.8 L213.1,917.2 L213.6,922.6 L214.1,928.0 L214.6,933.4 L215.1,938.8 L215.6,944.2 L216.1,949.6 L216.6,955.0 L217.1,960.4 L217.5,965.8 L218.0,971.2 L218.4,976.6 L218.7,982.0 L227.9,982.0 L227.7,976.6 L227.6,971.2 L227.4,965.8 L227.2,960.4 L227.0,955.0 L226.7,949.6 L226.3,944.2 L226.0,938.8 L225.6,933.4 L225.3,928.0 L224.8,922.6 L224.4,917.2 L224.0,911.8 L223.6,906.4 L223.2,901.0 L222.7,895.6 L222.3,890.2 L222.1,884.8 L221.8,879.4 L221.6,874.0 L221.4,868.6 L221.1,863.2 L220.9,857.8 L220.7,852.4 L220.5,847.0 L220.3,841.6 L220.3,836.2 L220.2,830.8 L220.2,825.4 L220.2,820.0Z" fill="#f9f9f9"/><path d="M218.9,820.0 L218.9,825.4 L218.9,830.8 L219.0,836.2 L219.0,841.6 L219.2,847.0 L219.4,852.4 L219.6,857.8 L219.8,863.2 L220.1,868.6 L220.3,874.0 L220.5,879.4 L220.8,884.8 L221.0,890.2 L221.4,895.6 L221.9,901.0 L222.3,906.4 L222.7,911.8 L223.1,917.2 L223.5,922.6 L224.0,928.0 L224.3,933.4 L224.7,938.8 L225.0,944.2 L225.4,949.6 L225.7,955.0 L225.9,960.4 L226.1,965.8 L226.3,971.2 L226.4,976.6 L226.6,982.0 L228.5,982.0 L228.3,976.6 L228.2,971.2 L228.0,965.8 L227.8,960.4 L227.6,955.0 L227.3,949.6 L226.9,944.2 L226.6,938.8 L226.2,933.4 L225.9,928.0 L225.4,922.6 L225.0,917.2 L224.6,911.8 L224.2,906.4 L223.8,901.0 L223.3,895.6 L222.9,890.2 L222.7,884.8 L222.4,879.4 L222.2,874.0 L222.0,868.6 L221.7,863.2 L221.5,857.8 L221.3,852.4 L221.1,847.0 L220.9,841.6 L220.9,836.2 L220.8,830.8 L220.8,825.4 L220.8,820.0Z" fill="#dedee0"/><path d="M219.5,820.0 L219.5,825.4 L219.5,830.8 L219.6,836.2 L219.6,841.6 L219.8,847.0 L220.0,852.4 L220.2,857.8 L220.4,863.2 L220.7,868.6 L220.9,874.0 L221.1,879.4 L221.4,884.8 L221.6,890.2 L222.0,895.6 L222.5,901.0 L222.9,906.4 L223.3,911.8 L223.7,917.2 L224.1,922.6 L224.6,928.0 L224.9,933.4 L225.3,938.8 L225.6,944.2 L226.0,949.6 L226.3,955.0 L226.5,960.4 L226.7,965.8 L226.9,971.2 L227.0,976.6 L227.2,982.0 L229.1,982.0 L228.9,976.6 L228.8,971.2 L228.6,965.8 L228.4,960.4 L228.2,955.0 L227.9,949.6 L227.5,944.2 L227.2,938.8 L226.8,933.4 L226.5,928.0 L226.0,922.6 L225.6,917.2 L225.2,911.8 L224.8,906.4 L224.4,901.0 L223.9,895.6 L223.5,890.2 L223.3,884.8 L223.0,879.4 L222.8,874.0 L222.6,868.6 L222.3,863.2 L222.1,857.8 L221.9,852.4 L221.7,847.0 L221.5,841.6 L221.5,836.2 L221.4,830.8 L221.4,825.4 L221.4,820.0Z" fill="#aaaaac"/><path d="M220.1,820.0 L220.1,825.4 L220.1,830.8 L220.2,836.2 L220.2,841.6 L220.4,847.0 L220.6,852.4 L220.8,857.8 L221.0,863.2 L221.3,868.6 L221.5,874.0 L221.7,879.4 L222.0,884.8 L222.2,890.2 L222.6,895.6 L223.1,901.0 L223.5,906.4 L223.9,911.8 L224.3,917.2 L224.7,922.6 L225.2,928.0 L225.5,933.4 L225.9,938.8 L226.2,944.2 L226.6,949.6 L226.9,955.0 L227.1,960.4 L227.3,965.8 L227.5,971.2 L227.6,976.6 L227.8,982.0 L229.7,982.0 L229.5,976.6 L229.4,971.2 L229.2,965.8 L229.0,960.4 L228.8,955.0 L228.5,949.6 L228.1,944.2 L227.8,938.8 L227.4,933.4 L227.1,928.0 L226.6,922.6 L226.2,917.2 L225.8,911.8 L225.4,906.4 L225.0,901.0 L224.5,895.6 L224.1,890.2 L223.9,884.8 L223.6,879.4 L223.4,874.0 L223.2,868.6 L222.9,863.2 L222.7,857.8 L222.5,852.4 L222.3,847.0 L222.1,841.6 L222.1,836.2 L222.0,830.8 L222.0,825.4 L222.0,820.0Z" fill="#74747a"/><path d="M220.7,820.0 L220.7,825.4 L220.7,830.8 L220.8,836.2 L220.8,841.6 L221.0,847.0 L221.2,852.4 L221.4,857.8 L221.6,863.2 L221.9,868.6 L222.1,874.0 L222.3,879.4 L222.6,884.8 L222.8,890.2 L223.2,895.6 L223.7,901.0 L224.1,906.4 L224.5,911.8 L224.9,917.2 L225.3,922.6 L225.8,928.0 L226.1,933.4 L226.5,938.8 L226.8,944.2 L227.2,949.6 L227.5,955.0 L227.7,960.4 L227.9,965.8 L228.1,971.2 L228.2,976.6 L228.4,982.0 L231.2,982.0 L231.1,976.6 L230.9,971.2 L230.8,965.8 L230.7,960.4 L230.5,955.0 L230.3,949.6 L230.0,944.2 L229.7,938.8 L229.4,933.4 L229.1,928.0 L228.8,922.6 L228.4,917.2 L228.1,911.8 L227.7,906.4 L227.4,901.0 L227.0,895.6 L226.7,890.2 L226.5,884.8 L226.3,879.4 L226.2,874.0 L226.0,868.6 L225.8,863.2 L225.6,857.8 L225.4,852.4 L225.2,847.0 L225.1,841.6 L225.1,836.2 L225.1,830.8 L225.1,825.4 L225.1,820.0Z" fill="#58585e"/><path d="M223.8,820.0 L223.8,825.4 L223.8,830.8 L223.8,836.2 L223.8,841.6 L223.9,847.0 L224.1,852.4 L224.3,857.8 L224.5,863.2 L224.7,868.6 L224.9,874.0 L225.0,879.4 L225.2,884.8 L225.4,890.2 L225.7,895.6 L226.1,901.0 L226.4,906.4 L226.8,911.8 L227.1,917.2 L227.5,922.6 L227.8,928.0 L228.1,933.4 L228.4,938.8 L228.7,944.2 L229.0,949.6 L229.2,955.0 L229.4,960.4 L229.5,965.8 L229.6,971.2 L229.8,976.6 L229.9,982.0 L232.7,982.0 L232.6,976.6 L232.5,971.2 L232.4,965.8 L232.3,960.4 L232.2,955.0 L232.1,949.6 L231.8,944.2 L231.6,938.8 L231.4,933.4 L231.2,928.0 L230.9,922.6 L230.6,917.2 L230.4,911.8 L230.1,906.4 L229.8,901.0 L229.5,895.6 L229.3,890.2 L229.1,884.8 L229.0,879.4 L228.9,874.0 L228.8,868.6 L228.6,863.2 L228.5,857.8 L228.4,852.4 L228.2,847.0 L228.1,841.6 L228.1,836.2 L228.1,830.8 L228.1,825.4 L228.1,820.0Z" fill="#54545a"/><path d="M226.8,820.0 L226.8,825.4 L226.8,830.8 L226.8,836.2 L226.8,841.6 L226.9,847.0 L227.1,852.4 L227.2,857.8 L227.3,863.2 L227.5,868.6 L227.6,874.0 L227.7,879.4 L227.8,884.8 L228.0,890.2 L228.2,895.6 L228.5,901.0 L228.8,906.4 L229.1,911.8 L229.3,917.2 L229.6,922.6 L229.9,928.0 L230.1,933.4 L230.3,938.8 L230.5,944.2 L230.8,949.6 L230.9,955.0 L231.0,960.4 L231.1,965.8 L231.2,971.2 L231.3,976.6 L231.4,982.0 L234.2,982.0 L234.2,976.6 L234.1,971.2 L234.1,965.8 L234.0,960.4 L234.0,955.0 L233.8,949.6 L233.7,944.2 L233.5,938.8 L233.4,933.4 L233.2,928.0 L233.0,922.6 L232.8,917.2 L232.6,911.8 L232.4,906.4 L232.2,901.0 L232.0,895.6 L231.8,890.2 L231.8,884.8 L231.7,879.4 L231.6,874.0 L231.6,868.6 L231.5,863.2 L231.4,857.8 L231.3,852.4 L231.2,847.0 L231.1,841.6 L231.2,836.2 L231.2,830.8 L231.2,825.4 L231.2,820.0Z" fill="#505056"/><path d="M229.9,820.0 L229.9,825.4 L229.9,830.8 L229.9,836.2 L229.8,841.6 L229.9,847.0 L230.0,852.4 L230.1,857.8 L230.2,863.2 L230.3,868.6 L230.3,874.0 L230.4,879.4 L230.5,884.8 L230.5,890.2 L230.7,895.6 L230.9,901.0 L231.1,906.4 L231.3,911.8 L231.5,917.2 L231.7,922.6 L231.9,928.0 L232.1,933.4 L232.2,938.8 L232.4,944.2 L232.5,949.6 L232.7,955.0 L232.7,960.4 L232.8,965.8 L232.8,971.2 L232.9,976.6 L232.9,982.0 L235.6,982.0 L235.6,976.6 L235.6,971.2 L235.6,965.8 L235.6,960.4 L235.5,955.0 L235.5,949.6 L235.4,944.2 L235.3,938.8 L235.2,933.4 L235.1,928.0 L235.0,922.6 L234.8,917.2 L234.7,911.8 L234.5,906.4 L234.4,901.0 L234.3,895.6 L234.1,890.2 L234.1,884.8 L234.1,879.4 L234.0,874.0 L234.0,868.6 L234.0,863.2 L233.9,857.8 L233.9,852.4 L233.8,847.0 L233.8,841.6 L233.8,836.2 L233.8,830.8 L233.9,825.4 L233.9,820.0Z" fill="#504f55"/><path d="M232.6,820.0 L232.6,825.4 L232.5,830.8 L232.5,836.2 L232.5,841.6 L232.5,847.0 L232.6,852.4 L232.6,857.8 L232.7,863.2 L232.7,868.6 L232.7,874.0 L232.8,879.4 L232.8,884.8 L232.8,890.2 L233.0,895.6 L233.1,901.0 L233.2,906.4 L233.4,911.8 L233.5,917.2 L233.7,922.6 L233.8,928.0 L233.9,933.4 L234.0,938.8 L234.1,944.2 L234.2,949.6 L234.2,955.0 L234.3,960.4 L234.3,965.8 L234.3,971.2 L234.3,976.6 L234.3,982.0 L237.0,982.0 L237.0,976.6 L237.1,971.2 L237.1,965.8 L237.1,960.4 L237.1,955.0 L237.1,949.6 L237.1,944.2 L237.0,938.8 L237.0,933.4 L237.0,928.0 L236.9,922.6 L236.8,917.2 L236.7,911.8 L236.6,906.4 L236.6,901.0 L236.5,895.6 L236.4,890.2 L236.4,884.8 L236.4,879.4 L236.4,874.0 L236.4,868.6 L236.5,863.2 L236.5,857.8 L236.5,852.4 L236.4,847.0 L236.4,841.6 L236.4,836.2 L236.5,830.8 L236.5,825.4 L236.5,820.0Z" fill="#545156"/><path d="M235.2,820.0 L235.2,825.4 L235.2,830.8 L235.1,836.2 L235.1,841.6 L235.1,847.0 L235.2,852.4 L235.2,857.8 L235.2,863.2 L235.1,868.6 L235.1,874.0 L235.1,879.4 L235.1,884.8 L235.1,890.2 L235.2,895.6 L235.3,901.0 L235.3,906.4 L235.4,911.8 L235.5,917.2 L235.6,922.6 L235.7,928.0 L235.7,933.4 L235.7,938.8 L235.8,944.2 L235.8,949.6 L235.8,955.0 L235.8,960.4 L235.8,965.8 L235.8,971.2 L235.7,976.6 L235.7,982.0 L238.4,982.0 L238.5,976.6 L238.5,971.2 L238.6,965.8 L238.6,960.4 L238.7,955.0 L238.7,949.6 L238.8,944.2 L238.8,938.8 L238.8,933.4 L238.8,928.0 L238.8,922.6 L238.8,917.2 L238.8,911.8 L238.7,906.4 L238.7,901.0 L238.7,895.6 L238.7,890.2 L238.7,884.8 L238.8,879.4 L238.8,874.0 L238.9,868.6 L238.9,863.2 L239.0,857.8 L239.0,852.4 L239.0,847.0 L239.0,841.6 L239.1,836.2 L239.2,830.8 L239.2,825.4 L239.2,820.0Z" fill="#585357"/><path d="M237.9,820.0 L237.9,825.4 L237.9,830.8 L237.8,836.2 L237.7,841.6 L237.7,847.0 L237.7,852.4 L237.7,857.8 L237.6,863.2 L237.6,868.6 L237.5,874.0 L237.5,879.4 L237.4,884.8 L237.4,890.2 L237.4,895.6 L237.4,901.0 L237.4,906.4 L237.5,911.8 L237.5,917.2 L237.5,922.6 L237.5,928.0 L237.5,933.4 L237.5,938.8 L237.5,944.2 L237.4,949.6 L237.4,955.0 L237.3,960.4 L237.3,965.8 L237.2,971.2 L237.2,976.6 L237.1,982.0 L240.2,982.0 L240.3,976.6 L240.4,971.2 L240.5,965.8 L240.6,960.4 L240.7,955.0 L240.8,949.6 L240.9,944.2 L241.0,938.8 L241.1,933.4 L241.1,928.0 L241.2,922.6 L241.3,917.2 L241.3,911.8 L241.4,906.4 L241.4,901.0 L241.5,895.6 L241.5,890.2 L241.6,884.8 L241.7,879.4 L241.8,874.0 L242.0,868.6 L242.1,863.2 L242.2,857.8 L242.3,852.4 L242.3,847.0 L242.3,841.6 L242.4,836.2 L242.5,830.8 L242.5,825.4 L242.5,820.0Z" fill="#5d585d"/><path d="M241.2,820.0 L241.2,825.4 L241.2,830.8 L241.1,836.2 L241.0,841.6 L241.0,847.0 L241.0,852.4 L240.9,857.8 L240.8,863.2 L240.7,868.6 L240.5,874.0 L240.4,879.4 L240.3,884.8 L240.2,890.2 L240.2,895.6 L240.1,901.0 L240.1,906.4 L240.0,911.8 L240.0,917.2 L239.9,922.6 L239.8,928.0 L239.8,933.4 L239.7,938.8 L239.6,944.2 L239.5,949.6 L239.4,955.0 L239.3,960.4 L239.2,965.8 L239.1,971.2 L239.0,976.6 L238.9,982.0 L242.0,982.0 L242.1,976.6 L242.2,971.2 L242.4,965.8 L242.5,960.4 L242.7,955.0 L242.8,949.6 L243.0,944.2 L243.1,938.8 L243.3,933.4 L243.5,928.0 L243.6,922.6 L243.7,917.2 L243.9,911.8 L244.0,906.4 L244.1,901.0 L244.2,895.6 L244.4,890.2 L244.5,884.8 L244.7,879.4 L244.9,874.0 L245.0,868.6 L245.2,863.2 L245.3,857.8 L245.5,852.4 L245.5,847.0 L245.6,841.6 L245.7,836.2 L245.8,830.8 L245.9,825.4 L245.9,820.0Z" fill="#646166"/><path d="M244.6,820.0 L244.6,825.4 L244.5,830.8 L244.4,836.2 L244.3,841.6 L244.2,847.0 L244.2,852.4 L244.0,857.8 L243.9,863.2 L243.7,868.6 L243.6,874.0 L243.4,879.4 L243.2,884.8 L243.1,890.2 L242.9,895.6 L242.8,901.0 L242.7,906.4 L242.6,911.8 L242.4,917.2 L242.3,922.6 L242.2,928.0 L242.0,933.4 L241.8,938.8 L241.7,944.2 L241.5,949.6 L241.4,955.0 L241.2,960.4 L241.1,965.8 L240.9,971.2 L240.8,976.6 L240.7,982.0 L243.7,982.0 L243.9,976.6 L244.1,971.2 L244.3,965.8 L244.4,960.4 L244.6,955.0 L244.9,949.6 L245.1,944.2 L245.3,938.8 L245.6,933.4 L245.8,928.0 L246.0,922.6 L246.2,917.2 L246.4,911.8 L246.6,906.4 L246.8,901.0 L247.0,895.6 L247.2,890.2 L247.4,884.8 L247.7,879.4 L247.9,874.0 L248.1,868.6 L248.3,863.2 L248.5,857.8 L248.7,852.4 L248.8,847.0 L248.9,841.6 L249.0,836.2 L249.1,830.8 L249.2,825.4 L249.2,820.0Z" fill="#6b6a6f"/><path d="M247.9,820.0 L247.9,825.4 L247.8,830.8 L247.7,836.2 L247.6,841.6 L247.5,847.0 L247.4,852.4 L247.2,857.8 L247.0,863.2 L246.8,868.6 L246.6,874.0 L246.4,879.4 L246.1,884.8 L245.9,890.2 L245.7,895.6 L245.5,901.0 L245.3,906.4 L245.1,911.8 L244.9,917.2 L244.7,922.6 L244.5,928.0 L244.3,933.4 L244.0,938.8 L243.8,944.2 L243.6,949.6 L243.3,955.0 L243.1,960.4 L243.0,965.8 L242.8,971.2 L242.6,976.6 L242.4,982.0 L245.4,982.0 L245.6,976.6 L245.8,971.2 L246.0,965.8 L246.3,960.4 L246.5,955.0 L246.8,949.6 L247.1,944.2 L247.4,938.8 L247.8,933.4 L248.1,928.0 L248.4,922.6 L248.7,917.2 L249.0,911.8 L249.3,906.4 L249.5,901.0 L249.8,895.6 L250.1,890.2 L250.4,884.8 L250.7,879.4 L251.0,874.0 L251.2,868.6 L251.5,863.2 L251.8,857.8 L252.1,852.4 L252.2,847.0 L252.3,841.6 L252.5,836.2 L252.6,830.8 L252.7,825.4 L252.7,820.0Z" fill="#6f6f75"/><path d="M251.4,820.0 L251.4,825.4 L251.3,830.8 L251.2,836.2 L251.0,841.6 L250.9,847.0 L250.8,852.4 L250.5,857.8 L250.2,863.2 L249.9,868.6 L249.7,874.0 L249.4,879.4 L249.1,884.8 L248.8,890.2 L248.5,895.6 L248.2,901.0 L248.0,906.4 L247.7,911.8 L247.4,917.2 L247.1,922.6 L246.8,928.0 L246.5,933.4 L246.1,938.8 L245.8,944.2 L245.5,949.6 L245.2,955.0 L245.0,960.4 L244.7,965.8 L244.5,971.2 L244.3,976.6 L244.1,982.0 L247.0,982.0 L247.3,976.6 L247.5,971.2 L247.8,965.8 L248.1,960.4 L248.4,955.0 L248.8,949.6 L249.2,944.2 L249.6,938.8 L250.0,933.4 L250.4,928.0 L250.8,922.6 L251.2,917.2 L251.5,911.8 L251.9,906.4 L252.3,901.0 L252.7,895.6 L253.0,890.2 L253.4,884.8 L253.7,879.4 L254.1,874.0 L254.4,868.6 L254.7,863.2 L255.1,857.8 L255.4,852.4 L255.6,847.0 L255.7,841.6 L255.9,836.2 L256.1,830.8 L256.2,825.4 L256.2,820.0Z" fill="#727278"/><path d="M254.9,820.0 L254.9,825.4 L254.8,830.8 L254.6,836.2 L254.4,841.6 L254.3,847.0 L254.1,852.4 L253.8,857.8 L253.4,863.2 L253.1,868.6 L252.8,874.0 L252.4,879.4 L252.1,884.8 L251.7,890.2 L251.4,895.6 L251.0,901.0 L250.6,906.4 L250.2,911.8 L249.9,917.2 L249.5,922.6 L249.1,928.0 L248.7,933.4 L248.3,938.8 L247.9,944.2 L247.5,949.6 L247.1,955.0 L246.8,960.4 L246.5,965.8 L246.2,971.2 L246.0,976.6 L245.7,982.0 L248.6,982.0 L248.9,976.6 L249.3,971.2 L249.6,965.8 L249.9,960.4 L250.2,955.0 L250.7,949.6 L251.2,944.2 L251.7,938.8 L252.2,933.4 L252.7,928.0 L253.2,922.6 L253.6,917.2 L254.1,911.8 L254.6,906.4 L255.0,901.0 L255.5,895.6 L255.9,890.2 L256.4,884.8 L256.8,879.4 L257.2,874.0 L257.6,868.6 L258.0,863.2 L258.4,857.8 L258.8,852.4 L259.0,847.0 L259.2,841.6 L259.4,836.2 L259.6,830.8 L259.7,825.4 L259.7,820.0Z" fill="#75757b"/><path d="M258.4,820.0 L258.4,825.4 L258.3,830.8 L258.1,836.2 L257.9,841.6 L257.7,847.0 L257.5,852.4 L257.1,857.8 L256.7,863.2 L256.3,868.6 L255.9,874.0 L255.5,879.4 L255.1,884.8 L254.6,890.2 L254.2,895.6 L253.7,901.0 L253.3,906.4 L252.8,911.8 L252.3,917.2 L251.9,922.6 L251.4,928.0 L250.9,933.4 L250.4,938.8 L249.9,944.2 L249.4,949.6 L248.9,955.0 L248.6,960.4 L248.3,965.8 L248.0,971.2 L247.6,976.6 L247.3,982.0 L249.3,982.0 L249.6,976.6 L249.9,971.2 L250.3,965.8 L250.6,960.4 L250.9,955.0 L251.4,949.6 L251.9,944.2 L252.4,938.8 L252.8,933.4 L253.3,928.0 L253.8,922.6 L254.3,917.2 L254.8,911.8 L255.2,906.4 L255.7,901.0 L256.1,895.6 L256.6,890.2 L257.1,884.8 L257.5,879.4 L257.8,874.0 L258.2,868.6 L258.6,863.2 L259.0,857.8 L259.4,852.4 L259.7,847.0 L259.9,841.6 L260.1,836.2 L260.3,830.8 L260.4,825.4 L260.4,820.0Z" fill="#86868b"/><path d="M259.1,820.0 L259.1,825.4 L259.0,830.8 L258.8,836.2 L258.6,841.6 L258.4,847.0 L258.1,852.4 L257.7,857.8 L257.3,863.2 L256.9,868.6 L256.5,874.0 L256.2,879.4 L255.8,884.8 L255.3,890.2 L254.8,895.6 L254.4,901.0 L253.9,906.4 L253.5,911.8 L253.0,917.2 L252.5,922.6 L252.0,928.0 L251.5,933.4 L251.1,938.8 L250.6,944.2 L250.1,949.6 L249.6,955.0 L249.3,960.4 L249.0,965.8 L248.6,971.2 L248.3,976.6 L248.0,982.0 L249.9,982.0 L250.3,976.6 L250.6,971.2 L250.9,965.8 L251.2,960.4 L251.6,955.0 L252.0,949.6 L252.5,944.2 L253.0,938.8 L253.5,933.4 L254.0,928.0 L254.5,922.6 L255.0,917.2 L255.4,911.8 L255.9,906.4 L256.4,901.0 L256.8,895.6 L257.3,890.2 L257.7,884.8 L258.1,879.4 L258.5,874.0 L258.9,868.6 L259.3,863.2 L259.7,857.8 L260.1,852.4 L260.3,847.0 L260.5,841.6 L260.7,836.2 L260.9,830.8 L261.0,825.4 L261.0,820.0Z" fill="#a5a5a9"/><path d="M259.7,820.0 L259.7,825.4 L259.6,830.8 L259.4,836.2 L259.2,841.6 L259.0,847.0 L258.8,852.4 L258.4,857.8 L258.0,863.2 L257.6,868.6 L257.2,874.0 L256.8,879.4 L256.4,884.8 L256.0,890.2 L255.5,895.6 L255.1,901.0 L254.6,906.4 L254.1,911.8 L253.7,917.2 L253.2,922.6 L252.7,928.0 L252.2,933.4 L251.7,938.8 L251.2,944.2 L250.7,949.6 L250.3,955.0 L249.9,960.4 L249.6,965.8 L249.3,971.2 L249.0,976.6 L248.6,982.0 L250.6,982.0 L250.9,976.6 L251.3,971.2 L251.6,965.8 L251.9,960.4 L252.2,955.0 L252.7,949.6 L253.2,944.2 L253.7,938.8 L254.2,933.4 L254.7,928.0 L255.2,922.6 L255.6,917.2 L256.1,911.8 L256.6,906.4 L257.0,901.0 L257.5,895.6 L257.9,890.2 L258.4,884.8 L258.8,879.4 L259.2,874.0 L259.6,868.6 L260.0,863.2 L260.4,857.8 L260.8,852.4 L261.0,847.0 L261.2,841.6 L261.4,836.2 L261.6,830.8 L261.7,825.4 L261.7,820.0Z" fill="#c4c4c7"/><path d="M260.4,820.0 L260.4,825.4 L260.3,830.8 L260.1,836.2 L259.9,841.6 L259.7,847.0 L259.5,852.4 L259.1,857.8 L258.7,863.2 L258.3,868.6 L257.9,874.0 L257.5,879.4 L257.1,884.8 L256.6,890.2 L256.2,895.6 L255.7,901.0 L255.3,906.4 L254.8,911.8 L254.3,917.2 L253.9,922.6 L253.4,928.0 L252.9,933.4 L252.4,938.8 L251.9,944.2 L251.4,949.6 L250.9,955.0 L250.6,960.4 L250.3,965.8 L250.0,971.2 L249.6,976.6 L249.3,982.0 L251.1,982.0 L251.4,976.6 L251.8,971.2 L252.1,965.8 L252.4,960.4 L252.7,955.0 L253.2,949.6 L253.7,944.2 L254.2,938.8 L254.7,933.4 L255.2,928.0 L255.7,922.6 L256.1,917.2 L256.6,911.8 L257.1,906.4 L257.5,901.0 L258.0,895.6 L258.4,890.2 L258.9,884.8 L259.3,879.4 L259.7,874.0 L260.1,868.6 L260.5,863.2 L260.9,857.8 L261.3,852.4 L261.5,847.0 L261.7,841.6 L261.9,836.2 L262.1,830.8 L262.2,825.4 L262.2,820.0Z" fill="#dadadc"/><path d="M260.9,820.0 L260.9,825.4 L260.8,830.8 L260.6,836.2 L260.4,841.6 L260.2,847.0 L260.0,852.4 L259.6,857.8 L259.2,863.2 L258.8,868.6 L258.4,874.0 L258.0,879.4 L257.6,884.8 L257.1,890.2 L256.7,895.6 L256.2,901.0 L255.8,906.4 L255.3,911.8 L254.8,917.2 L254.4,922.6 L253.9,928.0 L253.4,933.4 L252.9,938.8 L252.4,944.2 L251.9,949.6 L251.4,955.0 L251.1,960.4 L250.8,965.8 L250.5,971.2 L250.1,976.6 L249.8,982.0 L251.6,982.0 L251.9,976.6 L252.3,971.2 L252.6,965.8 L252.9,960.4 L253.2,955.0 L253.7,949.6 L254.2,944.2 L254.7,938.8 L255.2,933.4 L255.7,928.0 L256.2,922.6 L256.6,917.2 L257.1,911.8 L257.6,906.4 L258.0,901.0 L258.5,895.6 L258.9,890.2 L259.4,884.8 L259.8,879.4 L260.2,874.0 L260.6,868.6 L261.0,863.2 L261.4,857.8 L261.8,852.4 L262.0,847.0 L262.2,841.6 L262.4,836.2 L262.6,830.8 L262.7,825.4 L262.7,820.0Z" fill="#e6e6e8"/><path d="M261.4,820.0 L261.4,825.4 L261.3,830.8 L261.1,836.2 L260.9,841.6 L260.7,847.0 L260.5,852.4 L260.1,857.8 L259.7,863.2 L259.3,868.6 L258.9,874.0 L258.5,879.4 L258.1,884.8 L257.6,890.2 L257.2,895.6 L256.7,901.0 L256.3,906.4 L255.8,911.8 L255.3,917.2 L254.9,922.6 L254.4,928.0 L253.9,933.4 L253.4,938.8 L252.9,944.2 L252.4,949.6 L251.9,955.0 L251.6,960.4 L251.3,965.8 L251.0,971.2 L250.6,976.6 L250.3,982.0 L252.1,982.0 L252.4,976.6 L252.8,971.2 L253.1,965.8 L253.4,960.4 L253.7,955.0 L254.2,949.6 L254.7,944.2 L255.2,938.8 L255.7,933.4 L256.2,928.0 L256.7,922.6 L257.1,917.2 L257.6,911.8 L258.1,906.4 L258.5,901.0 L259.0,895.6 L259.4,890.2 L259.9,884.8 L260.3,879.4 L260.7,874.0 L261.1,868.6 L261.5,863.2 L261.9,857.8 L262.3,852.4 L262.5,847.0 L262.7,841.6 L262.9,836.2 L263.1,830.8 L263.2,825.4 L263.2,820.0Z" fill="#f3f3f3"/><path d="M261.9,820.0 L261.9,825.4 L261.8,830.8 L261.6,836.2 L261.4,841.6 L261.2,847.0 L261.0,852.4 L260.6,857.8 L260.2,863.2 L259.8,868.6 L259.4,874.0 L259.0,879.4 L258.6,884.8 L258.1,890.2 L257.7,895.6 L257.2,901.0 L256.8,906.4 L256.3,911.8 L255.8,917.2 L255.4,922.6 L254.9,928.0 L254.4,933.4 L253.9,938.8 L253.4,944.2 L252.9,949.6 L252.4,955.0 L252.1,960.4 L251.8,965.8 L251.5,971.2 L251.1,976.6 L250.8,982.0 L259.5,982.0 L259.9,976.6 L260.4,971.2 L261.0,965.8 L261.6,960.4 L262.1,955.0 L262.8,949.6 L263.4,944.2 L264.0,938.8 L264.7,933.4 L265.3,928.0 L266.0,922.6 L266.5,917.2 L266.9,911.8 L267.3,906.4 L267.8,901.0 L268.2,895.6 L268.6,890.2 L269.1,884.8 L269.5,879.4 L269.9,874.0 L270.3,868.6 L270.7,863.2 L271.1,857.8 L271.5,852.4 L271.8,847.0 L272.1,841.6 L272.3,836.2 L272.6,830.8 L272.7,825.4 L272.7,820.0Z" fill="#f9f9f9"/><path d="M271.4,820.0 L271.4,825.4 L271.3,830.8 L271.0,836.2 L270.8,841.6 L270.5,847.0 L270.2,852.4 L269.8,857.8 L269.4,863.2 L269.0,868.6 L268.6,874.0 L268.2,879.4 L267.8,884.8 L267.3,890.2 L266.9,895.6 L266.5,901.0 L266.0,906.4 L265.6,911.8 L265.2,917.2 L264.7,922.6 L264.0,928.0 L263.4,933.4 L262.7,938.8 L262.1,944.2 L261.5,949.6 L260.8,955.0 L260.3,960.4 L259.7,965.8 L259.1,971.2 L258.6,976.6 L258.2,982.0 L266.9,982.0 L267.3,976.6 L268.1,971.2 L268.9,965.8 L269.7,960.4 L270.5,955.0 L271.3,949.6 L272.1,944.2 L272.9,938.8 L273.7,933.4 L274.5,928.0 L275.3,922.6 L275.8,917.2 L276.2,911.8 L276.6,906.4 L277.0,901.0 L277.4,895.6 L277.8,890.2 L278.2,884.8 L278.7,879.4 L279.1,874.0 L279.5,868.6 L279.9,863.2 L280.4,857.8 L280.8,852.4 L281.1,847.0 L281.4,841.6 L281.7,836.2 L282.0,830.8 L282.3,825.4 L282.3,820.0Z" fill="#fafafa"/><path d="M281.0,820.0 L281.0,825.4 L280.7,830.8 L280.4,836.2 L280.1,841.6 L279.8,847.0 L279.5,852.4 L279.1,857.8 L278.6,863.2 L278.2,868.6 L277.8,874.0 L277.4,879.4 L276.9,884.8 L276.5,890.2 L276.1,895.6 L275.7,901.0 L275.3,906.4 L274.9,911.8 L274.5,917.2 L274.0,922.6 L273.2,928.0 L272.4,933.4 L271.6,938.8 L270.8,944.2 L270.0,949.6 L269.2,955.0 L268.4,960.4 L267.6,965.8 L266.8,971.2 L266.0,976.6 L265.6,982.0 L274.3,982.0 L274.8,976.6 L275.7,971.2 L276.8,965.8 L277.8,960.4 L278.9,955.0 L279.9,949.6 L280.8,944.2 L281.7,938.8 L282.7,933.4 L283.6,928.0 L284.5,922.6 L285.2,917.2 L285.6,911.8 L285.9,906.4 L286.3,901.0 L286.7,895.6 L287.0,890.2 L287.4,884.8 L287.8,879.4 L288.3,874.0 L288.7,868.6 L289.2,863.2 L289.6,857.8 L290.1,852.4 L290.4,847.0 L290.8,841.6 L291.2,836.2 L291.5,830.8 L291.8,825.4 L291.8,820.0Z" fill="#fafafa"/><path d="M290.5,820.0 L290.5,825.4 L290.2,830.8 L289.9,836.2 L289.5,841.6 L289.1,847.0 L288.8,852.4 L288.3,857.8 L287.9,863.2 L287.4,868.6 L287.0,874.0 L286.5,879.4 L286.1,884.8 L285.7,890.2 L285.4,895.6 L285.0,901.0 L284.6,906.4 L284.3,911.8 L283.9,917.2 L283.2,922.6 L282.3,928.0 L281.4,933.4 L280.4,938.8 L279.5,944.2 L278.6,949.6 L277.6,955.0 L276.5,960.4 L275.5,965.8 L274.4,971.2 L273.4,976.6 L273.0,982.0 L275.0,982.0 L275.4,976.6 L276.4,971.2 L277.5,965.8 L278.5,960.4 L279.6,955.0 L280.5,949.6 L281.5,944.2 L282.4,938.8 L283.3,933.4 L284.3,928.0 L285.2,922.6 L285.9,917.2 L286.2,911.8 L286.6,906.4 L287.0,901.0 L287.3,895.6 L287.7,890.2 L288.1,884.8 L288.5,879.4 L289.0,874.0 L289.4,868.6 L289.8,863.2 L290.3,857.8 L290.7,852.4 L291.1,847.0 L291.5,841.6 L291.8,836.2 L292.2,830.8 L292.5,825.4 L292.5,820.0Z" fill="#eeeeee"/><path d="M291.2,820.0 L291.2,825.4 L290.9,830.8 L290.5,836.2 L290.2,841.6 L289.8,847.0 L289.4,852.4 L289.0,857.8 L288.5,863.2 L288.1,868.6 L287.7,874.0 L287.2,879.4 L286.8,884.8 L286.4,890.2 L286.0,895.6 L285.7,901.0 L285.3,906.4 L284.9,911.8 L284.6,917.2 L283.9,922.6 L283.0,928.0 L282.0,933.4 L281.1,938.8 L280.2,944.2 L279.2,949.6 L278.3,955.0 L277.2,960.4 L276.2,965.8 L275.1,971.2 L274.1,976.6 L273.7,982.0 L275.6,982.0 L276.1,976.6 L277.1,971.2 L278.1,965.8 L279.2,960.4 L280.2,955.0 L281.2,949.6 L282.1,944.2 L283.1,938.8 L284.0,933.4 L284.9,928.0 L285.9,922.6 L286.5,917.2 L286.9,911.8 L287.3,906.4 L287.6,901.0 L288.0,895.6 L288.3,890.2 L288.7,884.8 L289.2,879.4 L289.6,874.0 L290.1,868.6 L290.5,863.2 L291.0,857.8 L291.4,852.4 L291.8,847.0 L292.1,841.6 L292.5,836.2 L292.8,830.8 L293.1,825.4 L293.1,820.0Z" fill="#d5d5d7"/><path d="M291.8,820.0 L291.8,825.4 L291.5,830.8 L291.2,836.2 L290.8,841.6 L290.5,847.0 L290.1,852.4 L289.7,857.8 L289.2,863.2 L288.8,868.6 L288.3,874.0 L287.9,879.4 L287.4,884.8 L287.0,890.2 L286.7,895.6 L286.3,901.0 L286.0,906.4 L285.6,911.8 L285.2,917.2 L284.6,922.6 L283.6,928.0 L282.7,933.4 L281.8,938.8 L280.8,944.2 L279.9,949.6 L278.9,955.0 L277.9,960.4 L276.8,965.8 L275.8,971.2 L274.8,976.6 L274.3,982.0 L276.3,982.0 L276.8,976.6 L277.7,971.2 L278.8,965.8 L279.8,960.4 L280.9,955.0 L281.9,949.6 L282.8,944.2 L283.7,938.8 L284.7,933.4 L285.6,928.0 L286.5,922.6 L287.2,917.2 L287.6,911.8 L287.9,906.4 L288.3,901.0 L288.7,895.6 L289.0,890.2 L289.4,884.8 L289.8,879.4 L290.3,874.0 L290.7,868.6 L291.2,863.2 L291.6,857.8 L292.1,852.4 L292.4,847.0 L292.8,841.6 L293.2,836.2 L293.5,830.8 L293.8,825.4 L293.8,820.0Z" fill="#bcbcc0"/><path d="M292.5,820.0 L292.5,825.4 L292.2,830.8 L291.9,836.2 L291.5,841.6 L291.1,847.0 L290.8,852.4 L290.3,857.8 L289.9,863.2 L289.4,868.6 L289.0,874.0 L288.5,879.4 L288.1,884.8 L287.7,890.2 L287.4,895.6 L287.0,901.0 L286.6,906.4 L286.3,911.8 L285.9,917.2 L285.2,922.6 L284.3,928.0 L283.4,933.4 L282.4,938.8 L281.5,944.2 L280.6,949.6 L279.6,955.0 L278.5,960.4 L277.5,965.8 L276.4,971.2 L275.4,976.6 L275.0,982.0 L277.0,982.0 L277.4,976.6 L278.4,971.2 L279.5,965.8 L280.5,960.4 L281.6,955.0 L282.5,949.6 L283.5,944.2 L284.4,938.8 L285.3,933.4 L286.3,928.0 L287.2,922.6 L287.9,917.2 L288.2,911.8 L288.6,906.4 L289.0,901.0 L289.3,895.6 L289.7,890.2 L290.1,884.8 L290.5,879.4 L291.0,874.0 L291.4,868.6 L291.8,863.2 L292.3,857.8 L292.7,852.4 L293.1,847.0 L293.5,841.6 L293.8,836.2 L294.2,830.8 L294.5,825.4 L294.5,820.0Z" fill="#aaaaae"/><path d="M293.2,820.0 L293.2,825.4 L292.9,830.8 L292.5,836.2 L292.2,841.6 L291.8,847.0 L291.4,852.4 L291.0,857.8 L290.5,863.2 L290.1,868.6 L289.7,874.0 L289.2,879.4 L288.8,884.8 L288.4,890.2 L288.0,895.6 L287.7,901.0 L287.3,906.4 L286.9,911.8 L286.6,917.2 L285.9,922.6 L285.0,928.0 L284.0,933.4 L283.1,938.8 L282.2,944.2 L281.2,949.6 L280.3,955.0 L279.2,960.4 L278.2,965.8 L277.1,971.2 L276.1,976.6 L275.7,982.0 L277.6,982.0 L278.1,976.6 L279.1,971.2 L280.1,965.8 L281.2,960.4 L282.2,955.0 L283.2,949.6 L284.1,944.2 L285.1,938.8 L286.0,933.4 L286.9,928.0 L287.9,922.6 L288.5,917.2 L288.9,911.8 L289.3,906.4 L289.6,901.0 L290.0,895.6 L290.3,890.2 L290.7,884.8 L291.2,879.4 L291.6,874.0 L292.1,868.6 L292.5,863.2 L293.0,857.8 L293.4,852.4 L293.8,847.0 L294.1,841.6 L294.5,836.2 L294.8,830.8 L295.1,825.4 L295.1,820.0Z" fill="#9d9da2"/><path d="M293.8,820.0 L293.8,825.4 L293.5,830.8 L293.2,836.2 L292.8,841.6 L292.5,847.0 L292.1,852.4 L291.7,857.8 L291.2,863.2 L290.8,868.6 L290.3,874.0 L289.9,879.4 L289.4,884.8 L289.0,890.2 L288.7,895.6 L288.3,901.0 L288.0,906.4 L287.6,911.8 L287.2,917.2 L286.6,922.6 L285.6,928.0 L284.7,933.4 L283.8,938.8 L282.8,944.2 L281.9,949.6 L280.9,955.0 L279.9,960.4 L278.8,965.8 L277.8,971.2 L276.8,976.6 L276.3,982.0 L278.3,982.0 L278.8,976.6 L279.7,971.2 L280.8,965.8 L281.8,960.4 L282.9,955.0 L283.9,949.6 L284.8,944.2 L285.7,938.8 L286.7,933.4 L287.6,928.0 L288.5,922.6 L289.2,917.2 L289.6,911.8 L289.9,906.4 L290.3,901.0 L290.7,895.6 L291.0,890.2 L291.4,884.8 L291.8,879.4 L292.3,874.0 L292.7,868.6 L293.2,863.2 L293.6,857.8 L294.1,852.4 L294.4,847.0 L294.8,841.6 L295.2,836.2 L295.5,830.8 L295.8,825.4 L295.8,820.0Z" fill="#909096"/><path d="M294.5,820.0 L294.5,825.4 L294.2,830.8 L293.9,836.2 L293.5,841.6 L293.1,847.0 L292.8,852.4 L292.3,857.8 L291.9,863.2 L291.4,868.6 L291.0,874.0 L290.5,879.4 L290.1,884.8 L289.7,890.2 L289.4,895.6 L289.0,901.0 L288.6,906.4 L288.3,911.8 L287.9,917.2 L287.2,922.6 L286.3,928.0 L285.4,933.4 L284.4,938.8 L283.5,944.2 L282.6,949.6 L281.6,955.0 L280.5,960.4 L279.5,965.8 L278.4,971.2 L277.4,976.6 L277.0,982.0 L281.3,982.0 L281.8,976.6 L283.0,971.2 L284.3,965.8 L285.5,960.4 L286.8,955.0 L287.8,949.6 L288.7,944.2 L289.7,938.8 L290.6,933.4 L291.6,928.0 L292.5,922.6 L293.2,917.2 L293.7,911.8 L294.1,906.4 L294.6,901.0 L295.1,895.6 L295.5,890.2 L296.0,884.8 L296.4,879.4 L296.9,874.0 L297.3,868.6 L297.7,863.2 L298.2,857.8 L298.6,852.4 L299.0,847.0 L299.3,841.6 L299.7,836.2 L300.0,830.8 L300.3,825.4 L300.3,820.0Z" fill="#8c8c92"/><path d="M299.0,820.0 L299.0,825.4 L298.7,830.8 L298.4,836.2 L298.0,841.6 L297.7,847.0 L297.3,852.4 L296.9,857.8 L296.4,863.2 L296.0,868.6 L295.6,874.0 L295.1,879.4 L294.7,884.8 L294.2,890.2 L293.8,895.6 L293.3,901.0 L292.8,906.4 L292.4,911.8 L291.9,917.2 L291.2,922.6 L290.3,928.0 L289.3,933.4 L288.4,938.8 L287.4,944.2 L286.5,949.6 L285.5,955.0 L284.2,960.4 L283.0,965.8 L281.7,971.2 L280.5,976.6 L280.0,982.0 L284.3,982.0 L284.9,976.6 L286.3,971.2 L287.8,965.8 L289.2,960.4 L290.7,955.0 L291.7,949.6 L292.7,944.2 L293.6,938.8 L294.6,933.4 L295.5,928.0 L296.5,922.6 L297.2,917.2 L297.8,911.8 L298.4,906.4 L298.9,901.0 L299.5,895.6 L300.1,890.2 L300.6,884.8 L301.0,879.4 L301.4,874.0 L301.9,868.6 L302.3,863.2 L302.7,857.8 L303.1,852.4 L303.5,847.0 L303.8,841.6 L304.2,836.2 L304.5,830.8 L304.8,825.4 L304.8,820.0Z" fill="#909096"/><path d="M303.5,820.0 L303.5,825.4 L303.2,830.8 L302.9,836.2 L302.5,841.6 L302.2,847.0 L301.8,852.4 L301.4,857.8 L301.0,863.2 L300.6,868.6 L300.1,874.0 L299.7,879.4 L299.3,884.8 L298.8,890.2 L298.2,895.6 L297.6,901.0 L297.1,906.4 L296.5,911.8 L295.9,917.2 L295.2,922.6 L294.2,928.0 L293.3,933.4 L292.3,938.8 L291.4,944.2 L290.4,949.6 L289.4,955.0 L287.9,960.4 L286.5,965.8 L285.0,971.2 L283.6,976.6 L283.0,982.0 L287.3,982.0 L288.0,976.6 L289.6,971.2 L291.3,965.8 L292.9,960.4 L294.6,955.0 L295.7,949.6 L296.6,944.2 L297.6,938.8 L298.5,933.4 L299.5,928.0 L300.4,922.6 L301.2,917.2 L301.9,911.8 L302.6,906.4 L303.2,901.0 L303.9,895.6 L304.6,890.2 L305.2,884.8 L305.6,879.4 L306.0,874.0 L306.4,868.6 L306.8,863.2 L307.3,857.8 L307.7,852.4 L308.0,847.0 L308.4,841.6 L308.7,836.2 L309.0,830.8 L309.3,825.4 L309.3,820.0Z" fill="#94949a"/><path d="M308.0,820.0 L308.0,825.4 L307.7,830.8 L307.4,836.2 L307.1,841.6 L306.7,847.0 L306.4,852.4 L306.0,857.8 L305.5,863.2 L305.1,868.6 L304.7,874.0 L304.3,879.4 L303.9,884.8 L303.3,890.2 L302.6,895.6 L301.9,901.0 L301.3,906.4 L300.6,911.8 L299.9,917.2 L299.1,922.6 L298.2,928.0 L297.2,933.4 L296.3,938.8 L295.3,944.2 L294.4,949.6 L293.3,955.0 L291.6,960.4 L290.0,965.8 L288.3,971.2 L286.7,976.6 L286.0,982.0 L287.9,982.0 L288.6,976.6 L290.2,971.2 L291.9,965.8 L293.5,960.4 L295.2,955.0 L296.3,949.6 L297.2,944.2 L298.2,938.8 L299.1,933.4 L300.1,928.0 L301.0,922.6 L301.8,917.2 L302.5,911.8 L303.2,906.4 L303.8,901.0 L304.5,895.6 L305.2,890.2 L305.8,884.8 L306.2,879.4 L306.6,874.0 L307.0,868.6 L307.4,863.2 L307.9,857.8 L308.3,852.4 L308.6,847.0 L309.0,841.6 L309.3,836.2 L309.6,830.8 L309.9,825.4 L309.9,820.0Z" fill="#99999f"/><path d="M308.6,820.0 L308.6,825.4 L308.3,830.8 L308.0,836.2 L307.7,841.6 L307.3,847.0 L307.0,852.4 L306.6,857.8 L306.1,863.2 L305.7,868.6 L305.3,874.0 L304.9,879.4 L304.5,884.8 L303.9,890.2 L303.2,895.6 L302.5,901.0 L301.9,906.4 L301.2,911.8 L300.5,917.2 L299.7,922.6 L298.8,928.0 L297.8,933.4 L296.9,938.8 L295.9,944.2 L295.0,949.6 L293.9,955.0 L292.2,960.4 L290.6,965.8 L288.9,971.2 L287.3,976.6 L286.6,982.0 L288.5,982.0 L289.2,976.6 L290.8,971.2 L292.5,965.8 L294.1,960.4 L295.8,955.0 L296.9,949.6 L297.8,944.2 L298.8,938.8 L299.7,933.4 L300.7,928.0 L301.6,922.6 L302.4,917.2 L303.1,911.8 L303.8,906.4 L304.4,901.0 L305.1,895.6 L305.8,890.2 L306.4,884.8 L306.8,879.4 L307.2,874.0 L307.6,868.6 L308.0,863.2 L308.5,857.8 L308.9,852.4 L309.2,847.0 L309.6,841.6 L309.9,836.2 L310.2,830.8 L310.5,825.4 L310.5,820.0Z" fill="#9e9ea4"/><path d="M309.2,820.0 L309.2,825.4 L308.9,830.8 L308.6,836.2 L308.3,841.6 L307.9,847.0 L307.6,852.4 L307.2,857.8 L306.7,863.2 L306.3,868.6 L305.9,874.0 L305.5,879.4 L305.1,884.8 L304.5,890.2 L303.8,895.6 L303.1,901.0 L302.5,906.4 L301.8,911.8 L301.1,917.2 L300.3,922.6 L299.4,928.0 L298.4,933.4 L297.5,938.8 L296.5,944.2 L295.6,949.6 L294.5,955.0 L292.8,960.4 L291.2,965.8 L289.5,971.2 L287.9,976.6 L287.2,982.0 L289.1,982.0 L289.8,976.6 L291.4,971.2 L293.1,965.8 L294.7,960.4 L296.4,955.0 L297.5,949.6 L298.4,944.2 L299.4,938.8 L300.3,933.4 L301.3,928.0 L302.2,922.6 L303.0,917.2 L303.7,911.8 L304.4,906.4 L305.0,901.0 L305.7,895.6 L306.4,890.2 L307.0,884.8 L307.4,879.4 L307.8,874.0 L308.2,868.6 L308.6,863.2 L309.1,857.8 L309.5,852.4 L309.8,847.0 L310.2,841.6 L310.5,836.2 L310.8,830.8 L311.1,825.4 L311.1,820.0Z" fill="#a3a3a9"/><path d="M309.8,820.0 L309.8,825.4 L309.5,830.8 L309.2,836.2 L308.9,841.6 L308.5,847.0 L308.2,852.4 L307.8,857.8 L307.3,863.2 L306.9,868.6 L306.5,874.0 L306.1,879.4 L305.7,884.8 L305.1,890.2 L304.4,895.6 L303.7,901.0 L303.1,906.4 L302.4,911.8 L301.7,917.2 L300.9,922.6 L300.0,928.0 L299.0,933.4 L298.1,938.8 L297.1,944.2 L296.2,949.6 L295.1,955.0 L293.4,960.4 L291.8,965.8 L290.1,971.2 L288.5,976.6 L287.8,982.0 L289.4,982.0 L290.2,976.6 L291.7,971.2 L293.4,965.8 L295.1,960.4 L296.7,955.0 L297.8,949.6 L298.8,944.2 L299.7,938.8 L300.7,933.4 L301.6,928.0 L302.6,922.6 L303.4,917.2 L304.0,911.8 L304.7,906.4 L305.4,901.0 L306.0,895.6 L306.7,890.2 L307.3,884.8 L307.7,879.4 L308.2,874.0 L308.6,868.6 L309.0,863.2 L309.4,857.8 L309.8,852.4 L310.1,847.0 L310.5,841.6 L310.8,836.2 L311.2,830.8 L311.4,825.4 L311.4,820.0Z" fill="#9e9ea4"/><path d="M310.1,820.0 L310.1,825.4 L309.9,830.8 L309.5,836.2 L309.2,841.6 L308.8,847.0 L308.5,852.4 L308.1,857.8 L307.7,863.2 L307.3,868.6 L306.9,874.0 L306.4,879.4 L306.0,884.8 L305.4,890.2 L304.7,895.6 L304.1,901.0 L303.4,906.4 L302.7,911.8 L302.1,917.2 L301.3,922.6 L300.3,928.0 L299.4,933.4 L298.4,938.8 L297.5,944.2 L296.5,949.6 L295.4,955.0 L293.8,960.4 L292.1,965.8 L290.4,971.2 L288.9,976.6 L288.1,982.0 L289.8,982.0 L290.5,976.6 L292.1,971.2 L293.7,965.8 L295.4,960.4 L297.1,955.0 L298.1,949.6 L299.1,944.2 L300.0,938.8 L301.0,933.4 L302.0,928.0 L302.9,922.6 L303.7,917.2 L304.4,911.8 L305.0,906.4 L305.7,901.0 L306.4,895.6 L307.0,890.2 L307.7,884.8 L308.1,879.4 L308.5,874.0 L308.9,868.6 L309.3,863.2 L309.7,857.8 L310.1,852.4 L310.5,847.0 L310.8,841.6 L311.2,836.2 L311.5,830.8 L311.8,825.4 L311.8,820.0Z" fill="#8d8d93"/><path d="M310.5,820.0 L310.5,825.4 L310.2,830.8 L309.9,836.2 L309.5,841.6 L309.2,847.0 L308.8,852.4 L308.4,857.8 L308.0,863.2 L307.6,868.6 L307.2,874.0 L306.8,879.4 L306.4,884.8 L305.7,890.2 L305.1,895.6 L304.4,901.0 L303.7,906.4 L303.1,911.8 L302.4,917.2 L301.6,922.6 L300.7,928.0 L299.7,933.4 L298.7,938.8 L297.8,944.2 L296.8,949.6 L295.8,955.0 L294.1,960.4 L292.4,965.8 L290.8,971.2 L289.2,976.6 L288.5,982.0 L290.1,982.0 L290.8,976.6 L292.4,971.2 L294.1,965.8 L295.7,960.4 L297.4,955.0 L298.5,949.6 L299.4,944.2 L300.4,938.8 L301.3,933.4 L302.3,928.0 L303.2,922.6 L304.0,917.2 L304.7,911.8 L305.4,906.4 L306.0,901.0 L306.7,895.6 L307.4,890.2 L308.0,884.8 L308.4,879.4 L308.8,874.0 L309.2,868.6 L309.6,863.2 L310.1,857.8 L310.5,852.4 L310.8,847.0 L311.2,841.6 L311.5,836.2 L311.8,830.8 L312.1,825.4 L312.1,820.0Z" fill="#7c7c82"/><path d="M310.8,820.0 L310.8,825.4 L310.5,830.8 L310.2,836.2 L309.9,841.6 L309.5,847.0 L309.2,852.4 L308.8,857.8 L308.3,863.2 L307.9,868.6 L307.5,874.0 L307.1,879.4 L306.7,884.8 L306.1,890.2 L305.4,895.6 L304.7,901.0 L304.1,906.4 L303.4,911.8 L302.7,917.2 L301.9,922.6 L301.0,928.0 L300.0,933.4 L299.1,938.8 L298.1,944.2 L297.2,949.6 L296.1,955.0 L294.4,960.4 L292.8,965.8 L291.1,971.2 L289.5,976.6 L288.8,982.0 L293.5,982.0 L294.2,976.6 L295.8,971.2 L297.5,965.8 L299.1,960.4 L300.8,955.0 L301.9,949.6 L302.8,944.2 L303.8,938.8 L304.7,933.4 L305.7,928.0 L306.6,922.6 L307.4,917.2 L308.1,911.8 L308.8,906.4 L309.4,901.0 L310.1,895.6 L310.8,890.2 L311.4,884.8 L311.8,879.4 L312.2,874.0 L312.6,868.6 L313.0,863.2 L313.5,857.8 L313.9,852.4 L314.2,847.0 L314.6,841.6 L314.9,836.2 L315.2,830.8 L315.5,825.4 L315.5,820.0Z" fill="#727278"/><path d="M314.2,820.0 L314.2,825.4 L313.9,830.8 L313.6,836.2 L313.3,841.6 L312.9,847.0 L312.6,852.4 L312.2,857.8 L311.7,863.2 L311.3,868.6 L310.9,874.0 L310.5,879.4 L310.1,884.8 L309.5,890.2 L308.8,895.6 L308.1,901.0 L307.5,906.4 L306.8,911.8 L306.1,917.2 L305.3,922.6 L304.4,928.0 L303.4,933.4 L302.5,938.8 L301.5,944.2 L300.6,949.6 L299.5,955.0 L297.8,960.4 L296.2,965.8 L294.5,971.2 L292.9,976.6 L292.2,982.0 L296.9,982.0 L297.6,976.6 L299.2,971.2 L300.9,965.8 L302.5,960.4 L304.2,955.0 L305.3,949.6 L306.2,944.2 L307.2,938.8 L308.1,933.4 L309.1,928.0 L310.0,922.6 L310.8,917.2 L311.5,911.8 L312.2,906.4 L312.8,901.0 L313.5,895.6 L314.2,890.2 L314.8,884.8 L315.2,879.4 L315.6,874.0 L316.0,868.6 L316.4,863.2 L316.9,857.8 L317.3,852.4 L317.6,847.0 L318.0,841.6 L318.3,836.2 L318.6,830.8 L318.9,825.4 L318.9,820.0Z" fill="#6f6f75"/><path d="M317.6,820.0 L317.6,825.4 L317.3,830.8 L317.0,836.2 L316.7,841.6 L316.3,847.0 L316.0,852.4 L315.6,857.8 L315.1,863.2 L314.7,868.6 L314.3,874.0 L313.9,879.4 L313.5,884.8 L312.9,890.2 L312.2,895.6 L311.5,901.0 L310.9,906.4 L310.2,911.8 L309.5,917.2 L308.7,922.6 L307.8,928.0 L306.8,933.4 L305.9,938.8 L304.9,944.2 L304.0,949.6 L302.9,955.0 L301.2,960.4 L299.6,965.8 L297.9,971.2 L296.3,976.6 L295.6,982.0 L300.3,982.0 L301.0,976.6 L302.6,971.2 L304.3,965.8 L305.9,960.4 L307.6,955.0 L308.7,949.6 L309.6,944.2 L310.6,938.8 L311.5,933.4 L312.5,928.0 L313.4,922.6 L314.2,917.2 L314.9,911.8 L315.6,906.4 L316.2,901.0 L316.9,895.6 L317.6,890.2 L318.2,884.8 L318.6,879.4 L319.0,874.0 L319.4,868.6 L319.8,863.2 L320.3,857.8 L320.7,852.4 L321.0,847.0 L321.4,841.6 L321.7,836.2 L322.0,830.8 L322.3,825.4 L322.3,820.0Z" fill="#6c6c72"/>
<path d="M172.6,845 C172.8,860 173.3,875 174.4,886 L176.5,886 C175.5,875 175,860 175,845 Z" fill="#f2f2f4" opacity="0.9"/>
<rect x="180" y="975.5" width="120" height="6" fill="#7a7a80" opacity="0.45"/>
</g>
<rect x="170.5" y="823.5" width="141" height="0.8" fill="#6a6a6a"/>
<rect x="171" y="824.3" width="140.5" height="2.2" fill="#eeeeee"/>
<path d="M221.6,846 C227,846 235,852 237,866 C238.5,880 233,902 225,920 C218,904 211.5,885 210.6,869 C210,856 215,846 221.6,846 Z" fill="#f6f6f6" stroke="#7a7a80" stroke-width="0.9"/>
<path d="M221,852 C223.5,853 225,858 225,866 C225,885 225,903 225,917 C221,903 215.5,885 215,866 C214.8,858 217.5,852 221,852 Z" fill="#55555b"/>
<path d="M291.5,843.5 C296,843.5 299,848 299,856 C299,876 296,898 289,918.3 C284,900 282,878 282.2,858 C282.4,849 286,843.5 291.5,843.5 Z" fill="#f6f6f6"/>
<path d="M289,845 C284.5,848 282.4,856 282.6,866 C283,885 285,903 289,917 C287.2,900 285.6,882 285.5,866 C285.5,856 286.5,849 289,845 Z" fill="#46464c"/>
</g>

<g fill="#0a2448" opacity="0.55">
<circle cx="244.6" cy="494.4" r="9"/>
<circle cx="244.6" cy="550.1" r="9"/>
<circle cx="244.6" cy="601.5" r="9"/>
<circle cx="244.6" cy="721" r="9"/>
</g>
<g stroke="#f4f7fb" stroke-width="4" fill="none" stroke-linejoin="miter" stroke-linecap="butt">
<polyline points="244.5,495.2 370.3,495.2 370.3,320.1 478,320.1"/>
<polyline points="244.5,550.2 371.8,550.2 371.8,513 478,513"/>
<polyline points="244.5,602 366.9,602 366.9,698.5 478,698.5"/>
<polyline points="244.5,721.8 370.4,721.8 370.4,876.7 478,876.7"/>
</g>

<g fill="#1f87ee">
<circle cx="244.6" cy="494.4" r="7.3"/>
<circle cx="244.6" cy="550.1" r="7.3"/>
<circle cx="244.6" cy="601.5" r="7.3"/>
<circle cx="244.6" cy="721" r="7.3"/>
</g>

<g fill="#284a7a">
<rect x="477.4" y="250.4" width="353.8" height="134.0"/>
<rect x="477.4" y="420.4" width="353.8" height="173.1"/>
<rect x="477.4" y="629.2" width="353.8" height="134.0"/>
<rect x="477.4" y="799.2" width="353.8" height="134.2"/>
</g>

<g font-size="22.5" text-anchor="middle" style="fill:#e9f1fc;stroke:#e9f1fc;stroke-width:0.3">
<text x="660" y="285" textLength="159" lengthAdjust="spacingAndGlyphs">Digital display</text>
<text x="660" y="327" textLength="255" lengthAdjust="spacingAndGlyphs">0 to 99% percentage is</text>
<text x="658.8" y="370.5" textLength="108.5" lengthAdjust="spacingAndGlyphs">displayed</text>
<text x="655.2" y="469.8" textLength="93" lengthAdjust="spacingAndGlyphs">Controls</text>
<text x="654.7" y="511" textLength="265.4" lengthAdjust="spacingAndGlyphs">White/yellow/Strong or</text>
<text x="655.5" y="554" textLength="98.6" lengthAdjust="spacingAndGlyphs">low light</text>
<text x="662.7" y="680" textLength="92.6" lengthAdjust="spacingAndGlyphs">Controls</text>
<text x="662" y="721" textLength="257" lengthAdjust="spacingAndGlyphs">365nm/395nm uv light</text>
<text x="661" y="848.4" textLength="118.5" lengthAdjust="spacingAndGlyphs">CHARGING</text>
<text x="662" y="890" textLength="201.4" lengthAdjust="spacingAndGlyphs">TYPE-C CHARGING</text>
</g>
</svg>
</body></html>
